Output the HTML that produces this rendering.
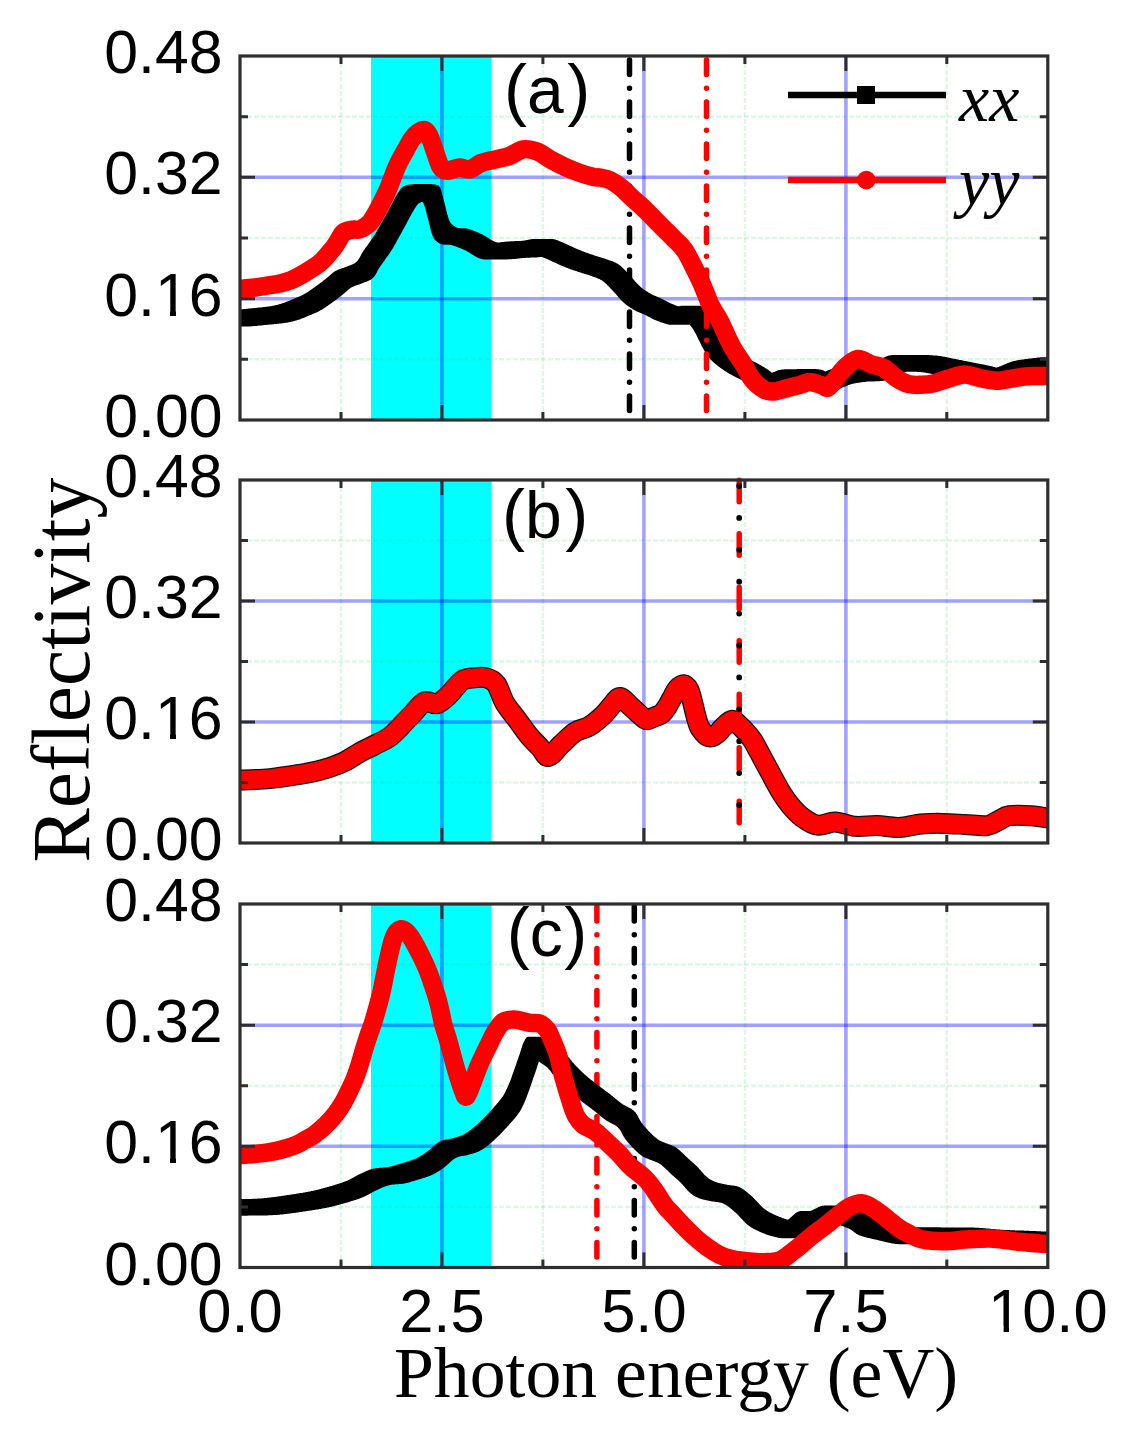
<!DOCTYPE html>
<html><head><meta charset="utf-8"><style>
html,body{margin:0;padding:0;background:#fff;}
svg{display:block;} .wrap{width:1135px;height:1441px;}
.ts{font-family:"Liberation Sans",sans-serif;}
.tf{font-family:"Liberation Serif",serif;font-variant-ligatures:none;font-feature-settings:"liga" 0;}
</style></head><body><div class="wrap">
<svg width="1135" height="1441" viewBox="0 0 1135 1441">
<rect width="1135" height="1441" fill="#fff"/>

<clipPath id="c0"><rect x="240.0" y="56.0" width="807.8" height="364.0"/></clipPath>
<clipPath id="c1"><rect x="240.0" y="480.0" width="807.8" height="363.0"/></clipPath>
<clipPath id="c2"><rect x="240.0" y="904.0" width="807.8" height="363.5"/></clipPath>
<g clip-path="url(#c0)"><rect x="371" y="56.0" width="120.5" height="364.0" fill="#00ffff"/><line x1="341.0" y1="56.0" x2="341.0" y2="420.0" stroke="rgba(0,200,60,0.13)" stroke-width="2.5" stroke-dasharray="5 2"/><line x1="542.9" y1="56.0" x2="542.9" y2="420.0" stroke="rgba(0,200,60,0.13)" stroke-width="2.5" stroke-dasharray="5 2"/><line x1="744.9" y1="56.0" x2="744.9" y2="420.0" stroke="rgba(0,200,60,0.13)" stroke-width="2.5" stroke-dasharray="5 2"/><line x1="946.8" y1="56.0" x2="946.8" y2="420.0" stroke="rgba(0,200,60,0.13)" stroke-width="2.5" stroke-dasharray="5 2"/><line x1="240.0" y1="359.3" x2="1047.8" y2="359.3" stroke="rgba(0,200,60,0.13)" stroke-width="2.5" stroke-dasharray="5 2"/><line x1="240.0" y1="238.0" x2="1047.8" y2="238.0" stroke="rgba(0,200,60,0.13)" stroke-width="2.5" stroke-dasharray="5 2"/><line x1="240.0" y1="116.7" x2="1047.8" y2="116.7" stroke="rgba(0,200,60,0.13)" stroke-width="2.5" stroke-dasharray="5 2"/><line x1="441.9" y1="56.0" x2="441.9" y2="420.0" stroke="rgba(0,0,255,0.37)" stroke-width="3.6"/><line x1="643.9" y1="56.0" x2="643.9" y2="420.0" stroke="rgba(0,0,255,0.37)" stroke-width="3.6"/><line x1="845.9" y1="56.0" x2="845.9" y2="420.0" stroke="rgba(0,0,255,0.37)" stroke-width="3.6"/><line x1="240.0" y1="298.7" x2="1047.8" y2="298.7" stroke="rgba(0,0,255,0.37)" stroke-width="3.6"/><line x1="240.0" y1="177.3" x2="1047.8" y2="177.3" stroke="rgba(0,0,255,0.37)" stroke-width="3.6"/></g>
<g clip-path="url(#c1)"><rect x="371" y="480.0" width="120.5" height="363.0" fill="#00ffff"/><line x1="341.0" y1="480.0" x2="341.0" y2="843.0" stroke="rgba(0,200,60,0.13)" stroke-width="2.5" stroke-dasharray="5 2"/><line x1="542.9" y1="480.0" x2="542.9" y2="843.0" stroke="rgba(0,200,60,0.13)" stroke-width="2.5" stroke-dasharray="5 2"/><line x1="744.9" y1="480.0" x2="744.9" y2="843.0" stroke="rgba(0,200,60,0.13)" stroke-width="2.5" stroke-dasharray="5 2"/><line x1="946.8" y1="480.0" x2="946.8" y2="843.0" stroke="rgba(0,200,60,0.13)" stroke-width="2.5" stroke-dasharray="5 2"/><line x1="240.0" y1="782.5" x2="1047.8" y2="782.5" stroke="rgba(0,200,60,0.13)" stroke-width="2.5" stroke-dasharray="5 2"/><line x1="240.0" y1="661.5" x2="1047.8" y2="661.5" stroke="rgba(0,200,60,0.13)" stroke-width="2.5" stroke-dasharray="5 2"/><line x1="240.0" y1="540.5" x2="1047.8" y2="540.5" stroke="rgba(0,200,60,0.13)" stroke-width="2.5" stroke-dasharray="5 2"/><line x1="441.9" y1="480.0" x2="441.9" y2="843.0" stroke="rgba(0,0,255,0.37)" stroke-width="3.6"/><line x1="643.9" y1="480.0" x2="643.9" y2="843.0" stroke="rgba(0,0,255,0.37)" stroke-width="3.6"/><line x1="845.9" y1="480.0" x2="845.9" y2="843.0" stroke="rgba(0,0,255,0.37)" stroke-width="3.6"/><line x1="240.0" y1="722.0" x2="1047.8" y2="722.0" stroke="rgba(0,0,255,0.37)" stroke-width="3.6"/><line x1="240.0" y1="601.0" x2="1047.8" y2="601.0" stroke="rgba(0,0,255,0.37)" stroke-width="3.6"/></g>
<g clip-path="url(#c2)"><rect x="371" y="904.0" width="120.5" height="363.5" fill="#00ffff"/><line x1="341.0" y1="904.0" x2="341.0" y2="1267.5" stroke="rgba(0,200,60,0.13)" stroke-width="2.5" stroke-dasharray="5 2"/><line x1="542.9" y1="904.0" x2="542.9" y2="1267.5" stroke="rgba(0,200,60,0.13)" stroke-width="2.5" stroke-dasharray="5 2"/><line x1="744.9" y1="904.0" x2="744.9" y2="1267.5" stroke="rgba(0,200,60,0.13)" stroke-width="2.5" stroke-dasharray="5 2"/><line x1="946.8" y1="904.0" x2="946.8" y2="1267.5" stroke="rgba(0,200,60,0.13)" stroke-width="2.5" stroke-dasharray="5 2"/><line x1="240.0" y1="1206.9" x2="1047.8" y2="1206.9" stroke="rgba(0,200,60,0.13)" stroke-width="2.5" stroke-dasharray="5 2"/><line x1="240.0" y1="1085.8" x2="1047.8" y2="1085.8" stroke="rgba(0,200,60,0.13)" stroke-width="2.5" stroke-dasharray="5 2"/><line x1="240.0" y1="964.6" x2="1047.8" y2="964.6" stroke="rgba(0,200,60,0.13)" stroke-width="2.5" stroke-dasharray="5 2"/><line x1="441.9" y1="904.0" x2="441.9" y2="1267.5" stroke="rgba(0,0,255,0.37)" stroke-width="3.6"/><line x1="643.9" y1="904.0" x2="643.9" y2="1267.5" stroke="rgba(0,0,255,0.37)" stroke-width="3.6"/><line x1="845.9" y1="904.0" x2="845.9" y2="1267.5" stroke="rgba(0,0,255,0.37)" stroke-width="3.6"/><line x1="240.0" y1="1146.3" x2="1047.8" y2="1146.3" stroke="rgba(0,0,255,0.37)" stroke-width="3.6"/><line x1="240.0" y1="1025.2" x2="1047.8" y2="1025.2" stroke="rgba(0,0,255,0.37)" stroke-width="3.6"/></g>
<line x1="629.5" y1="60.0" x2="629.5" y2="417.0" stroke="#000" stroke-width="5.5" stroke-linecap="round" stroke-dasharray="14.5 13.75 0 13.75" stroke-dashoffset="0"/>
<path clip-path="url(#c0)" d="M231.8,310.1h16.5v16.5h-16.5zM232.1,310.1h16.5v16.5h-16.5zM232.4,310.1h16.5v16.5h-16.5zM232.8,310.1h16.5v16.5h-16.5zM233.2,310.0h16.5v16.5h-16.5zM233.7,310.0h16.5v16.5h-16.5zM234.2,309.9h16.5v16.5h-16.5zM234.7,309.9h16.5v16.5h-16.5zM235.3,309.8h16.5v16.5h-16.5zM235.8,309.8h16.5v16.5h-16.5zM236.4,309.7h16.5v16.5h-16.5zM237.0,309.7h16.5v16.5h-16.5zM237.7,309.6h16.5v16.5h-16.5zM238.3,309.5h16.5v16.5h-16.5zM239.0,309.5h16.5v16.5h-16.5zM239.6,309.4h16.5v16.5h-16.5zM240.3,309.4h16.5v16.5h-16.5zM241.0,309.3h16.5v16.5h-16.5zM241.6,309.2h16.5v16.5h-16.5zM242.3,309.2h16.5v16.5h-16.5zM243.0,309.1h16.5v16.5h-16.5zM243.6,309.0h16.5v16.5h-16.5zM244.3,309.0h16.5v16.5h-16.5zM244.9,308.9h16.5v16.5h-16.5zM245.6,308.9h16.5v16.5h-16.5zM246.2,308.8h16.5v16.5h-16.5zM246.8,308.8h16.5v16.5h-16.5zM247.3,308.7h16.5v16.5h-16.5zM247.9,308.6h16.5v16.5h-16.5zM248.5,308.6h16.5v16.5h-16.5zM249.1,308.5h16.5v16.5h-16.5zM249.7,308.5h16.5v16.5h-16.5zM250.3,308.4h16.5v16.5h-16.5zM250.9,308.3h16.5v16.5h-16.5zM251.5,308.3h16.5v16.5h-16.5zM252.1,308.2h16.5v16.5h-16.5zM252.7,308.2h16.5v16.5h-16.5zM253.4,308.1h16.5v16.5h-16.5zM254.0,308.1h16.5v16.5h-16.5zM254.6,308.0h16.5v16.5h-16.5zM255.2,307.9h16.5v16.5h-16.5zM255.8,307.9h16.5v16.5h-16.5zM256.3,307.8h16.5v16.5h-16.5zM256.9,307.8h16.5v16.5h-16.5zM257.5,307.7h16.5v16.5h-16.5zM258.1,307.6h16.5v16.5h-16.5zM258.6,307.6h16.5v16.5h-16.5zM259.2,307.5h16.5v16.5h-16.5zM259.7,307.5h16.5v16.5h-16.5zM260.2,307.4h16.5v16.5h-16.5zM260.8,307.4h16.5v16.5h-16.5zM261.3,307.3h16.5v16.5h-16.5zM261.8,307.2h16.5v16.5h-16.5zM262.5,307.2h16.5v16.5h-16.5zM263.2,307.1h16.5v16.5h-16.5zM263.8,307.0h16.5v16.5h-16.5zM264.4,307.0h16.5v16.5h-16.5zM265.0,306.9h16.5v16.5h-16.5zM265.6,306.8h16.5v16.5h-16.5zM266.2,306.8h16.5v16.5h-16.5zM266.8,306.7h16.5v16.5h-16.5zM267.3,306.6h16.5v16.5h-16.5zM267.8,306.6h16.5v16.5h-16.5zM268.4,306.5h16.5v16.5h-16.5zM268.9,306.4h16.5v16.5h-16.5zM269.5,306.3h16.5v16.5h-16.5zM270.0,306.3h16.5v16.5h-16.5zM270.6,306.2h16.5v16.5h-16.5zM271.2,306.1h16.5v16.5h-16.5zM271.8,305.9h16.5v16.5h-16.5zM272.3,305.8h16.5v16.5h-16.5zM272.8,305.7h16.5v16.5h-16.5zM273.4,305.6h16.5v16.5h-16.5zM273.9,305.5h16.5v16.5h-16.5zM274.5,305.4h16.5v16.5h-16.5zM275.1,305.3h16.5v16.5h-16.5zM275.6,305.1h16.5v16.5h-16.5zM276.2,305.0h16.5v16.5h-16.5zM276.7,304.9h16.5v16.5h-16.5zM277.3,304.7h16.5v16.5h-16.5zM277.9,304.6h16.5v16.5h-16.5zM278.4,304.4h16.5v16.5h-16.5zM279.0,304.3h16.5v16.5h-16.5zM279.6,304.1h16.5v16.5h-16.5zM280.1,303.9h16.5v16.5h-16.5zM280.7,303.8h16.5v16.5h-16.5zM281.2,303.6h16.5v16.5h-16.5zM281.8,303.4h16.5v16.5h-16.5zM282.4,303.2h16.5v16.5h-16.5zM282.9,303.1h16.5v16.5h-16.5zM283.5,302.9h16.5v16.5h-16.5zM284.0,302.7h16.5v16.5h-16.5zM284.6,302.5h16.5v16.5h-16.5zM285.1,302.3h16.5v16.5h-16.5zM285.7,302.1h16.5v16.5h-16.5zM286.2,301.8h16.5v16.5h-16.5zM286.8,301.6h16.5v16.5h-16.5zM287.3,301.4h16.5v16.5h-16.5zM287.9,301.2h16.5v16.5h-16.5zM288.4,300.9h16.5v16.5h-16.5zM289.0,300.7h16.5v16.5h-16.5zM289.5,300.5h16.5v16.5h-16.5zM290.1,300.2h16.5v16.5h-16.5zM290.6,300.0h16.5v16.5h-16.5zM291.2,299.8h16.5v16.5h-16.5zM291.7,299.5h16.5v16.5h-16.5zM292.3,299.3h16.5v16.5h-16.5zM292.9,299.1h16.5v16.5h-16.5zM293.4,298.8h16.5v16.5h-16.5zM293.9,298.6h16.5v16.5h-16.5zM294.4,298.4h16.5v16.5h-16.5zM295.0,298.2h16.5v16.5h-16.5zM295.5,298.0h16.5v16.5h-16.5zM296.0,297.7h16.5v16.5h-16.5zM296.6,297.5h16.5v16.5h-16.5zM297.1,297.3h16.5v16.5h-16.5zM297.6,297.1h16.5v16.5h-16.5zM298.1,296.9h16.5v16.5h-16.5zM298.7,296.6h16.5v16.5h-16.5zM299.2,296.4h16.5v16.5h-16.5zM299.7,296.2h16.5v16.5h-16.5zM300.3,295.9h16.5v16.5h-16.5zM300.8,295.7h16.5v16.5h-16.5zM301.3,295.4h16.5v16.5h-16.5zM301.9,295.2h16.5v16.5h-16.5zM302.4,294.9h16.5v16.5h-16.5zM302.9,294.6h16.5v16.5h-16.5zM303.4,294.4h16.5v16.5h-16.5zM303.9,294.1h16.5v16.5h-16.5zM304.4,293.8h16.5v16.5h-16.5zM304.9,293.5h16.5v16.5h-16.5zM305.4,293.2h16.5v16.5h-16.5zM305.9,293.0h16.5v16.5h-16.5zM306.3,292.7h16.5v16.5h-16.5zM306.8,292.4h16.5v16.5h-16.5zM307.3,292.0h16.5v16.5h-16.5zM307.8,291.7h16.5v16.5h-16.5zM308.3,291.4h16.5v16.5h-16.5zM308.8,291.1h16.5v16.5h-16.5zM309.2,290.8h16.5v16.5h-16.5zM309.7,290.5h16.5v16.5h-16.5zM310.2,290.1h16.5v16.5h-16.5zM310.7,289.8h16.5v16.5h-16.5zM311.2,289.5h16.5v16.5h-16.5zM311.6,289.1h16.5v16.5h-16.5zM312.1,288.8h16.5v16.5h-16.5zM312.6,288.5h16.5v16.5h-16.5zM313.1,288.1h16.5v16.5h-16.5zM313.6,287.8h16.5v16.5h-16.5zM314.1,287.4h16.5v16.5h-16.5zM314.5,287.1h16.5v16.5h-16.5zM315.0,286.8h16.5v16.5h-16.5zM315.4,286.5h16.5v16.5h-16.5zM315.9,286.1h16.5v16.5h-16.5zM316.4,285.8h16.5v16.5h-16.5zM316.8,285.5h16.5v16.5h-16.5zM317.3,285.1h16.5v16.5h-16.5zM317.7,284.8h16.5v16.5h-16.5zM318.2,284.5h16.5v16.5h-16.5zM318.7,284.1h16.5v16.5h-16.5zM319.1,283.8h16.5v16.5h-16.5zM319.6,283.4h16.5v16.5h-16.5zM320.0,283.1h16.5v16.5h-16.5zM320.5,282.7h16.5v16.5h-16.5zM321.0,282.4h16.5v16.5h-16.5zM321.4,282.0h16.5v16.5h-16.5zM321.9,281.7h16.5v16.5h-16.5zM322.4,281.3h16.5v16.5h-16.5zM322.8,281.0h16.5v16.5h-16.5zM323.3,280.6h16.5v16.5h-16.5zM323.7,280.3h16.5v16.5h-16.5zM324.2,279.9h16.5v16.5h-16.5zM324.6,279.6h16.5v16.5h-16.5zM325.1,279.2h16.5v16.5h-16.5zM325.6,278.8h16.5v16.5h-16.5zM326.0,278.4h16.5v16.5h-16.5zM326.5,278.1h16.5v16.5h-16.5zM326.9,277.7h16.5v16.5h-16.5zM327.4,277.3h16.5v16.5h-16.5zM327.8,276.9h16.5v16.5h-16.5zM328.3,276.5h16.5v16.5h-16.5zM328.8,276.1h16.5v16.5h-16.5zM329.2,275.7h16.5v16.5h-16.5zM329.7,275.3h16.5v16.5h-16.5zM330.1,274.9h16.5v16.5h-16.5zM330.6,274.5h16.5v16.5h-16.5zM331.0,274.1h16.5v16.5h-16.5zM331.5,273.7h16.5v16.5h-16.5zM332.0,273.3h16.5v16.5h-16.5zM332.4,273.0h16.5v16.5h-16.5zM332.9,272.6h16.5v16.5h-16.5zM333.3,272.3h16.5v16.5h-16.5zM333.8,272.0h16.5v16.5h-16.5zM334.2,271.6h16.5v16.5h-16.5zM334.7,271.3h16.5v16.5h-16.5zM335.1,271.1h16.5v16.5h-16.5zM335.7,270.7h16.5v16.5h-16.5zM336.2,270.5h16.5v16.5h-16.5zM336.7,270.2h16.5v16.5h-16.5zM337.3,269.9h16.5v16.5h-16.5zM337.8,269.7h16.5v16.5h-16.5zM338.3,269.5h16.5v16.5h-16.5zM338.9,269.3h16.5v16.5h-16.5zM339.4,269.1h16.5v16.5h-16.5zM339.9,268.9h16.5v16.5h-16.5zM340.4,268.7h16.5v16.5h-16.5zM341.0,268.6h16.5v16.5h-16.5zM341.5,268.4h16.5v16.5h-16.5zM342.0,268.2h16.5v16.5h-16.5zM342.6,268.0h16.5v16.5h-16.5zM343.1,267.9h16.5v16.5h-16.5zM343.6,267.7h16.5v16.5h-16.5zM344.2,267.5h16.5v16.5h-16.5zM344.7,267.3h16.5v16.5h-16.5zM345.2,267.1h16.5v16.5h-16.5zM345.8,266.9h16.5v16.5h-16.5zM346.3,266.6h16.5v16.5h-16.5zM346.8,266.4h16.5v16.5h-16.5zM347.4,266.2h16.5v16.5h-16.5zM347.9,266.0h16.5v16.5h-16.5zM348.5,265.8h16.5v16.5h-16.5zM349.0,265.6h16.5v16.5h-16.5zM349.6,265.4h16.5v16.5h-16.5zM350.2,265.2h16.5v16.5h-16.5zM350.7,264.9h16.5v16.5h-16.5zM351.3,264.7h16.5v16.5h-16.5zM351.8,264.5h16.5v16.5h-16.5zM352.4,264.3h16.5v16.5h-16.5zM352.9,264.0h16.5v16.5h-16.5zM353.4,263.7h16.5v16.5h-16.5zM354.0,263.5h16.5v16.5h-16.5zM354.5,263.2h16.5v16.5h-16.5zM355.0,262.8h16.5v16.5h-16.5zM355.4,262.5h16.5v16.5h-16.5zM355.9,262.1h16.5v16.5h-16.5zM356.4,261.8h16.5v16.5h-16.5zM356.7,261.4h16.5v16.5h-16.5zM357.1,261.0h16.5v16.5h-16.5zM357.5,260.6h16.5v16.5h-16.5zM357.8,260.2h16.5v16.5h-16.5zM358.1,259.7h16.5v16.5h-16.5zM358.4,259.3h16.5v16.5h-16.5zM358.7,258.8h16.5v16.5h-16.5zM359.0,258.4h16.5v16.5h-16.5zM359.3,257.9h16.5v16.5h-16.5zM359.5,257.4h16.5v16.5h-16.5zM359.8,256.9h16.5v16.5h-16.5zM360.1,256.4h16.5v16.5h-16.5zM360.4,255.9h16.5v16.5h-16.5zM360.7,255.3h16.5v16.5h-16.5zM361.0,254.8h16.5v16.5h-16.5zM361.2,254.2h16.5v16.5h-16.5zM361.6,253.7h16.5v16.5h-16.5zM361.9,253.1h16.5v16.5h-16.5zM362.2,252.5h16.5v16.5h-16.5zM362.6,251.9h16.5v16.5h-16.5zM363.0,251.4h16.5v16.5h-16.5zM363.4,250.8h16.5v16.5h-16.5zM363.6,250.3h16.5v16.5h-16.5zM363.9,249.9h16.5v16.5h-16.5zM364.2,249.5h16.5v16.5h-16.5zM364.6,249.0h16.5v16.5h-16.5zM364.9,248.6h16.5v16.5h-16.5zM365.2,248.1h16.5v16.5h-16.5zM365.5,247.6h16.5v16.5h-16.5zM365.9,247.1h16.5v16.5h-16.5zM366.2,246.7h16.5v16.5h-16.5zM366.6,246.2h16.5v16.5h-16.5zM366.9,245.7h16.5v16.5h-16.5zM367.3,245.2h16.5v16.5h-16.5zM367.7,244.7h16.5v16.5h-16.5zM368.0,244.2h16.5v16.5h-16.5zM368.4,243.7h16.5v16.5h-16.5zM368.8,243.1h16.5v16.5h-16.5zM369.2,242.6h16.5v16.5h-16.5zM369.5,242.1h16.5v16.5h-16.5zM369.9,241.6h16.5v16.5h-16.5zM370.3,241.1h16.5v16.5h-16.5zM370.6,240.6h16.5v16.5h-16.5zM371.0,240.1h16.5v16.5h-16.5zM371.4,239.6h16.5v16.5h-16.5zM371.7,239.1h16.5v16.5h-16.5zM372.1,238.5h16.5v16.5h-16.5zM372.4,238.0h16.5v16.5h-16.5zM372.8,237.6h16.5v16.5h-16.5zM373.1,237.1h16.5v16.5h-16.5zM373.4,236.6h16.5v16.5h-16.5zM373.7,236.1h16.5v16.5h-16.5zM374.0,235.6h16.5v16.5h-16.5zM374.4,235.2h16.5v16.5h-16.5zM374.7,234.6h16.5v16.5h-16.5zM375.0,234.1h16.5v16.5h-16.5zM375.3,233.6h16.5v16.5h-16.5zM375.7,233.1h16.5v16.5h-16.5zM376.0,232.5h16.5v16.5h-16.5zM376.3,232.0h16.5v16.5h-16.5zM376.6,231.5h16.5v16.5h-16.5zM376.9,231.0h16.5v16.5h-16.5zM377.2,230.5h16.5v16.5h-16.5zM377.5,230.0h16.5v16.5h-16.5zM377.8,229.5h16.5v16.5h-16.5zM378.0,229.0h16.5v16.5h-16.5zM378.3,228.5h16.5v16.5h-16.5zM378.6,228.0h16.5v16.5h-16.5zM378.9,227.5h16.5v16.5h-16.5zM379.2,227.0h16.5v16.5h-16.5zM379.4,226.5h16.5v16.5h-16.5zM379.7,226.0h16.5v16.5h-16.5zM380.0,225.5h16.5v16.5h-16.5zM380.2,225.0h16.5v16.5h-16.5zM380.5,224.5h16.5v16.5h-16.5zM380.8,224.0h16.5v16.5h-16.5zM381.1,223.5h16.5v16.5h-16.5zM381.3,223.1h16.5v16.5h-16.5zM381.6,222.6h16.5v16.5h-16.5zM381.9,222.1h16.5v16.5h-16.5zM382.2,221.6h16.5v16.5h-16.5zM382.4,221.1h16.5v16.5h-16.5zM382.7,220.5h16.5v16.5h-16.5zM383.0,220.0h16.5v16.5h-16.5zM383.3,219.5h16.5v16.5h-16.5zM383.6,218.9h16.5v16.5h-16.5zM383.9,218.4h16.5v16.5h-16.5zM384.2,217.9h16.5v16.5h-16.5zM384.5,217.3h16.5v16.5h-16.5zM384.8,216.8h16.5v16.5h-16.5zM385.1,216.3h16.5v16.5h-16.5zM385.4,215.7h16.5v16.5h-16.5zM385.7,215.2h16.5v16.5h-16.5zM386.0,214.7h16.5v16.5h-16.5zM386.2,214.1h16.5v16.5h-16.5zM386.5,213.6h16.5v16.5h-16.5zM386.8,213.1h16.5v16.5h-16.5zM387.1,212.6h16.5v16.5h-16.5zM387.4,212.0h16.5v16.5h-16.5zM387.7,211.5h16.5v16.5h-16.5zM388.0,211.0h16.5v16.5h-16.5zM388.2,210.5h16.5v16.5h-16.5zM388.5,210.0h16.5v16.5h-16.5zM388.8,209.4h16.5v16.5h-16.5zM389.1,208.9h16.5v16.5h-16.5zM389.3,208.4h16.5v16.5h-16.5zM389.6,207.9h16.5v16.5h-16.5zM389.9,207.4h16.5v16.5h-16.5zM390.1,206.9h16.5v16.5h-16.5zM390.4,206.4h16.5v16.5h-16.5zM390.7,205.9h16.5v16.5h-16.5zM391.0,205.3h16.5v16.5h-16.5zM391.3,204.8h16.5v16.5h-16.5zM391.6,204.2h16.5v16.5h-16.5zM391.9,203.7h16.5v16.5h-16.5zM392.2,203.1h16.5v16.5h-16.5zM392.5,202.6h16.5v16.5h-16.5zM392.7,202.1h16.5v16.5h-16.5zM393.0,201.5h16.5v16.5h-16.5zM393.3,201.0h16.5v16.5h-16.5zM393.6,200.5h16.5v16.5h-16.5zM393.8,200.0h16.5v16.5h-16.5zM394.1,199.4h16.5v16.5h-16.5zM394.4,198.9h16.5v16.5h-16.5zM394.6,198.4h16.5v16.5h-16.5zM394.9,197.9h16.5v16.5h-16.5zM395.2,197.5h16.5v16.5h-16.5zM395.4,197.0h16.5v16.5h-16.5zM395.7,196.5h16.5v16.5h-16.5zM396.0,196.1h16.5v16.5h-16.5zM396.2,195.6h16.5v16.5h-16.5zM396.5,195.2h16.5v16.5h-16.5zM396.8,194.8h16.5v16.5h-16.5zM397.1,194.2h16.5v16.5h-16.5zM397.5,193.6h16.5v16.5h-16.5zM397.8,193.0h16.5v16.5h-16.5zM398.1,192.5h16.5v16.5h-16.5zM398.5,191.9h16.5v16.5h-16.5zM398.8,191.4h16.5v16.5h-16.5zM399.1,190.9h16.5v16.5h-16.5zM399.4,190.4h16.5v16.5h-16.5zM399.8,189.9h16.5v16.5h-16.5zM400.1,189.4h16.5v16.5h-16.5zM400.4,189.0h16.5v16.5h-16.5zM400.8,188.6h16.5v16.5h-16.5zM401.1,188.2h16.5v16.5h-16.5zM401.5,187.8h16.5v16.5h-16.5zM401.9,187.4h16.5v16.5h-16.5zM402.3,187.1h16.5v16.5h-16.5zM402.8,186.8h16.5v16.5h-16.5zM403.2,186.4h16.5v16.5h-16.5zM403.7,186.2h16.5v16.5h-16.5zM404.3,185.9h16.5v16.5h-16.5zM404.8,185.7h16.5v16.5h-16.5zM405.4,185.5h16.5v16.5h-16.5zM405.9,185.3h16.5v16.5h-16.5zM406.5,185.1h16.5v16.5h-16.5zM407.1,185.0h16.5v16.5h-16.5zM407.7,184.8h16.5v16.5h-16.5zM408.3,184.7h16.5v16.5h-16.5zM408.9,184.6h16.5v16.5h-16.5zM409.5,184.5h16.5v16.5h-16.5zM410.1,184.5h16.5v16.5h-16.5zM410.7,184.4h16.5v16.5h-16.5zM411.2,184.3h16.5v16.5h-16.5zM411.8,184.2h16.5v16.5h-16.5zM412.4,184.2h16.5v16.5h-16.5zM413.0,184.1h16.5v16.5h-16.5zM413.6,184.1h16.5v16.5h-16.5zM414.2,184.1h16.5v16.5h-16.5zM414.8,184.1h16.5v16.5h-16.5zM415.5,184.1h16.5v16.5h-16.5zM416.1,184.2h16.5v16.5h-16.5zM416.7,184.2h16.5v16.5h-16.5zM417.2,184.3h16.5v16.5h-16.5zM417.8,184.3h16.5v16.5h-16.5zM418.3,184.4h16.5v16.5h-16.5zM418.8,184.5h16.5v16.5h-16.5zM419.3,184.6h16.5v16.5h-16.5zM419.8,184.8h16.5v16.5h-16.5zM420.4,184.9h16.5v16.5h-16.5zM420.9,185.0h16.5v16.5h-16.5zM421.4,185.2h16.5v16.5h-16.5zM421.8,185.3h16.5v16.5h-16.5zM422.2,185.5h16.5v16.5h-16.5zM422.6,185.8h16.5v16.5h-16.5zM422.9,186.3h16.5v16.5h-16.5zM423.3,186.9h16.5v16.5h-16.5zM423.8,187.8h16.5v16.5h-16.5zM423.9,188.1h16.5v16.5h-16.5zM424.1,188.5h16.5v16.5h-16.5zM424.2,188.9h16.5v16.5h-16.5zM424.4,189.3h16.5v16.5h-16.5zM424.5,189.8h16.5v16.5h-16.5zM424.7,190.3h16.5v16.5h-16.5zM424.8,190.8h16.5v16.5h-16.5zM425.0,191.3h16.5v16.5h-16.5zM425.1,191.8h16.5v16.5h-16.5zM425.3,192.4h16.5v16.5h-16.5zM425.5,192.9h16.5v16.5h-16.5zM425.6,193.5h16.5v16.5h-16.5zM425.8,194.1h16.5v16.5h-16.5zM425.9,194.7h16.5v16.5h-16.5zM426.1,195.3h16.5v16.5h-16.5zM426.2,195.9h16.5v16.5h-16.5zM426.4,196.6h16.5v16.5h-16.5zM426.6,197.2h16.5v16.5h-16.5zM426.7,197.9h16.5v16.5h-16.5zM426.9,198.5h16.5v16.5h-16.5zM427.1,199.1h16.5v16.5h-16.5zM427.2,199.8h16.5v16.5h-16.5zM427.4,200.5h16.5v16.5h-16.5zM427.6,201.1h16.5v16.5h-16.5zM427.8,201.8h16.5v16.5h-16.5zM427.9,202.3h16.5v16.5h-16.5zM428.0,202.8h16.5v16.5h-16.5zM428.2,203.3h16.5v16.5h-16.5zM428.3,203.9h16.5v16.5h-16.5zM428.5,204.5h16.5v16.5h-16.5zM428.6,205.1h16.5v16.5h-16.5zM428.8,205.7h16.5v16.5h-16.5zM428.9,206.3h16.5v16.5h-16.5zM429.0,206.9h16.5v16.5h-16.5zM429.2,207.5h16.5v16.5h-16.5zM429.3,208.2h16.5v16.5h-16.5zM429.5,208.8h16.5v16.5h-16.5zM429.7,209.4h16.5v16.5h-16.5zM429.8,210.1h16.5v16.5h-16.5zM430.0,210.7h16.5v16.5h-16.5zM430.1,211.4h16.5v16.5h-16.5zM430.3,212.0h16.5v16.5h-16.5zM430.4,212.6h16.5v16.5h-16.5zM430.6,213.2h16.5v16.5h-16.5zM430.7,213.8h16.5v16.5h-16.5zM430.9,214.5h16.5v16.5h-16.5zM431.1,215.0h16.5v16.5h-16.5zM431.2,215.6h16.5v16.5h-16.5zM431.4,216.2h16.5v16.5h-16.5zM431.6,216.7h16.5v16.5h-16.5zM431.7,217.3h16.5v16.5h-16.5zM431.9,217.8h16.5v16.5h-16.5zM432.1,218.3h16.5v16.5h-16.5zM432.2,218.8h16.5v16.5h-16.5zM432.4,219.2h16.5v16.5h-16.5zM432.6,219.6h16.5v16.5h-16.5zM432.8,220.1h16.5v16.5h-16.5zM433.1,220.8h16.5v16.5h-16.5zM433.5,221.5h16.5v16.5h-16.5zM433.8,222.1h16.5v16.5h-16.5zM434.2,222.7h16.5v16.5h-16.5zM434.6,223.2h16.5v16.5h-16.5zM435.0,223.6h16.5v16.5h-16.5zM435.4,224.1h16.5v16.5h-16.5zM435.8,224.4h16.5v16.5h-16.5zM436.2,224.8h16.5v16.5h-16.5zM436.6,225.1h16.5v16.5h-16.5zM437.0,225.4h16.5v16.5h-16.5zM437.4,225.7h16.5v16.5h-16.5zM437.8,226.0h16.5v16.5h-16.5zM438.2,226.2h16.5v16.5h-16.5zM438.6,226.5h16.5v16.5h-16.5zM438.9,226.8h16.5v16.5h-16.5zM439.5,227.1h16.5v16.5h-16.5zM440.1,227.4h16.5v16.5h-16.5zM440.7,227.6h16.5v16.5h-16.5zM441.2,227.8h16.5v16.5h-16.5zM441.8,227.9h16.5v16.5h-16.5zM442.4,228.0h16.5v16.5h-16.5zM442.9,228.0h16.5v16.5h-16.5zM443.5,228.1h16.5v16.5h-16.5zM444.1,228.2h16.5v16.5h-16.5zM444.8,228.2h16.5v16.5h-16.5zM445.3,228.3h16.5v16.5h-16.5zM445.8,228.3h16.5v16.5h-16.5zM446.2,228.3h16.5v16.5h-16.5zM446.7,228.3h16.5v16.5h-16.5zM447.2,228.3h16.5v16.5h-16.5zM447.7,228.2h16.5v16.5h-16.5zM448.3,228.2h16.5v16.5h-16.5zM448.8,228.2h16.5v16.5h-16.5zM449.5,228.3h16.5v16.5h-16.5zM450.2,228.4h16.5v16.5h-16.5zM450.9,228.5h16.5v16.5h-16.5zM451.8,228.8h16.5v16.5h-16.5zM452.2,228.9h16.5v16.5h-16.5zM452.6,229.0h16.5v16.5h-16.5zM453.1,229.2h16.5v16.5h-16.5zM453.5,229.3h16.5v16.5h-16.5zM454.0,229.5h16.5v16.5h-16.5zM454.5,229.6h16.5v16.5h-16.5zM455.0,229.8h16.5v16.5h-16.5zM455.6,230.0h16.5v16.5h-16.5zM456.1,230.2h16.5v16.5h-16.5zM456.7,230.4h16.5v16.5h-16.5zM457.2,230.6h16.5v16.5h-16.5zM457.8,230.9h16.5v16.5h-16.5zM458.4,231.1h16.5v16.5h-16.5zM458.9,231.3h16.5v16.5h-16.5zM459.5,231.6h16.5v16.5h-16.5zM460.1,231.8h16.5v16.5h-16.5zM460.7,232.0h16.5v16.5h-16.5zM461.3,232.3h16.5v16.5h-16.5zM461.9,232.5h16.5v16.5h-16.5zM462.5,232.8h16.5v16.5h-16.5zM463.0,233.1h16.5v16.5h-16.5zM463.6,233.3h16.5v16.5h-16.5zM464.2,233.6h16.5v16.5h-16.5zM464.7,233.8h16.5v16.5h-16.5zM465.3,234.1h16.5v16.5h-16.5zM465.9,234.3h16.5v16.5h-16.5zM466.4,234.6h16.5v16.5h-16.5zM466.9,234.9h16.5v16.5h-16.5zM467.4,235.2h16.5v16.5h-16.5zM467.9,235.5h16.5v16.5h-16.5zM468.5,235.8h16.5v16.5h-16.5zM469.0,236.1h16.5v16.5h-16.5zM469.5,236.4h16.5v16.5h-16.5zM470.0,236.7h16.5v16.5h-16.5zM470.6,237.1h16.5v16.5h-16.5zM471.1,237.4h16.5v16.5h-16.5zM471.6,237.7h16.5v16.5h-16.5zM472.1,238.1h16.5v16.5h-16.5zM472.6,238.4h16.5v16.5h-16.5zM473.2,238.7h16.5v16.5h-16.5zM473.7,239.1h16.5v16.5h-16.5zM474.2,239.4h16.5v16.5h-16.5zM474.7,239.7h16.5v16.5h-16.5zM475.2,240.0h16.5v16.5h-16.5zM475.8,240.3h16.5v16.5h-16.5zM476.3,240.6h16.5v16.5h-16.5zM476.8,240.9h16.5v16.5h-16.5zM477.3,241.1h16.5v16.5h-16.5zM477.9,241.4h16.5v16.5h-16.5zM478.4,241.6h16.5v16.5h-16.5zM478.9,241.8h16.5v16.5h-16.5zM479.4,242.0h16.5v16.5h-16.5zM479.9,242.2h16.5v16.5h-16.5zM480.5,242.3h16.5v16.5h-16.5zM481.1,242.5h16.5v16.5h-16.5zM481.7,242.6h16.5v16.5h-16.5zM482.3,242.7h16.5v16.5h-16.5zM482.9,242.8h16.5v16.5h-16.5zM483.5,242.9h16.5v16.5h-16.5zM484.1,242.9h16.5v16.5h-16.5zM484.6,243.0h16.5v16.5h-16.5zM485.2,243.0h16.5v16.5h-16.5zM485.8,243.0h16.5v16.5h-16.5zM486.4,243.0h16.5v16.5h-16.5zM487.0,243.0h16.5v16.5h-16.5zM487.6,243.0h16.5v16.5h-16.5zM488.2,243.0h16.5v16.5h-16.5zM488.8,243.0h16.5v16.5h-16.5zM489.4,243.0h16.5v16.5h-16.5zM489.9,242.9h16.5v16.5h-16.5zM490.5,242.9h16.5v16.5h-16.5zM491.1,242.9h16.5v16.5h-16.5zM491.7,242.8h16.5v16.5h-16.5zM492.3,242.8h16.5v16.5h-16.5zM492.9,242.8h16.5v16.5h-16.5zM493.5,242.8h16.5v16.5h-16.5zM494.1,242.8h16.5v16.5h-16.5zM494.6,242.7h16.5v16.5h-16.5zM495.2,242.7h16.5v16.5h-16.5zM495.8,242.7h16.5v16.5h-16.5zM496.4,242.6h16.5v16.5h-16.5zM497.0,242.6h16.5v16.5h-16.5zM497.6,242.5h16.5v16.5h-16.5zM498.2,242.5h16.5v16.5h-16.5zM498.8,242.4h16.5v16.5h-16.5zM499.3,242.4h16.5v16.5h-16.5zM499.9,242.3h16.5v16.5h-16.5zM500.5,242.2h16.5v16.5h-16.5zM501.1,242.2h16.5v16.5h-16.5zM501.7,242.1h16.5v16.5h-16.5zM502.3,242.0h16.5v16.5h-16.5zM502.9,242.0h16.5v16.5h-16.5zM503.4,241.9h16.5v16.5h-16.5zM504.0,241.8h16.5v16.5h-16.5zM504.6,241.8h16.5v16.5h-16.5zM505.2,241.7h16.5v16.5h-16.5zM505.8,241.7h16.5v16.5h-16.5zM506.4,241.6h16.5v16.5h-16.5zM507.0,241.5h16.5v16.5h-16.5zM507.6,241.5h16.5v16.5h-16.5zM508.1,241.4h16.5v16.5h-16.5zM508.7,241.4h16.5v16.5h-16.5zM509.3,241.4h16.5v16.5h-16.5zM509.9,241.3h16.5v16.5h-16.5zM510.5,241.3h16.5v16.5h-16.5zM511.1,241.3h16.5v16.5h-16.5zM511.7,241.3h16.5v16.5h-16.5zM512.3,241.2h16.5v16.5h-16.5zM512.9,241.2h16.5v16.5h-16.5zM513.4,241.2h16.5v16.5h-16.5zM514.0,241.2h16.5v16.5h-16.5zM514.6,241.1h16.5v16.5h-16.5zM515.2,241.1h16.5v16.5h-16.5zM515.8,241.1h16.5v16.5h-16.5zM516.4,241.1h16.5v16.5h-16.5zM517.0,241.1h16.5v16.5h-16.5zM517.5,241.0h16.5v16.5h-16.5zM518.1,241.0h16.5v16.5h-16.5zM518.7,241.0h16.5v16.5h-16.5zM519.3,241.0h16.5v16.5h-16.5zM519.9,240.9h16.5v16.5h-16.5zM520.5,240.9h16.5v16.5h-16.5zM521.1,240.8h16.5v16.5h-16.5zM521.7,240.8h16.5v16.5h-16.5zM522.2,240.8h16.5v16.5h-16.5zM522.8,240.7h16.5v16.5h-16.5zM523.4,240.6h16.5v16.5h-16.5zM524.0,240.5h16.5v16.5h-16.5zM524.6,240.4h16.5v16.5h-16.5zM525.2,240.3h16.5v16.5h-16.5zM525.8,240.2h16.5v16.5h-16.5zM526.4,240.1h16.5v16.5h-16.5zM527.0,240.0h16.5v16.5h-16.5zM527.5,239.9h16.5v16.5h-16.5zM528.1,239.8h16.5v16.5h-16.5zM528.7,239.6h16.5v16.5h-16.5zM529.3,239.5h16.5v16.5h-16.5zM529.9,239.4h16.5v16.5h-16.5zM530.5,239.3h16.5v16.5h-16.5zM531.1,239.2h16.5v16.5h-16.5zM531.6,239.1h16.5v16.5h-16.5zM532.2,239.1h16.5v16.5h-16.5zM532.8,239.0h16.5v16.5h-16.5zM533.4,239.0h16.5v16.5h-16.5zM534.0,238.9h16.5v16.5h-16.5zM534.6,238.9h16.5v16.5h-16.5zM535.2,239.0h16.5v16.5h-16.5zM535.8,239.0h16.5v16.5h-16.5zM536.4,239.1h16.5v16.5h-16.5zM536.9,239.1h16.5v16.5h-16.5zM537.4,239.2h16.5v16.5h-16.5zM538.0,239.3h16.5v16.5h-16.5zM538.5,239.5h16.5v16.5h-16.5zM539.1,239.6h16.5v16.5h-16.5zM539.6,239.8h16.5v16.5h-16.5zM540.1,239.9h16.5v16.5h-16.5zM540.7,240.1h16.5v16.5h-16.5zM541.2,240.3h16.5v16.5h-16.5zM541.8,240.5h16.5v16.5h-16.5zM542.3,240.7h16.5v16.5h-16.5zM542.9,240.9h16.5v16.5h-16.5zM543.4,241.2h16.5v16.5h-16.5zM543.9,241.4h16.5v16.5h-16.5zM544.5,241.6h16.5v16.5h-16.5zM545.0,241.9h16.5v16.5h-16.5zM545.6,242.1h16.5v16.5h-16.5zM546.1,242.3h16.5v16.5h-16.5zM546.7,242.6h16.5v16.5h-16.5zM547.2,242.8h16.5v16.5h-16.5zM547.7,243.1h16.5v16.5h-16.5zM548.3,243.3h16.5v16.5h-16.5zM548.8,243.6h16.5v16.5h-16.5zM549.4,243.8h16.5v16.5h-16.5zM549.9,244.0h16.5v16.5h-16.5zM550.5,244.2h16.5v16.5h-16.5zM551.0,244.5h16.5v16.5h-16.5zM551.5,244.7h16.5v16.5h-16.5zM552.1,244.9h16.5v16.5h-16.5zM552.6,245.2h16.5v16.5h-16.5zM553.2,245.4h16.5v16.5h-16.5zM553.7,245.7h16.5v16.5h-16.5zM554.2,245.9h16.5v16.5h-16.5zM554.8,246.1h16.5v16.5h-16.5zM555.3,246.4h16.5v16.5h-16.5zM555.9,246.7h16.5v16.5h-16.5zM556.4,246.9h16.5v16.5h-16.5zM557.0,247.2h16.5v16.5h-16.5zM557.5,247.4h16.5v16.5h-16.5zM558.0,247.7h16.5v16.5h-16.5zM558.6,247.9h16.5v16.5h-16.5zM559.1,248.2h16.5v16.5h-16.5zM559.7,248.4h16.5v16.5h-16.5zM560.2,248.7h16.5v16.5h-16.5zM560.8,248.9h16.5v16.5h-16.5zM561.3,249.2h16.5v16.5h-16.5zM561.8,249.4h16.5v16.5h-16.5zM562.4,249.6h16.5v16.5h-16.5zM562.9,249.9h16.5v16.5h-16.5zM563.5,250.1h16.5v16.5h-16.5zM564.0,250.3h16.5v16.5h-16.5zM564.5,250.6h16.5v16.5h-16.5zM565.1,250.8h16.5v16.5h-16.5zM565.7,251.0h16.5v16.5h-16.5zM566.2,251.2h16.5v16.5h-16.5zM566.8,251.4h16.5v16.5h-16.5zM567.4,251.6h16.5v16.5h-16.5zM568.0,251.9h16.5v16.5h-16.5zM568.5,252.1h16.5v16.5h-16.5zM569.1,252.3h16.5v16.5h-16.5zM569.7,252.5h16.5v16.5h-16.5zM570.2,252.7h16.5v16.5h-16.5zM570.8,252.9h16.5v16.5h-16.5zM571.4,253.1h16.5v16.5h-16.5zM571.9,253.3h16.5v16.5h-16.5zM572.5,253.5h16.5v16.5h-16.5zM573.1,253.7h16.5v16.5h-16.5zM573.6,253.9h16.5v16.5h-16.5zM574.2,254.1h16.5v16.5h-16.5zM574.8,254.2h16.5v16.5h-16.5zM575.3,254.4h16.5v16.5h-16.5zM575.9,254.6h16.5v16.5h-16.5zM576.5,254.8h16.5v16.5h-16.5zM577.0,255.0h16.5v16.5h-16.5zM577.6,255.2h16.5v16.5h-16.5zM578.1,255.4h16.5v16.5h-16.5zM578.6,255.6h16.5v16.5h-16.5zM579.2,255.7h16.5v16.5h-16.5zM579.8,255.9h16.5v16.5h-16.5zM580.4,256.1h16.5v16.5h-16.5zM581.0,256.3h16.5v16.5h-16.5zM581.6,256.5h16.5v16.5h-16.5zM582.2,256.7h16.5v16.5h-16.5zM582.8,256.9h16.5v16.5h-16.5zM583.4,257.1h16.5v16.5h-16.5zM584.0,257.2h16.5v16.5h-16.5zM584.5,257.4h16.5v16.5h-16.5zM585.1,257.6h16.5v16.5h-16.5zM585.7,257.8h16.5v16.5h-16.5zM586.3,257.9h16.5v16.5h-16.5zM586.9,258.1h16.5v16.5h-16.5zM587.4,258.3h16.5v16.5h-16.5zM588.0,258.5h16.5v16.5h-16.5zM588.5,258.6h16.5v16.5h-16.5zM589.1,258.8h16.5v16.5h-16.5zM589.6,259.0h16.5v16.5h-16.5zM590.2,259.2h16.5v16.5h-16.5zM590.7,259.4h16.5v16.5h-16.5zM591.2,259.6h16.5v16.5h-16.5zM591.8,259.8h16.5v16.5h-16.5zM592.3,260.0h16.5v16.5h-16.5zM592.9,260.2h16.5v16.5h-16.5zM593.5,260.4h16.5v16.5h-16.5zM594.0,260.6h16.5v16.5h-16.5zM594.6,260.8h16.5v16.5h-16.5zM595.1,261.0h16.5v16.5h-16.5zM595.6,261.1h16.5v16.5h-16.5zM596.2,261.3h16.5v16.5h-16.5zM596.7,261.5h16.5v16.5h-16.5zM597.2,261.7h16.5v16.5h-16.5zM597.7,261.9h16.5v16.5h-16.5zM598.2,262.2h16.5v16.5h-16.5zM598.7,262.4h16.5v16.5h-16.5zM599.3,262.6h16.5v16.5h-16.5zM599.8,262.9h16.5v16.5h-16.5zM600.3,263.2h16.5v16.5h-16.5zM600.8,263.4h16.5v16.5h-16.5zM601.3,263.8h16.5v16.5h-16.5zM601.8,264.1h16.5v16.5h-16.5zM602.4,264.4h16.5v16.5h-16.5zM602.8,264.8h16.5v16.5h-16.5zM603.2,265.1h16.5v16.5h-16.5zM603.6,265.4h16.5v16.5h-16.5zM604.0,265.7h16.5v16.5h-16.5zM604.5,266.1h16.5v16.5h-16.5zM604.9,266.5h16.5v16.5h-16.5zM605.3,266.8h16.5v16.5h-16.5zM605.7,267.2h16.5v16.5h-16.5zM606.1,267.6h16.5v16.5h-16.5zM606.6,268.0h16.5v16.5h-16.5zM607.0,268.4h16.5v16.5h-16.5zM607.4,268.9h16.5v16.5h-16.5zM607.8,269.3h16.5v16.5h-16.5zM608.2,269.7h16.5v16.5h-16.5zM608.6,270.1h16.5v16.5h-16.5zM609.1,270.6h16.5v16.5h-16.5zM609.5,271.0h16.5v16.5h-16.5zM609.9,271.5h16.5v16.5h-16.5zM610.3,271.9h16.5v16.5h-16.5zM610.7,272.3h16.5v16.5h-16.5zM611.2,272.8h16.5v16.5h-16.5zM611.6,273.2h16.5v16.5h-16.5zM612.0,273.7h16.5v16.5h-16.5zM612.4,274.1h16.5v16.5h-16.5zM612.9,274.6h16.5v16.5h-16.5zM613.2,275.0h16.5v16.5h-16.5zM613.6,275.4h16.5v16.5h-16.5zM614.0,275.8h16.5v16.5h-16.5zM614.4,276.2h16.5v16.5h-16.5zM614.8,276.7h16.5v16.5h-16.5zM615.2,277.1h16.5v16.5h-16.5zM615.6,277.6h16.5v16.5h-16.5zM616.0,278.0h16.5v16.5h-16.5zM616.4,278.5h16.5v16.5h-16.5zM616.8,278.9h16.5v16.5h-16.5zM617.2,279.4h16.5v16.5h-16.5zM617.6,279.8h16.5v16.5h-16.5zM617.9,280.3h16.5v16.5h-16.5zM618.3,280.7h16.5v16.5h-16.5zM618.7,281.2h16.5v16.5h-16.5zM619.1,281.7h16.5v16.5h-16.5zM619.5,282.1h16.5v16.5h-16.5zM619.9,282.5h16.5v16.5h-16.5zM620.3,283.0h16.5v16.5h-16.5zM620.7,283.4h16.5v16.5h-16.5zM621.1,283.8h16.5v16.5h-16.5zM621.5,284.2h16.5v16.5h-16.5zM621.9,284.6h16.5v16.5h-16.5zM622.3,285.0h16.5v16.5h-16.5zM622.7,285.4h16.5v16.5h-16.5zM623.1,285.8h16.5v16.5h-16.5zM623.5,286.1h16.5v16.5h-16.5zM623.9,286.6h16.5v16.5h-16.5zM624.4,287.0h16.5v16.5h-16.5zM624.9,287.4h16.5v16.5h-16.5zM625.4,287.8h16.5v16.5h-16.5zM625.9,288.2h16.5v16.5h-16.5zM626.3,288.5h16.5v16.5h-16.5zM626.8,288.9h16.5v16.5h-16.5zM627.3,289.3h16.5v16.5h-16.5zM627.8,289.6h16.5v16.5h-16.5zM628.3,289.9h16.5v16.5h-16.5zM628.8,290.3h16.5v16.5h-16.5zM629.2,290.6h16.5v16.5h-16.5zM629.7,290.9h16.5v16.5h-16.5zM630.2,291.2h16.5v16.5h-16.5zM630.7,291.5h16.5v16.5h-16.5zM631.2,291.8h16.5v16.5h-16.5zM631.6,292.1h16.5v16.5h-16.5zM632.1,292.4h16.5v16.5h-16.5zM632.6,292.7h16.5v16.5h-16.5zM633.1,293.0h16.5v16.5h-16.5zM633.6,293.3h16.5v16.5h-16.5zM634.0,293.6h16.5v16.5h-16.5zM634.6,293.8h16.5v16.5h-16.5zM635.1,294.1h16.5v16.5h-16.5zM635.6,294.4h16.5v16.5h-16.5zM636.2,294.7h16.5v16.5h-16.5zM636.7,294.9h16.5v16.5h-16.5zM637.2,295.2h16.5v16.5h-16.5zM637.8,295.4h16.5v16.5h-16.5zM638.3,295.6h16.5v16.5h-16.5zM638.8,295.9h16.5v16.5h-16.5zM639.4,296.1h16.5v16.5h-16.5zM639.9,296.3h16.5v16.5h-16.5zM640.4,296.5h16.5v16.5h-16.5zM640.9,296.7h16.5v16.5h-16.5zM641.5,297.0h16.5v16.5h-16.5zM642.0,297.2h16.5v16.5h-16.5zM642.5,297.4h16.5v16.5h-16.5zM643.1,297.6h16.5v16.5h-16.5zM643.6,297.9h16.5v16.5h-16.5zM644.1,298.1h16.5v16.5h-16.5zM644.6,298.4h16.5v16.5h-16.5zM645.2,298.6h16.5v16.5h-16.5zM645.7,298.9h16.5v16.5h-16.5zM646.2,299.1h16.5v16.5h-16.5zM646.8,299.4h16.5v16.5h-16.5zM647.3,299.7h16.5v16.5h-16.5zM647.8,300.0h16.5v16.5h-16.5zM648.3,300.2h16.5v16.5h-16.5zM648.9,300.5h16.5v16.5h-16.5zM649.4,300.8h16.5v16.5h-16.5zM649.9,301.1h16.5v16.5h-16.5zM650.4,301.3h16.5v16.5h-16.5zM650.9,301.6h16.5v16.5h-16.5zM651.5,301.9h16.5v16.5h-16.5zM652.0,302.2h16.5v16.5h-16.5zM652.5,302.4h16.5v16.5h-16.5zM653.0,302.7h16.5v16.5h-16.5zM653.6,302.9h16.5v16.5h-16.5zM654.1,303.2h16.5v16.5h-16.5zM654.6,303.4h16.5v16.5h-16.5zM655.1,303.6h16.5v16.5h-16.5zM655.7,303.9h16.5v16.5h-16.5zM656.3,304.1h16.5v16.5h-16.5zM656.9,304.4h16.5v16.5h-16.5zM657.5,304.6h16.5v16.5h-16.5zM658.0,304.8h16.5v16.5h-16.5zM658.6,305.0h16.5v16.5h-16.5zM659.2,305.3h16.5v16.5h-16.5zM659.8,305.5h16.5v16.5h-16.5zM660.4,305.7h16.5v16.5h-16.5zM661.0,305.9h16.5v16.5h-16.5zM661.6,306.1h16.5v16.5h-16.5zM662.2,306.3h16.5v16.5h-16.5zM662.7,306.4h16.5v16.5h-16.5zM663.3,306.6h16.5v16.5h-16.5zM663.8,306.8h16.5v16.5h-16.5zM664.3,306.9h16.5v16.5h-16.5zM664.8,307.1h16.5v16.5h-16.5zM665.3,307.2h16.5v16.5h-16.5zM665.8,307.4h16.5v16.5h-16.5zM666.5,307.5h16.5v16.5h-16.5zM667.1,307.7h16.5v16.5h-16.5zM667.6,307.9h16.5v16.5h-16.5zM668.1,308.0h16.5v16.5h-16.5zM668.6,308.1h16.5v16.5h-16.5zM669.0,308.2h16.5v16.5h-16.5zM669.5,308.3h16.5v16.5h-16.5zM670.0,308.3h16.5v16.5h-16.5zM670.5,308.3h16.5v16.5h-16.5zM671.1,308.3h16.5v16.5h-16.5zM671.8,308.2h16.5v16.5h-16.5zM672.2,308.2h16.5v16.5h-16.5zM672.7,308.1h16.5v16.5h-16.5zM673.2,308.0h16.5v16.5h-16.5zM673.7,307.8h16.5v16.5h-16.5zM674.3,307.7h16.5v16.5h-16.5zM674.9,307.5h16.5v16.5h-16.5zM675.4,307.3h16.5v16.5h-16.5zM676.0,307.1h16.5v16.5h-16.5zM676.6,306.9h16.5v16.5h-16.5zM677.2,306.7h16.5v16.5h-16.5zM677.8,306.6h16.5v16.5h-16.5zM678.4,306.4h16.5v16.5h-16.5zM679.0,306.2h16.5v16.5h-16.5zM679.6,306.1h16.5v16.5h-16.5zM680.1,305.9h16.5v16.5h-16.5zM680.7,305.8h16.5v16.5h-16.5zM681.2,305.8h16.5v16.5h-16.5zM681.6,305.8h16.5v16.5h-16.5zM682.3,305.7h16.5v16.5h-16.5zM682.9,305.7h16.5v16.5h-16.5zM683.5,305.8h16.5v16.5h-16.5zM684.1,305.8h16.5v16.5h-16.5zM684.6,305.9h16.5v16.5h-16.5zM685.2,306.0h16.5v16.5h-16.5zM685.7,306.2h16.5v16.5h-16.5zM686.2,306.3h16.5v16.5h-16.5zM686.7,306.5h16.5v16.5h-16.5zM687.2,306.8h16.5v16.5h-16.5zM687.7,307.1h16.5v16.5h-16.5zM688.2,307.4h16.5v16.5h-16.5zM688.8,307.8h16.5v16.5h-16.5zM689.1,308.1h16.5v16.5h-16.5zM689.5,308.4h16.5v16.5h-16.5zM689.9,308.8h16.5v16.5h-16.5zM690.3,309.2h16.5v16.5h-16.5zM690.6,309.6h16.5v16.5h-16.5zM691.0,310.0h16.5v16.5h-16.5zM691.3,310.5h16.5v16.5h-16.5zM691.7,311.0h16.5v16.5h-16.5zM692.1,311.5h16.5v16.5h-16.5zM692.4,312.0h16.5v16.5h-16.5zM692.8,312.5h16.5v16.5h-16.5zM693.1,313.1h16.5v16.5h-16.5zM693.4,313.6h16.5v16.5h-16.5zM693.8,314.1h16.5v16.5h-16.5zM694.1,314.7h16.5v16.5h-16.5zM694.4,315.2h16.5v16.5h-16.5zM694.8,315.8h16.5v16.5h-16.5zM695.0,316.2h16.5v16.5h-16.5zM695.3,316.7h16.5v16.5h-16.5zM695.6,317.2h16.5v16.5h-16.5zM695.9,317.7h16.5v16.5h-16.5zM696.1,318.2h16.5v16.5h-16.5zM696.4,318.7h16.5v16.5h-16.5zM696.6,319.2h16.5v16.5h-16.5zM696.9,319.8h16.5v16.5h-16.5zM697.1,320.3h16.5v16.5h-16.5zM697.4,320.8h16.5v16.5h-16.5zM697.6,321.4h16.5v16.5h-16.5zM697.9,321.9h16.5v16.5h-16.5zM698.1,322.4h16.5v16.5h-16.5zM698.4,323.0h16.5v16.5h-16.5zM698.6,323.5h16.5v16.5h-16.5zM698.9,324.1h16.5v16.5h-16.5zM699.2,324.6h16.5v16.5h-16.5zM699.5,325.2h16.5v16.5h-16.5zM699.8,325.8h16.5v16.5h-16.5zM700.0,326.3h16.5v16.5h-16.5zM700.3,326.8h16.5v16.5h-16.5zM700.5,327.3h16.5v16.5h-16.5zM700.8,327.8h16.5v16.5h-16.5zM701.1,328.3h16.5v16.5h-16.5zM701.3,328.9h16.5v16.5h-16.5zM701.6,329.4h16.5v16.5h-16.5zM701.9,329.9h16.5v16.5h-16.5zM702.2,330.5h16.5v16.5h-16.5zM702.4,331.0h16.5v16.5h-16.5zM702.7,331.6h16.5v16.5h-16.5zM703.0,332.1h16.5v16.5h-16.5zM703.3,332.6h16.5v16.5h-16.5zM703.6,333.2h16.5v16.5h-16.5zM703.9,333.7h16.5v16.5h-16.5zM704.2,334.2h16.5v16.5h-16.5zM704.5,334.8h16.5v16.5h-16.5zM704.8,335.3h16.5v16.5h-16.5zM705.1,335.8h16.5v16.5h-16.5zM705.4,336.3h16.5v16.5h-16.5zM705.8,336.8h16.5v16.5h-16.5zM706.1,337.2h16.5v16.5h-16.5zM706.4,337.7h16.5v16.5h-16.5zM706.7,338.2h16.5v16.5h-16.5zM707.1,338.7h16.5v16.5h-16.5zM707.4,339.2h16.5v16.5h-16.5zM707.7,339.6h16.5v16.5h-16.5zM708.0,340.1h16.5v16.5h-16.5zM708.4,340.5h16.5v16.5h-16.5zM708.7,341.0h16.5v16.5h-16.5zM709.0,341.4h16.5v16.5h-16.5zM709.4,341.8h16.5v16.5h-16.5zM709.8,342.3h16.5v16.5h-16.5zM710.1,342.7h16.5v16.5h-16.5zM710.5,343.2h16.5v16.5h-16.5zM711.0,343.6h16.5v16.5h-16.5zM711.4,344.1h16.5v16.5h-16.5zM711.8,344.5h16.5v16.5h-16.5zM712.3,345.0h16.5v16.5h-16.5zM712.8,345.5h16.5v16.5h-16.5zM713.4,345.9h16.5v16.5h-16.5zM713.7,346.3h16.5v16.5h-16.5zM714.1,346.6h16.5v16.5h-16.5zM714.5,346.9h16.5v16.5h-16.5zM714.9,347.3h16.5v16.5h-16.5zM715.3,347.6h16.5v16.5h-16.5zM715.8,348.0h16.5v16.5h-16.5zM716.2,348.3h16.5v16.5h-16.5zM716.6,348.7h16.5v16.5h-16.5zM717.1,349.0h16.5v16.5h-16.5zM717.6,349.4h16.5v16.5h-16.5zM718.0,349.8h16.5v16.5h-16.5zM718.5,350.1h16.5v16.5h-16.5zM719.0,350.5h16.5v16.5h-16.5zM719.5,350.8h16.5v16.5h-16.5zM720.0,351.2h16.5v16.5h-16.5zM720.5,351.6h16.5v16.5h-16.5zM721.0,351.9h16.5v16.5h-16.5zM721.5,352.3h16.5v16.5h-16.5zM722.0,352.6h16.5v16.5h-16.5zM722.5,353.0h16.5v16.5h-16.5zM723.0,353.3h16.5v16.5h-16.5zM723.5,353.7h16.5v16.5h-16.5zM724.0,354.0h16.5v16.5h-16.5zM724.5,354.4h16.5v16.5h-16.5zM725.0,354.7h16.5v16.5h-16.5zM725.5,355.0h16.5v16.5h-16.5zM726.0,355.3h16.5v16.5h-16.5zM726.5,355.6h16.5v16.5h-16.5zM727.0,355.9h16.5v16.5h-16.5zM727.5,356.2h16.5v16.5h-16.5zM728.0,356.6h16.5v16.5h-16.5zM728.5,356.9h16.5v16.5h-16.5zM729.1,357.2h16.5v16.5h-16.5zM729.6,357.5h16.5v16.5h-16.5zM730.1,357.8h16.5v16.5h-16.5zM730.7,358.1h16.5v16.5h-16.5zM731.3,358.4h16.5v16.5h-16.5zM731.8,358.7h16.5v16.5h-16.5zM732.4,359.0h16.5v16.5h-16.5zM732.9,359.3h16.5v16.5h-16.5zM733.5,359.6h16.5v16.5h-16.5zM734.0,359.9h16.5v16.5h-16.5zM734.6,360.1h16.5v16.5h-16.5zM735.1,360.4h16.5v16.5h-16.5zM735.7,360.7h16.5v16.5h-16.5zM736.2,360.9h16.5v16.5h-16.5zM736.8,361.2h16.5v16.5h-16.5zM737.3,361.5h16.5v16.5h-16.5zM737.8,361.7h16.5v16.5h-16.5zM738.3,362.0h16.5v16.5h-16.5zM738.9,362.2h16.5v16.5h-16.5zM739.4,362.5h16.5v16.5h-16.5zM739.9,362.7h16.5v16.5h-16.5zM740.3,363.0h16.5v16.5h-16.5zM740.8,363.2h16.5v16.5h-16.5zM741.3,363.5h16.5v16.5h-16.5zM741.8,363.8h16.5v16.5h-16.5zM742.3,364.1h16.5v16.5h-16.5zM742.9,364.4h16.5v16.5h-16.5zM743.5,364.7h16.5v16.5h-16.5zM744.0,365.0h16.5v16.5h-16.5zM744.5,365.3h16.5v16.5h-16.5zM745.1,365.6h16.5v16.5h-16.5zM745.6,365.9h16.5v16.5h-16.5zM746.0,366.2h16.5v16.5h-16.5zM746.5,366.5h16.5v16.5h-16.5zM747.0,366.8h16.5v16.5h-16.5zM747.5,367.1h16.5v16.5h-16.5zM747.9,367.3h16.5v16.5h-16.5zM748.4,367.6h16.5v16.5h-16.5zM748.9,367.9h16.5v16.5h-16.5zM749.3,368.2h16.5v16.5h-16.5zM749.8,368.5h16.5v16.5h-16.5zM750.3,368.8h16.5v16.5h-16.5zM750.8,369.1h16.5v16.5h-16.5zM751.3,369.4h16.5v16.5h-16.5zM751.8,369.8h16.5v16.5h-16.5zM752.2,370.1h16.5v16.5h-16.5zM752.7,370.4h16.5v16.5h-16.5zM753.2,370.8h16.5v16.5h-16.5zM753.7,371.2h16.5v16.5h-16.5zM754.2,371.6h16.5v16.5h-16.5zM754.7,372.0h16.5v16.5h-16.5zM755.2,372.4h16.5v16.5h-16.5zM755.6,372.8h16.5v16.5h-16.5zM756.1,373.3h16.5v16.5h-16.5zM756.6,373.7h16.5v16.5h-16.5zM757.1,374.1h16.5v16.5h-16.5zM757.6,374.5h16.5v16.5h-16.5zM758.1,374.8h16.5v16.5h-16.5zM758.6,375.2h16.5v16.5h-16.5zM759.1,375.5h16.5v16.5h-16.5zM759.5,375.8h16.5v16.5h-16.5zM760.0,376.1h16.5v16.5h-16.5zM760.5,376.3h16.5v16.5h-16.5zM761.0,376.5h16.5v16.5h-16.5zM761.5,376.7h16.5v16.5h-16.5zM762.0,376.8h16.5v16.5h-16.5zM762.5,376.8h16.5v16.5h-16.5zM763.1,376.8h16.5v16.5h-16.5zM763.6,376.7h16.5v16.5h-16.5zM764.2,376.6h16.5v16.5h-16.5zM764.7,376.4h16.5v16.5h-16.5zM765.3,376.2h16.5v16.5h-16.5zM765.8,375.9h16.5v16.5h-16.5zM766.4,375.7h16.5v16.5h-16.5zM766.9,375.4h16.5v16.5h-16.5zM767.5,375.1h16.5v16.5h-16.5zM768.0,374.7h16.5v16.5h-16.5zM768.6,374.4h16.5v16.5h-16.5zM769.1,374.1h16.5v16.5h-16.5zM769.7,373.8h16.5v16.5h-16.5zM770.2,373.5h16.5v16.5h-16.5zM770.7,373.2h16.5v16.5h-16.5zM771.2,373.0h16.5v16.5h-16.5zM771.8,372.8h16.5v16.5h-16.5zM772.3,372.5h16.5v16.5h-16.5zM772.9,372.3h16.5v16.5h-16.5zM773.4,372.1h16.5v16.5h-16.5zM773.9,371.9h16.5v16.5h-16.5zM774.5,371.7h16.5v16.5h-16.5zM775.0,371.4h16.5v16.5h-16.5zM775.5,371.2h16.5v16.5h-16.5zM776.0,371.0h16.5v16.5h-16.5zM776.5,370.8h16.5v16.5h-16.5zM777.0,370.6h16.5v16.5h-16.5zM777.6,370.5h16.5v16.5h-16.5zM778.1,370.3h16.5v16.5h-16.5zM778.7,370.1h16.5v16.5h-16.5zM779.2,370.0h16.5v16.5h-16.5zM779.8,369.9h16.5v16.5h-16.5zM780.5,369.8h16.5v16.5h-16.5zM781.0,369.7h16.5v16.5h-16.5zM781.5,369.6h16.5v16.5h-16.5zM782.1,369.5h16.5v16.5h-16.5zM782.6,369.5h16.5v16.5h-16.5zM783.2,369.4h16.5v16.5h-16.5zM783.8,369.4h16.5v16.5h-16.5zM784.3,369.3h16.5v16.5h-16.5zM784.9,369.3h16.5v16.5h-16.5zM785.5,369.3h16.5v16.5h-16.5zM786.1,369.3h16.5v16.5h-16.5zM786.7,369.3h16.5v16.5h-16.5zM787.3,369.3h16.5v16.5h-16.5zM787.9,369.2h16.5v16.5h-16.5zM788.6,369.2h16.5v16.5h-16.5zM789.2,369.2h16.5v16.5h-16.5zM789.8,369.2h16.5v16.5h-16.5zM790.5,369.2h16.5v16.5h-16.5zM791.1,369.2h16.5v16.5h-16.5zM791.8,369.2h16.5v16.5h-16.5zM792.3,369.2h16.5v16.5h-16.5zM792.8,369.2h16.5v16.5h-16.5zM793.4,369.2h16.5v16.5h-16.5zM794.0,369.2h16.5v16.5h-16.5zM794.6,369.2h16.5v16.5h-16.5zM795.1,369.2h16.5v16.5h-16.5zM795.7,369.2h16.5v16.5h-16.5zM796.3,369.2h16.5v16.5h-16.5zM796.9,369.1h16.5v16.5h-16.5zM797.5,369.1h16.5v16.5h-16.5zM798.1,369.1h16.5v16.5h-16.5zM798.7,369.1h16.5v16.5h-16.5zM799.3,369.1h16.5v16.5h-16.5zM799.9,369.1h16.5v16.5h-16.5zM800.5,369.2h16.5v16.5h-16.5zM801.1,369.2h16.5v16.5h-16.5zM801.7,369.2h16.5v16.5h-16.5zM802.3,369.3h16.5v16.5h-16.5zM802.9,369.4h16.5v16.5h-16.5zM803.5,369.4h16.5v16.5h-16.5zM804.0,369.5h16.5v16.5h-16.5zM804.6,369.6h16.5v16.5h-16.5zM805.1,369.8h16.5v16.5h-16.5zM805.7,369.9h16.5v16.5h-16.5zM806.3,370.1h16.5v16.5h-16.5zM806.8,370.3h16.5v16.5h-16.5zM807.4,370.6h16.5v16.5h-16.5zM807.9,370.9h16.5v16.5h-16.5zM808.5,371.2h16.5v16.5h-16.5zM809.0,371.5h16.5v16.5h-16.5zM809.6,371.8h16.5v16.5h-16.5zM810.1,372.1h16.5v16.5h-16.5zM810.6,372.5h16.5v16.5h-16.5zM811.2,372.8h16.5v16.5h-16.5zM811.7,373.1h16.5v16.5h-16.5zM812.2,373.5h16.5v16.5h-16.5zM812.7,373.8h16.5v16.5h-16.5zM813.2,374.1h16.5v16.5h-16.5zM813.8,374.3h16.5v16.5h-16.5zM814.3,374.6h16.5v16.5h-16.5zM814.8,374.8h16.5v16.5h-16.5zM815.3,375.0h16.5v16.5h-16.5zM815.8,375.1h16.5v16.5h-16.5zM816.3,375.2h16.5v16.5h-16.5zM816.8,375.2h16.5v16.5h-16.5zM817.3,375.2h16.5v16.5h-16.5zM817.9,375.2h16.5v16.5h-16.5zM818.4,375.1h16.5v16.5h-16.5zM819.0,374.9h16.5v16.5h-16.5zM819.5,374.8h16.5v16.5h-16.5zM820.0,374.5h16.5v16.5h-16.5zM820.6,374.3h16.5v16.5h-16.5zM821.1,374.0h16.5v16.5h-16.5zM821.6,373.7h16.5v16.5h-16.5zM822.1,373.4h16.5v16.5h-16.5zM822.6,373.1h16.5v16.5h-16.5zM823.1,372.8h16.5v16.5h-16.5zM823.6,372.4h16.5v16.5h-16.5zM824.2,372.1h16.5v16.5h-16.5zM824.7,371.8h16.5v16.5h-16.5zM825.2,371.5h16.5v16.5h-16.5zM825.7,371.2h16.5v16.5h-16.5zM826.2,371.0h16.5v16.5h-16.5zM826.8,370.8h16.5v16.5h-16.5zM827.3,370.5h16.5v16.5h-16.5zM827.8,370.3h16.5v16.5h-16.5zM828.4,370.1h16.5v16.5h-16.5zM828.9,369.9h16.5v16.5h-16.5zM829.4,369.7h16.5v16.5h-16.5zM829.9,369.5h16.5v16.5h-16.5zM830.5,369.3h16.5v16.5h-16.5zM831.0,369.0h16.5v16.5h-16.5zM831.5,368.9h16.5v16.5h-16.5zM832.0,368.7h16.5v16.5h-16.5zM832.6,368.5h16.5v16.5h-16.5zM833.1,368.3h16.5v16.5h-16.5zM833.7,368.1h16.5v16.5h-16.5zM834.3,367.9h16.5v16.5h-16.5zM834.9,367.7h16.5v16.5h-16.5zM835.5,367.6h16.5v16.5h-16.5zM836.1,367.4h16.5v16.5h-16.5zM836.8,367.2h16.5v16.5h-16.5zM837.3,367.1h16.5v16.5h-16.5zM837.8,367.0h16.5v16.5h-16.5zM838.3,366.9h16.5v16.5h-16.5zM838.8,366.8h16.5v16.5h-16.5zM839.3,366.7h16.5v16.5h-16.5zM839.9,366.6h16.5v16.5h-16.5zM840.4,366.5h16.5v16.5h-16.5zM840.9,366.4h16.5v16.5h-16.5zM841.5,366.3h16.5v16.5h-16.5zM842.0,366.2h16.5v16.5h-16.5zM842.6,366.2h16.5v16.5h-16.5zM843.2,366.1h16.5v16.5h-16.5zM843.8,366.0h16.5v16.5h-16.5zM844.4,365.9h16.5v16.5h-16.5zM845.0,365.8h16.5v16.5h-16.5zM845.6,365.7h16.5v16.5h-16.5zM846.2,365.7h16.5v16.5h-16.5zM846.8,365.6h16.5v16.5h-16.5zM847.4,365.5h16.5v16.5h-16.5zM848.1,365.4h16.5v16.5h-16.5zM848.7,365.4h16.5v16.5h-16.5zM849.4,365.3h16.5v16.5h-16.5zM850.1,365.2h16.5v16.5h-16.5zM850.8,365.1h16.5v16.5h-16.5zM851.3,365.1h16.5v16.5h-16.5zM851.8,365.1h16.5v16.5h-16.5zM852.3,365.0h16.5v16.5h-16.5zM852.9,365.0h16.5v16.5h-16.5zM853.4,365.0h16.5v16.5h-16.5zM854.0,364.9h16.5v16.5h-16.5zM854.6,364.9h16.5v16.5h-16.5zM855.2,364.9h16.5v16.5h-16.5zM855.8,364.9h16.5v16.5h-16.5zM856.3,364.9h16.5v16.5h-16.5zM856.9,364.9h16.5v16.5h-16.5zM857.5,364.9h16.5v16.5h-16.5zM858.1,364.9h16.5v16.5h-16.5zM858.8,364.8h16.5v16.5h-16.5zM859.4,364.8h16.5v16.5h-16.5zM860.0,364.8h16.5v16.5h-16.5zM860.6,364.8h16.5v16.5h-16.5zM861.2,364.8h16.5v16.5h-16.5zM861.8,364.8h16.5v16.5h-16.5zM862.5,364.7h16.5v16.5h-16.5zM863.1,364.7h16.5v16.5h-16.5zM863.7,364.7h16.5v16.5h-16.5zM864.3,364.6h16.5v16.5h-16.5zM864.9,364.5h16.5v16.5h-16.5zM865.5,364.5h16.5v16.5h-16.5zM866.2,364.4h16.5v16.5h-16.5zM866.8,364.3h16.5v16.5h-16.5zM867.4,364.2h16.5v16.5h-16.5zM868.0,364.1h16.5v16.5h-16.5zM868.6,364.0h16.5v16.5h-16.5zM869.2,363.9h16.5v16.5h-16.5zM869.8,363.8h16.5v16.5h-16.5zM870.3,363.6h16.5v16.5h-16.5zM870.9,363.4h16.5v16.5h-16.5zM871.4,363.3h16.5v16.5h-16.5zM872.0,363.1h16.5v16.5h-16.5zM872.5,362.9h16.5v16.5h-16.5zM873.1,362.6h16.5v16.5h-16.5zM873.7,362.4h16.5v16.5h-16.5zM874.2,362.2h16.5v16.5h-16.5zM874.8,361.9h16.5v16.5h-16.5zM875.4,361.7h16.5v16.5h-16.5zM875.9,361.4h16.5v16.5h-16.5zM876.5,361.1h16.5v16.5h-16.5zM877.1,360.8h16.5v16.5h-16.5zM877.6,360.6h16.5v16.5h-16.5zM878.2,360.3h16.5v16.5h-16.5zM878.8,360.0h16.5v16.5h-16.5zM879.3,359.7h16.5v16.5h-16.5zM879.9,359.4h16.5v16.5h-16.5zM880.4,359.1h16.5v16.5h-16.5zM881.0,358.8h16.5v16.5h-16.5zM881.5,358.6h16.5v16.5h-16.5zM882.1,358.3h16.5v16.5h-16.5zM882.6,358.0h16.5v16.5h-16.5zM883.1,357.8h16.5v16.5h-16.5zM883.6,357.5h16.5v16.5h-16.5zM884.2,357.3h16.5v16.5h-16.5zM884.7,357.0h16.5v16.5h-16.5zM885.2,356.8h16.5v16.5h-16.5zM885.7,356.6h16.5v16.5h-16.5zM886.2,356.4h16.5v16.5h-16.5zM886.7,356.2h16.5v16.5h-16.5zM887.1,356.0h16.5v16.5h-16.5zM887.6,355.9h16.5v16.5h-16.5zM888.0,355.8h16.5v16.5h-16.5zM888.8,355.6h16.5v16.5h-16.5zM889.5,355.4h16.5v16.5h-16.5zM890.1,355.3h16.5v16.5h-16.5zM890.8,355.2h16.5v16.5h-16.5zM891.4,355.1h16.5v16.5h-16.5zM892.0,355.0h16.5v16.5h-16.5zM892.6,355.0h16.5v16.5h-16.5zM893.2,355.0h16.5v16.5h-16.5zM893.8,354.9h16.5v16.5h-16.5zM894.3,354.9h16.5v16.5h-16.5zM894.9,355.0h16.5v16.5h-16.5zM895.5,355.0h16.5v16.5h-16.5zM896.0,355.0h16.5v16.5h-16.5zM896.5,355.0h16.5v16.5h-16.5zM897.1,355.1h16.5v16.5h-16.5zM897.6,355.1h16.5v16.5h-16.5zM898.2,355.1h16.5v16.5h-16.5zM898.7,355.1h16.5v16.5h-16.5zM899.3,355.2h16.5v16.5h-16.5zM899.9,355.2h16.5v16.5h-16.5zM900.5,355.1h16.5v16.5h-16.5zM901.0,355.1h16.5v16.5h-16.5zM901.6,355.1h16.5v16.5h-16.5zM902.2,355.1h16.5v16.5h-16.5zM902.8,355.1h16.5v16.5h-16.5zM903.4,355.1h16.5v16.5h-16.5zM904.0,355.1h16.5v16.5h-16.5zM904.6,355.1h16.5v16.5h-16.5zM905.1,355.1h16.5v16.5h-16.5zM905.7,355.1h16.5v16.5h-16.5zM906.3,355.0h16.5v16.5h-16.5zM906.9,355.0h16.5v16.5h-16.5zM907.5,355.0h16.5v16.5h-16.5zM908.1,355.0h16.5v16.5h-16.5zM908.6,355.0h16.5v16.5h-16.5zM909.2,355.1h16.5v16.5h-16.5zM909.8,355.1h16.5v16.5h-16.5zM910.4,355.1h16.5v16.5h-16.5zM911.0,355.1h16.5v16.5h-16.5zM911.6,355.1h16.5v16.5h-16.5zM912.2,355.1h16.5v16.5h-16.5zM912.8,355.1h16.5v16.5h-16.5zM913.3,355.2h16.5v16.5h-16.5zM913.9,355.2h16.5v16.5h-16.5zM914.5,355.2h16.5v16.5h-16.5zM915.0,355.2h16.5v16.5h-16.5zM915.5,355.3h16.5v16.5h-16.5zM916.1,355.3h16.5v16.5h-16.5zM916.6,355.3h16.5v16.5h-16.5zM917.1,355.4h16.5v16.5h-16.5zM917.7,355.4h16.5v16.5h-16.5zM918.2,355.4h16.5v16.5h-16.5zM918.8,355.5h16.5v16.5h-16.5zM919.3,355.5h16.5v16.5h-16.5zM919.9,355.6h16.5v16.5h-16.5zM920.5,355.6h16.5v16.5h-16.5zM921.1,355.7h16.5v16.5h-16.5zM921.7,355.8h16.5v16.5h-16.5zM922.3,355.8h16.5v16.5h-16.5zM923.0,355.9h16.5v16.5h-16.5zM923.7,356.0h16.5v16.5h-16.5zM924.4,356.1h16.5v16.5h-16.5zM925.1,356.2h16.5v16.5h-16.5zM925.6,356.3h16.5v16.5h-16.5zM926.1,356.4h16.5v16.5h-16.5zM926.6,356.5h16.5v16.5h-16.5zM927.1,356.6h16.5v16.5h-16.5zM927.6,356.7h16.5v16.5h-16.5zM928.1,356.7h16.5v16.5h-16.5zM928.6,356.8h16.5v16.5h-16.5zM929.1,356.9h16.5v16.5h-16.5zM929.6,357.0h16.5v16.5h-16.5zM930.1,357.1h16.5v16.5h-16.5zM930.6,357.2h16.5v16.5h-16.5zM931.2,357.4h16.5v16.5h-16.5zM931.7,357.5h16.5v16.5h-16.5zM932.3,357.6h16.5v16.5h-16.5zM932.8,357.7h16.5v16.5h-16.5zM933.4,357.8h16.5v16.5h-16.5zM933.9,357.9h16.5v16.5h-16.5zM934.5,358.0h16.5v16.5h-16.5zM935.1,358.2h16.5v16.5h-16.5zM935.7,358.3h16.5v16.5h-16.5zM936.3,358.4h16.5v16.5h-16.5zM936.9,358.5h16.5v16.5h-16.5zM937.5,358.7h16.5v16.5h-16.5zM938.1,358.8h16.5v16.5h-16.5zM938.7,358.9h16.5v16.5h-16.5zM939.4,359.1h16.5v16.5h-16.5zM940.0,359.2h16.5v16.5h-16.5zM940.7,359.3h16.5v16.5h-16.5zM941.3,359.5h16.5v16.5h-16.5zM942.0,359.6h16.5v16.5h-16.5zM942.7,359.7h16.5v16.5h-16.5zM943.4,359.9h16.5v16.5h-16.5zM944.0,360.0h16.5v16.5h-16.5zM944.8,360.1h16.5v16.5h-16.5zM945.2,360.2h16.5v16.5h-16.5zM945.8,360.3h16.5v16.5h-16.5zM946.3,360.5h16.5v16.5h-16.5zM946.8,360.6h16.5v16.5h-16.5zM947.3,360.7h16.5v16.5h-16.5zM947.9,360.8h16.5v16.5h-16.5zM948.5,360.9h16.5v16.5h-16.5zM949.0,361.0h16.5v16.5h-16.5zM949.6,361.1h16.5v16.5h-16.5zM950.2,361.2h16.5v16.5h-16.5zM950.8,361.3h16.5v16.5h-16.5zM951.4,361.5h16.5v16.5h-16.5zM952.0,361.6h16.5v16.5h-16.5zM952.6,361.7h16.5v16.5h-16.5zM953.2,361.8h16.5v16.5h-16.5zM953.8,361.9h16.5v16.5h-16.5zM954.4,362.1h16.5v16.5h-16.5zM955.0,362.2h16.5v16.5h-16.5zM955.7,362.3h16.5v16.5h-16.5zM956.3,362.4h16.5v16.5h-16.5zM956.9,362.5h16.5v16.5h-16.5zM957.6,362.7h16.5v16.5h-16.5zM958.2,362.8h16.5v16.5h-16.5zM958.8,362.9h16.5v16.5h-16.5zM959.5,363.0h16.5v16.5h-16.5zM960.1,363.2h16.5v16.5h-16.5zM960.7,363.3h16.5v16.5h-16.5zM961.4,363.4h16.5v16.5h-16.5zM962.0,363.5h16.5v16.5h-16.5zM962.6,363.7h16.5v16.5h-16.5zM963.2,363.8h16.5v16.5h-16.5zM963.8,363.9h16.5v16.5h-16.5zM964.5,364.0h16.5v16.5h-16.5zM965.1,364.1h16.5v16.5h-16.5zM965.7,364.3h16.5v16.5h-16.5zM966.3,364.4h16.5v16.5h-16.5zM966.9,364.5h16.5v16.5h-16.5zM967.4,364.6h16.5v16.5h-16.5zM968.0,364.7h16.5v16.5h-16.5zM968.6,364.8h16.5v16.5h-16.5zM969.1,364.9h16.5v16.5h-16.5zM969.7,365.1h16.5v16.5h-16.5zM970.2,365.2h16.5v16.5h-16.5zM970.8,365.3h16.5v16.5h-16.5zM971.3,365.4h16.5v16.5h-16.5zM971.8,365.5h16.5v16.5h-16.5zM972.3,365.6h16.5v16.5h-16.5zM972.8,365.7h16.5v16.5h-16.5zM973.2,365.8h16.5v16.5h-16.5zM974.0,365.9h16.5v16.5h-16.5zM974.7,366.1h16.5v16.5h-16.5zM975.4,366.2h16.5v16.5h-16.5zM976.1,366.4h16.5v16.5h-16.5zM976.7,366.6h16.5v16.5h-16.5zM977.3,366.8h16.5v16.5h-16.5zM977.9,366.9h16.5v16.5h-16.5zM978.5,367.1h16.5v16.5h-16.5zM979.1,367.3h16.5v16.5h-16.5zM979.6,367.5h16.5v16.5h-16.5zM980.1,367.6h16.5v16.5h-16.5zM980.7,367.8h16.5v16.5h-16.5zM981.2,368.0h16.5v16.5h-16.5zM981.7,368.1h16.5v16.5h-16.5zM982.2,368.3h16.5v16.5h-16.5zM982.7,368.4h16.5v16.5h-16.5zM983.2,368.6h16.5v16.5h-16.5zM983.7,368.7h16.5v16.5h-16.5zM984.2,368.8h16.5v16.5h-16.5zM984.7,368.9h16.5v16.5h-16.5zM985.2,369.0h16.5v16.5h-16.5zM985.7,369.1h16.5v16.5h-16.5zM986.3,369.2h16.5v16.5h-16.5zM986.8,369.2h16.5v16.5h-16.5zM987.4,369.3h16.5v16.5h-16.5zM988.0,369.3h16.5v16.5h-16.5zM988.6,369.3h16.5v16.5h-16.5zM989.2,369.3h16.5v16.5h-16.5zM989.8,369.2h16.5v16.5h-16.5zM990.5,369.1h16.5v16.5h-16.5zM990.9,369.1h16.5v16.5h-16.5zM991.4,369.0h16.5v16.5h-16.5zM991.9,368.9h16.5v16.5h-16.5zM992.5,368.8h16.5v16.5h-16.5zM993.0,368.7h16.5v16.5h-16.5zM993.5,368.5h16.5v16.5h-16.5zM994.0,368.4h16.5v16.5h-16.5zM994.6,368.2h16.5v16.5h-16.5zM995.1,368.1h16.5v16.5h-16.5zM995.6,367.9h16.5v16.5h-16.5zM996.2,367.7h16.5v16.5h-16.5zM996.7,367.5h16.5v16.5h-16.5zM997.3,367.3h16.5v16.5h-16.5zM997.8,367.1h16.5v16.5h-16.5zM998.4,366.9h16.5v16.5h-16.5zM999.0,366.6h16.5v16.5h-16.5zM999.5,366.4h16.5v16.5h-16.5zM1000.1,366.2h16.5v16.5h-16.5zM1000.7,365.9h16.5v16.5h-16.5zM1001.3,365.7h16.5v16.5h-16.5zM1001.8,365.5h16.5v16.5h-16.5zM1002.4,365.2h16.5v16.5h-16.5zM1003.0,365.0h16.5v16.5h-16.5zM1003.6,364.7h16.5v16.5h-16.5zM1004.1,364.5h16.5v16.5h-16.5zM1004.7,364.2h16.5v16.5h-16.5zM1005.3,364.0h16.5v16.5h-16.5zM1005.9,363.7h16.5v16.5h-16.5zM1006.5,363.5h16.5v16.5h-16.5zM1007.1,363.3h16.5v16.5h-16.5zM1007.6,363.0h16.5v16.5h-16.5zM1008.2,362.8h16.5v16.5h-16.5zM1008.8,362.6h16.5v16.5h-16.5zM1009.4,362.4h16.5v16.5h-16.5zM1009.9,362.2h16.5v16.5h-16.5zM1010.5,362.0h16.5v16.5h-16.5zM1011.1,361.8h16.5v16.5h-16.5zM1011.7,361.6h16.5v16.5h-16.5zM1012.2,361.5h16.5v16.5h-16.5zM1012.8,361.3h16.5v16.5h-16.5zM1013.4,361.1h16.5v16.5h-16.5zM1013.9,361.0h16.5v16.5h-16.5zM1014.5,360.9h16.5v16.5h-16.5zM1015.2,360.7h16.5v16.5h-16.5zM1015.8,360.6h16.5v16.5h-16.5zM1016.4,360.5h16.5v16.5h-16.5zM1017.0,360.3h16.5v16.5h-16.5zM1017.7,360.2h16.5v16.5h-16.5zM1018.3,360.1h16.5v16.5h-16.5zM1019.0,360.0h16.5v16.5h-16.5zM1019.6,359.9h16.5v16.5h-16.5zM1020.3,359.8h16.5v16.5h-16.5zM1021.0,359.7h16.5v16.5h-16.5zM1021.6,359.6h16.5v16.5h-16.5zM1022.3,359.5h16.5v16.5h-16.5zM1022.9,359.4h16.5v16.5h-16.5zM1023.6,359.3h16.5v16.5h-16.5zM1024.3,359.2h16.5v16.5h-16.5zM1024.9,359.1h16.5v16.5h-16.5zM1025.6,359.0h16.5v16.5h-16.5zM1026.2,358.9h16.5v16.5h-16.5zM1026.8,358.9h16.5v16.5h-16.5zM1027.5,358.8h16.5v16.5h-16.5zM1028.1,358.7h16.5v16.5h-16.5zM1028.7,358.6h16.5v16.5h-16.5zM1029.3,358.6h16.5v16.5h-16.5zM1029.9,358.5h16.5v16.5h-16.5zM1030.5,358.4h16.5v16.5h-16.5zM1031.1,358.4h16.5v16.5h-16.5zM1031.6,358.3h16.5v16.5h-16.5zM1032.2,358.2h16.5v16.5h-16.5zM1032.7,358.2h16.5v16.5h-16.5zM1033.2,358.1h16.5v16.5h-16.5zM1033.7,358.1h16.5v16.5h-16.5zM1034.2,358.0h16.5v16.5h-16.5zM1034.6,358.0h16.5v16.5h-16.5zM1035.1,357.9h16.5v16.5h-16.5zM1035.5,357.9h16.5v16.5h-16.5zM1035.9,357.8h16.5v16.5h-16.5zM1036.2,357.8h16.5v16.5h-16.5zM1037.5,357.6h16.5v16.5h-16.5zM1038.6,357.5h16.5v16.5h-16.5zM1039.4,357.4h16.5v16.5h-16.5zM1040.0,357.3h16.5v16.5h-16.5zM1040.4,357.3h16.5v16.5h-16.5zM1040.8,357.3h16.5v16.5h-16.5zM1041.1,357.3h16.5v16.5h-16.5zM1041.3,357.3h16.5v16.5h-16.5zM1041.5,357.3h16.5v16.5h-16.5zM1041.8,357.2h16.5v16.5h-16.5z" fill="#000"/>
<line x1="706.5" y1="60.0" x2="706.5" y2="417.0" stroke="#f00" stroke-width="5.5" stroke-linecap="round" stroke-dasharray="14.5 13.75 0 13.75" stroke-dashoffset="0"/>
<path clip-path="url(#c0)" d="M240.0,288.8 C242.5,288.6 250.0,288.1 255.0,287.5 C260.0,286.9 265.8,285.9 270.0,285.2 C274.2,284.5 276.6,284.3 280.0,283.5 C283.4,282.7 287.1,281.8 290.6,280.4 C294.1,279.0 297.6,277.1 301.1,275.1 C304.6,273.2 308.2,271.1 311.7,268.7 C315.2,266.3 318.8,264.2 322.3,260.8 C325.8,257.4 330.2,251.9 332.9,248.6 C335.5,245.2 336.5,243.3 338.2,240.7 C339.9,238.1 341.2,234.7 343.0,233.0 C344.8,231.3 346.9,231.0 348.7,230.4 C350.5,229.8 352.2,229.6 354.0,229.5 C355.8,229.4 357.6,230.0 359.3,229.6 C361.1,229.2 362.7,228.2 364.5,227.0 C366.3,225.8 368.1,224.7 369.9,222.7 C371.6,220.7 373.2,217.9 375.0,215.0 C376.8,212.1 378.5,208.7 380.4,205.0 C382.3,201.3 384.6,196.9 386.4,193.0 C388.2,189.1 389.3,186.0 391.1,181.4 C392.9,176.8 394.9,170.8 397.4,165.5 C399.8,160.2 403.4,154.1 405.8,149.7 C408.2,145.3 410.0,141.9 412.0,139.0 C414.0,136.1 415.9,134.0 418.0,132.5 C420.1,131.0 422.6,129.6 424.4,130.0 C426.2,130.4 427.4,131.7 429.0,135.0 C430.6,138.3 432.5,144.6 434.3,149.7 C436.1,154.8 438.3,162.1 439.9,165.5 C441.5,168.9 442.5,169.2 444.0,170.0 C445.5,170.8 446.4,170.9 449.0,170.5 C451.6,170.1 455.8,167.7 459.3,167.5 C462.8,167.3 466.3,170.1 469.9,169.3 C473.5,168.6 476.9,164.6 481.1,163.0 C485.3,161.4 490.5,160.7 495.2,159.5 C499.9,158.3 504.6,157.7 509.3,156.0 C514.0,154.3 518.7,150.0 523.4,149.3 C528.1,148.6 532.8,149.9 537.5,151.7 C542.2,153.5 546.9,157.6 551.6,160.2 C556.3,162.8 561.0,165.1 565.7,167.2 C570.4,169.3 575.1,171.2 579.8,172.9 C584.5,174.6 590.5,176.3 593.9,177.1 C597.3,177.9 597.2,176.9 600.0,177.5 C602.8,178.1 607.1,178.8 610.6,180.5 C614.1,182.2 617.6,184.7 621.1,187.5 C624.6,190.3 628.2,194.2 631.7,197.5 C635.2,200.8 638.8,203.7 642.3,207.0 C645.8,210.3 649.4,214.1 652.9,217.6 C656.4,221.1 659.9,224.7 663.4,228.2 C666.9,231.7 670.5,235.1 674.0,238.8 C677.5,242.5 681.1,245.0 684.6,250.2 C688.1,255.4 692.5,264.7 695.2,270.0 C697.9,275.3 699.2,278.0 701.0,282.0 C702.8,286.0 704.5,290.3 706.0,294.0 C707.5,297.7 708.6,301.0 710.0,304.0 C711.4,307.0 712.8,309.1 714.5,312.0 C716.2,314.9 717.3,316.0 720.2,321.7 C723.1,327.4 728.0,339.1 731.9,346.3 C735.8,353.5 740.4,359.4 743.7,364.8 C747.1,370.2 748.6,374.9 752.0,379.0 C755.4,383.1 760.4,387.4 764.0,389.5 C767.6,391.6 769.8,391.7 773.9,391.4 C778.0,391.1 784.2,388.8 788.7,387.7 C793.2,386.6 797.5,385.6 801.0,384.6 C804.5,383.7 806.5,381.9 810.0,382.0 C813.5,382.1 819.2,384.5 822.3,385.4 C825.4,386.3 825.4,389.4 828.5,387.2 C831.6,385.0 837.7,376.0 840.8,372.4 C843.9,368.8 844.1,367.8 847.0,365.6 C849.9,363.4 854.0,359.2 858.1,359.0 C862.2,358.8 867.4,362.9 871.7,364.4 C876.0,365.9 879.9,365.8 884.0,368.1 C888.1,370.4 892.2,375.3 896.3,378.0 C900.4,380.7 904.6,383.0 908.7,384.1 C912.8,385.2 916.9,384.9 921.0,384.8 C925.1,384.7 929.0,384.5 933.4,383.5 C937.8,382.5 942.0,380.5 947.2,379.0 C952.4,377.5 958.7,374.5 964.4,374.4 C970.1,374.3 975.8,377.3 981.5,378.4 C987.2,379.4 993.0,380.8 998.7,380.7 C1004.4,380.6 1010.2,378.6 1015.9,377.8 C1021.6,377.0 1027.4,376.4 1033.1,376.1 C1038.8,375.8 1047.2,376.0 1050.0,376.0" fill="none" stroke="#f00" stroke-width="18.5" stroke-linejoin="round" stroke-linecap="round"/>
<path clip-path="url(#c1)" d="M240.0,780.1 C245.0,779.9 260.0,779.6 270.0,778.6 C280.0,777.6 292.4,775.6 299.9,774.4 C307.4,773.2 310.0,772.7 315.0,771.5 C320.0,770.3 324.9,769.1 329.9,767.4 C334.9,765.7 339.9,763.9 344.9,761.4 C349.9,758.9 354.8,755.1 359.8,752.4 C364.8,749.6 369.8,747.5 374.8,744.9 C379.8,742.3 385.6,739.7 389.8,736.7 C394.0,733.7 397.5,729.6 400.0,727.1 C402.5,724.6 402.8,723.9 404.8,721.7 C406.9,719.5 409.0,717.4 412.3,714.1 C415.6,710.8 420.6,703.5 424.7,701.8 C428.8,700.1 432.9,704.9 437.0,703.7 C441.1,702.5 445.2,698.2 449.3,694.4 C453.4,690.6 457.6,683.6 461.7,680.8 C465.8,678.0 469.9,678.3 474.0,677.8 C478.1,677.3 482.6,676.8 486.3,677.8 C490.0,678.8 493.1,679.8 496.2,684.0 C499.3,688.2 501.3,697.0 504.8,703.0 C508.3,709.0 513.1,714.2 517.2,719.7 C521.3,725.2 525.7,731.7 529.5,736.3 C533.3,740.9 536.8,744.0 540.0,747.4 C543.2,750.8 545.0,757.0 548.5,756.5 C552.0,756.0 556.6,748.7 561.1,744.6 C565.6,740.5 570.5,735.0 575.2,731.9 C579.9,728.8 584.6,729.1 589.3,726.3 C594.0,723.5 599.6,718.5 603.4,715.0 C607.2,711.5 609.2,707.9 612.0,705.0 C614.8,702.1 617.0,697.1 620.3,697.5 C623.6,697.9 627.5,703.6 631.6,707.2 C635.7,710.8 641.9,717.1 645.0,719.0 C648.1,720.9 648.6,719.1 650.5,718.6 C652.4,718.1 654.2,717.1 656.1,716.3 C658.0,715.5 659.8,715.3 661.6,713.8 C663.4,712.2 665.3,709.6 667.0,707.0 C668.7,704.4 670.3,701.0 672.0,698.0 C673.7,695.0 675.0,691.2 677.0,689.0 C679.0,686.8 681.8,684.6 683.8,684.8 C685.8,685.0 687.5,687.1 689.0,690.0 C690.5,692.9 691.4,697.8 692.5,702.0 C693.6,706.2 694.6,711.0 695.7,715.0 C696.8,719.0 697.8,723.2 699.0,726.0 C700.2,728.8 701.7,730.3 703.0,732.0 C704.3,733.7 705.5,735.2 707.0,736.0 C708.5,736.8 710.5,737.2 712.3,736.7 C714.1,736.2 716.2,734.5 718.0,733.0 C719.8,731.5 720.5,729.5 722.9,727.4 C725.2,725.3 729.2,720.4 732.1,720.2 C735.0,720.0 737.9,724.2 740.0,726.0 C742.1,727.8 743.0,728.8 745.0,731.0 C747.0,733.2 749.7,736.1 751.9,739.3 C754.1,742.5 755.6,745.6 758.0,750.0 C760.4,754.4 762.7,758.7 766.5,765.7 C770.3,772.7 777.1,785.7 781.0,792.2 C784.9,798.8 786.5,800.8 790.0,805.0 C793.5,809.2 797.6,813.9 802.2,817.3 C806.8,820.7 812.1,824.4 817.6,825.2 C823.1,826.0 829.0,821.7 835.2,821.9 C841.4,822.1 848.0,825.7 855.0,826.3 C862.0,826.9 869.8,825.4 877.1,825.6 C884.5,825.8 891.8,827.7 899.1,827.4 C906.4,827.1 913.8,824.7 921.1,824.0 C928.5,823.3 935.9,823.3 943.2,823.4 C950.6,823.5 957.9,824.1 965.2,824.5 C972.5,824.9 981.7,826.2 987.2,825.6 C992.7,825.0 994.5,822.4 998.2,820.7 C1001.9,819.1 1003.8,816.5 1009.3,815.7 C1014.8,814.9 1025.1,815.3 1031.3,815.7 C1037.5,816.1 1043.2,817.5 1046.7,817.9 C1050.2,818.3 1051.1,818.0 1052.0,818.0" fill="none" stroke="#111" stroke-width="21.0" stroke-linejoin="round" stroke-linecap="round"/>
<path clip-path="url(#c1)" d="M240.0,780.1 C245.0,779.9 260.0,779.6 270.0,778.6 C280.0,777.6 292.4,775.6 299.9,774.4 C307.4,773.2 310.0,772.7 315.0,771.5 C320.0,770.3 324.9,769.1 329.9,767.4 C334.9,765.7 339.9,763.9 344.9,761.4 C349.9,758.9 354.8,755.1 359.8,752.4 C364.8,749.6 369.8,747.5 374.8,744.9 C379.8,742.3 385.6,739.7 389.8,736.7 C394.0,733.7 397.5,729.6 400.0,727.1 C402.5,724.6 402.8,723.9 404.8,721.7 C406.9,719.5 409.0,717.4 412.3,714.1 C415.6,710.8 420.6,703.5 424.7,701.8 C428.8,700.1 432.9,704.9 437.0,703.7 C441.1,702.5 445.2,698.2 449.3,694.4 C453.4,690.6 457.6,683.6 461.7,680.8 C465.8,678.0 469.9,678.3 474.0,677.8 C478.1,677.3 482.6,676.8 486.3,677.8 C490.0,678.8 493.1,679.8 496.2,684.0 C499.3,688.2 501.3,697.0 504.8,703.0 C508.3,709.0 513.1,714.2 517.2,719.7 C521.3,725.2 525.7,731.7 529.5,736.3 C533.3,740.9 536.8,744.0 540.0,747.4 C543.2,750.8 545.0,757.0 548.5,756.5 C552.0,756.0 556.6,748.7 561.1,744.6 C565.6,740.5 570.5,735.0 575.2,731.9 C579.9,728.8 584.6,729.1 589.3,726.3 C594.0,723.5 599.6,718.5 603.4,715.0 C607.2,711.5 609.2,707.9 612.0,705.0 C614.8,702.1 617.0,697.1 620.3,697.5 C623.6,697.9 627.5,703.6 631.6,707.2 C635.7,710.8 641.9,717.1 645.0,719.0 C648.1,720.9 648.6,719.1 650.5,718.6 C652.4,718.1 654.2,717.1 656.1,716.3 C658.0,715.5 659.8,715.3 661.6,713.8 C663.4,712.2 665.3,709.6 667.0,707.0 C668.7,704.4 670.3,701.0 672.0,698.0 C673.7,695.0 675.0,691.2 677.0,689.0 C679.0,686.8 681.8,684.6 683.8,684.8 C685.8,685.0 687.5,687.1 689.0,690.0 C690.5,692.9 691.4,697.8 692.5,702.0 C693.6,706.2 694.6,711.0 695.7,715.0 C696.8,719.0 697.8,723.2 699.0,726.0 C700.2,728.8 701.7,730.3 703.0,732.0 C704.3,733.7 705.5,735.2 707.0,736.0 C708.5,736.8 710.5,737.2 712.3,736.7 C714.1,736.2 716.2,734.5 718.0,733.0 C719.8,731.5 720.5,729.5 722.9,727.4 C725.2,725.3 729.2,720.4 732.1,720.2 C735.0,720.0 737.9,724.2 740.0,726.0 C742.1,727.8 743.0,728.8 745.0,731.0 C747.0,733.2 749.7,736.1 751.9,739.3 C754.1,742.5 755.6,745.6 758.0,750.0 C760.4,754.4 762.7,758.7 766.5,765.7 C770.3,772.7 777.1,785.7 781.0,792.2 C784.9,798.8 786.5,800.8 790.0,805.0 C793.5,809.2 797.6,813.9 802.2,817.3 C806.8,820.7 812.1,824.4 817.6,825.2 C823.1,826.0 829.0,821.7 835.2,821.9 C841.4,822.1 848.0,825.7 855.0,826.3 C862.0,826.9 869.8,825.4 877.1,825.6 C884.5,825.8 891.8,827.7 899.1,827.4 C906.4,827.1 913.8,824.7 921.1,824.0 C928.5,823.3 935.9,823.3 943.2,823.4 C950.6,823.5 957.9,824.1 965.2,824.5 C972.5,824.9 981.7,826.2 987.2,825.6 C992.7,825.0 994.5,822.4 998.2,820.7 C1001.9,819.1 1003.8,816.5 1009.3,815.7 C1014.8,814.9 1025.1,815.3 1031.3,815.7 C1037.5,816.1 1043.2,817.5 1046.7,817.9 C1050.2,818.3 1051.1,818.0 1052.0,818.0" fill="none" stroke="#f00" stroke-width="18.5" stroke-linejoin="round" stroke-linecap="round"/>
<line x1="739.2" y1="480.2" x2="739.2" y2="824.0" stroke="#f00" stroke-width="5.5" stroke-linecap="round" stroke-dasharray="21.5 32" stroke-dashoffset="0"/>
<line x1="739.2" y1="486.0" x2="739.2" y2="808.0" stroke="#000" stroke-width="5.8" stroke-linecap="round" stroke-dasharray="0 31.9" stroke-dashoffset="0"/>
<line x1="634.3" y1="906.6" x2="634.3" y2="1263.0" stroke="#000" stroke-width="5.5" stroke-linecap="round" stroke-dasharray="14.5 13.75 0 13.75" stroke-dashoffset="0"/>
<line x1="596.9" y1="906.6" x2="596.9" y2="1263.0" stroke="#f00" stroke-width="5.5" stroke-linecap="round" stroke-dasharray="14.5 13.75 0 13.75" stroke-dashoffset="0"/>
<path clip-path="url(#c2)" d="M231.8,1199.2h16.5v16.5h-16.5zM232.1,1199.1h16.5v16.5h-16.5zM232.4,1199.1h16.5v16.5h-16.5zM232.7,1199.1h16.5v16.5h-16.5zM233.1,1199.1h16.5v16.5h-16.5zM233.5,1199.1h16.5v16.5h-16.5zM233.9,1199.1h16.5v16.5h-16.5zM234.4,1199.1h16.5v16.5h-16.5zM234.8,1199.1h16.5v16.5h-16.5zM235.3,1199.1h16.5v16.5h-16.5zM235.8,1199.1h16.5v16.5h-16.5zM236.3,1199.1h16.5v16.5h-16.5zM236.8,1199.1h16.5v16.5h-16.5zM237.4,1199.1h16.5v16.5h-16.5zM237.9,1199.1h16.5v16.5h-16.5zM238.5,1199.1h16.5v16.5h-16.5zM239.1,1199.1h16.5v16.5h-16.5zM239.7,1199.1h16.5v16.5h-16.5zM240.3,1199.1h16.5v16.5h-16.5zM240.9,1199.1h16.5v16.5h-16.5zM241.5,1199.0h16.5v16.5h-16.5zM242.1,1199.0h16.5v16.5h-16.5zM242.8,1199.0h16.5v16.5h-16.5zM243.4,1199.0h16.5v16.5h-16.5zM244.1,1199.0h16.5v16.5h-16.5zM244.8,1199.0h16.5v16.5h-16.5zM245.4,1199.0h16.5v16.5h-16.5zM246.1,1199.0h16.5v16.5h-16.5zM246.8,1199.0h16.5v16.5h-16.5zM247.5,1199.0h16.5v16.5h-16.5zM248.1,1198.9h16.5v16.5h-16.5zM248.8,1198.9h16.5v16.5h-16.5zM249.5,1198.9h16.5v16.5h-16.5zM250.2,1198.9h16.5v16.5h-16.5zM250.9,1198.9h16.5v16.5h-16.5zM251.6,1198.9h16.5v16.5h-16.5zM252.2,1198.8h16.5v16.5h-16.5zM252.9,1198.8h16.5v16.5h-16.5zM253.6,1198.8h16.5v16.5h-16.5zM254.3,1198.8h16.5v16.5h-16.5zM254.9,1198.7h16.5v16.5h-16.5zM255.6,1198.7h16.5v16.5h-16.5zM256.2,1198.7h16.5v16.5h-16.5zM256.9,1198.6h16.5v16.5h-16.5zM257.5,1198.6h16.5v16.5h-16.5zM258.1,1198.6h16.5v16.5h-16.5zM258.8,1198.5h16.5v16.5h-16.5zM259.4,1198.5h16.5v16.5h-16.5zM259.9,1198.5h16.5v16.5h-16.5zM260.5,1198.4h16.5v16.5h-16.5zM261.1,1198.4h16.5v16.5h-16.5zM261.7,1198.3h16.5v16.5h-16.5zM262.3,1198.3h16.5v16.5h-16.5zM262.9,1198.2h16.5v16.5h-16.5zM263.5,1198.2h16.5v16.5h-16.5zM264.1,1198.1h16.5v16.5h-16.5zM264.6,1198.0h16.5v16.5h-16.5zM265.2,1198.0h16.5v16.5h-16.5zM265.8,1197.9h16.5v16.5h-16.5zM266.4,1197.9h16.5v16.5h-16.5zM267.0,1197.8h16.5v16.5h-16.5zM267.6,1197.7h16.5v16.5h-16.5zM268.2,1197.7h16.5v16.5h-16.5zM268.8,1197.6h16.5v16.5h-16.5zM269.3,1197.5h16.5v16.5h-16.5zM269.9,1197.5h16.5v16.5h-16.5zM270.5,1197.4h16.5v16.5h-16.5zM271.1,1197.3h16.5v16.5h-16.5zM271.7,1197.3h16.5v16.5h-16.5zM272.3,1197.2h16.5v16.5h-16.5zM272.9,1197.1h16.5v16.5h-16.5zM273.5,1197.0h16.5v16.5h-16.5zM274.1,1197.0h16.5v16.5h-16.5zM274.6,1196.9h16.5v16.5h-16.5zM275.2,1196.8h16.5v16.5h-16.5zM275.8,1196.7h16.5v16.5h-16.5zM276.4,1196.7h16.5v16.5h-16.5zM277.0,1196.6h16.5v16.5h-16.5zM277.6,1196.5h16.5v16.5h-16.5zM278.2,1196.4h16.5v16.5h-16.5zM278.7,1196.3h16.5v16.5h-16.5zM279.3,1196.2h16.5v16.5h-16.5zM279.9,1196.2h16.5v16.5h-16.5zM280.5,1196.1h16.5v16.5h-16.5zM281.1,1196.0h16.5v16.5h-16.5zM281.7,1195.9h16.5v16.5h-16.5zM282.3,1195.8h16.5v16.5h-16.5zM282.9,1195.7h16.5v16.5h-16.5zM283.4,1195.7h16.5v16.5h-16.5zM284.0,1195.6h16.5v16.5h-16.5zM284.6,1195.5h16.5v16.5h-16.5zM285.2,1195.4h16.5v16.5h-16.5zM285.8,1195.3h16.5v16.5h-16.5zM286.4,1195.2h16.5v16.5h-16.5zM287.0,1195.1h16.5v16.5h-16.5zM287.6,1195.0h16.5v16.5h-16.5zM288.1,1195.0h16.5v16.5h-16.5zM288.7,1194.9h16.5v16.5h-16.5zM289.3,1194.8h16.5v16.5h-16.5zM289.9,1194.7h16.5v16.5h-16.5zM290.5,1194.6h16.5v16.5h-16.5zM291.1,1194.5h16.5v16.5h-16.5zM291.7,1194.4h16.5v16.5h-16.5zM292.3,1194.3h16.5v16.5h-16.5zM292.9,1194.2h16.5v16.5h-16.5zM293.4,1194.2h16.5v16.5h-16.5zM294.0,1194.1h16.5v16.5h-16.5zM294.6,1194.0h16.5v16.5h-16.5zM295.2,1193.9h16.5v16.5h-16.5zM295.8,1193.8h16.5v16.5h-16.5zM296.4,1193.7h16.5v16.5h-16.5zM297.0,1193.6h16.5v16.5h-16.5zM297.6,1193.5h16.5v16.5h-16.5zM298.1,1193.4h16.5v16.5h-16.5zM298.7,1193.3h16.5v16.5h-16.5zM299.3,1193.2h16.5v16.5h-16.5zM299.9,1193.1h16.5v16.5h-16.5zM300.5,1193.0h16.5v16.5h-16.5zM301.1,1193.0h16.5v16.5h-16.5zM301.7,1192.9h16.5v16.5h-16.5zM302.2,1192.8h16.5v16.5h-16.5zM302.8,1192.7h16.5v16.5h-16.5zM303.4,1192.6h16.5v16.5h-16.5zM304.0,1192.5h16.5v16.5h-16.5zM304.6,1192.4h16.5v16.5h-16.5zM305.2,1192.2h16.5v16.5h-16.5zM305.8,1192.1h16.5v16.5h-16.5zM306.4,1192.0h16.5v16.5h-16.5zM306.9,1191.9h16.5v16.5h-16.5zM307.5,1191.8h16.5v16.5h-16.5zM308.1,1191.7h16.5v16.5h-16.5zM308.7,1191.6h16.5v16.5h-16.5zM309.3,1191.5h16.5v16.5h-16.5zM309.9,1191.4h16.5v16.5h-16.5zM310.5,1191.2h16.5v16.5h-16.5zM311.1,1191.1h16.5v16.5h-16.5zM311.7,1191.0h16.5v16.5h-16.5zM312.2,1190.9h16.5v16.5h-16.5zM312.8,1190.7h16.5v16.5h-16.5zM313.4,1190.6h16.5v16.5h-16.5zM314.0,1190.5h16.5v16.5h-16.5zM314.6,1190.4h16.5v16.5h-16.5zM315.2,1190.2h16.5v16.5h-16.5zM315.8,1190.1h16.5v16.5h-16.5zM316.4,1190.0h16.5v16.5h-16.5zM316.9,1189.8h16.5v16.5h-16.5zM317.5,1189.7h16.5v16.5h-16.5zM318.1,1189.5h16.5v16.5h-16.5zM318.6,1189.4h16.5v16.5h-16.5zM319.2,1189.2h16.5v16.5h-16.5zM319.8,1189.1h16.5v16.5h-16.5zM320.4,1188.9h16.5v16.5h-16.5zM321.0,1188.8h16.5v16.5h-16.5zM321.6,1188.6h16.5v16.5h-16.5zM322.2,1188.5h16.5v16.5h-16.5zM322.8,1188.3h16.5v16.5h-16.5zM323.4,1188.1h16.5v16.5h-16.5zM324.0,1188.0h16.5v16.5h-16.5zM324.6,1187.8h16.5v16.5h-16.5zM325.3,1187.6h16.5v16.5h-16.5zM325.9,1187.5h16.5v16.5h-16.5zM326.5,1187.3h16.5v16.5h-16.5zM327.1,1187.1h16.5v16.5h-16.5zM327.7,1186.9h16.5v16.5h-16.5zM328.3,1186.8h16.5v16.5h-16.5zM328.9,1186.6h16.5v16.5h-16.5zM329.5,1186.4h16.5v16.5h-16.5zM330.1,1186.2h16.5v16.5h-16.5zM330.7,1186.1h16.5v16.5h-16.5zM331.3,1185.9h16.5v16.5h-16.5zM331.9,1185.7h16.5v16.5h-16.5zM332.5,1185.5h16.5v16.5h-16.5zM333.1,1185.3h16.5v16.5h-16.5zM333.7,1185.2h16.5v16.5h-16.5zM334.3,1185.0h16.5v16.5h-16.5zM334.9,1184.8h16.5v16.5h-16.5zM335.4,1184.6h16.5v16.5h-16.5zM336.0,1184.4h16.5v16.5h-16.5zM336.6,1184.3h16.5v16.5h-16.5zM337.1,1184.1h16.5v16.5h-16.5zM337.7,1183.9h16.5v16.5h-16.5zM338.2,1183.7h16.5v16.5h-16.5zM338.8,1183.6h16.5v16.5h-16.5zM339.3,1183.4h16.5v16.5h-16.5zM339.8,1183.2h16.5v16.5h-16.5zM340.3,1183.0h16.5v16.5h-16.5zM340.8,1182.9h16.5v16.5h-16.5zM341.3,1182.7h16.5v16.5h-16.5zM341.8,1182.5h16.5v16.5h-16.5zM342.3,1182.4h16.5v16.5h-16.5zM342.8,1182.2h16.5v16.5h-16.5zM343.2,1182.0h16.5v16.5h-16.5zM343.7,1181.9h16.5v16.5h-16.5zM344.1,1181.7h16.5v16.5h-16.5zM344.6,1181.5h16.5v16.5h-16.5zM345.3,1181.3h16.5v16.5h-16.5zM346.0,1181.0h16.5v16.5h-16.5zM346.7,1180.7h16.5v16.5h-16.5zM347.4,1180.4h16.5v16.5h-16.5zM348.0,1180.1h16.5v16.5h-16.5zM348.6,1179.9h16.5v16.5h-16.5zM349.2,1179.6h16.5v16.5h-16.5zM349.8,1179.3h16.5v16.5h-16.5zM350.3,1179.0h16.5v16.5h-16.5zM350.8,1178.8h16.5v16.5h-16.5zM351.3,1178.5h16.5v16.5h-16.5zM351.8,1178.2h16.5v16.5h-16.5zM352.3,1178.0h16.5v16.5h-16.5zM352.7,1177.7h16.5v16.5h-16.5zM353.2,1177.4h16.5v16.5h-16.5zM353.6,1177.2h16.5v16.5h-16.5zM354.0,1176.9h16.5v16.5h-16.5zM354.5,1176.7h16.5v16.5h-16.5zM354.9,1176.4h16.5v16.5h-16.5zM355.3,1176.2h16.5v16.5h-16.5zM355.8,1175.9h16.5v16.5h-16.5zM356.2,1175.7h16.5v16.5h-16.5zM356.7,1175.4h16.5v16.5h-16.5zM357.2,1175.2h16.5v16.5h-16.5zM357.6,1174.9h16.5v16.5h-16.5zM358.1,1174.7h16.5v16.5h-16.5zM358.6,1174.5h16.5v16.5h-16.5zM359.2,1174.2h16.5v16.5h-16.5zM359.7,1174.0h16.5v16.5h-16.5zM360.3,1173.7h16.5v16.5h-16.5zM360.8,1173.5h16.5v16.5h-16.5zM361.4,1173.2h16.5v16.5h-16.5zM361.9,1173.0h16.5v16.5h-16.5zM362.4,1172.7h16.5v16.5h-16.5zM363.0,1172.5h16.5v16.5h-16.5zM363.5,1172.2h16.5v16.5h-16.5zM364.1,1172.0h16.5v16.5h-16.5zM364.6,1171.7h16.5v16.5h-16.5zM365.2,1171.5h16.5v16.5h-16.5zM365.7,1171.2h16.5v16.5h-16.5zM366.2,1171.0h16.5v16.5h-16.5zM366.8,1170.8h16.5v16.5h-16.5zM367.3,1170.6h16.5v16.5h-16.5zM367.9,1170.4h16.5v16.5h-16.5zM368.4,1170.1h16.5v16.5h-16.5zM369.0,1169.9h16.5v16.5h-16.5zM369.5,1169.7h16.5v16.5h-16.5zM370.0,1169.6h16.5v16.5h-16.5zM370.6,1169.4h16.5v16.5h-16.5zM371.1,1169.2h16.5v16.5h-16.5zM371.7,1169.0h16.5v16.5h-16.5zM372.2,1168.9h16.5v16.5h-16.5zM372.8,1168.8h16.5v16.5h-16.5zM373.3,1168.6h16.5v16.5h-16.5zM373.9,1168.5h16.5v16.5h-16.5zM374.5,1168.4h16.5v16.5h-16.5zM375.1,1168.3h16.5v16.5h-16.5zM375.7,1168.2h16.5v16.5h-16.5zM376.4,1168.1h16.5v16.5h-16.5zM377.0,1168.0h16.5v16.5h-16.5zM377.6,1168.0h16.5v16.5h-16.5zM378.2,1167.9h16.5v16.5h-16.5zM378.8,1167.9h16.5v16.5h-16.5zM379.4,1167.8h16.5v16.5h-16.5zM380.0,1167.8h16.5v16.5h-16.5zM380.6,1167.8h16.5v16.5h-16.5zM381.2,1167.7h16.5v16.5h-16.5zM381.8,1167.7h16.5v16.5h-16.5zM382.4,1167.7h16.5v16.5h-16.5zM383.0,1167.6h16.5v16.5h-16.5zM383.6,1167.6h16.5v16.5h-16.5zM384.1,1167.5h16.5v16.5h-16.5zM384.7,1167.5h16.5v16.5h-16.5zM385.2,1167.5h16.5v16.5h-16.5zM385.7,1167.4h16.5v16.5h-16.5zM386.2,1167.3h16.5v16.5h-16.5zM386.8,1167.2h16.5v16.5h-16.5zM387.4,1167.1h16.5v16.5h-16.5zM388.0,1167.0h16.5v16.5h-16.5zM388.6,1166.9h16.5v16.5h-16.5zM389.1,1166.8h16.5v16.5h-16.5zM389.6,1166.7h16.5v16.5h-16.5zM390.1,1166.6h16.5v16.5h-16.5zM390.6,1166.5h16.5v16.5h-16.5zM391.1,1166.4h16.5v16.5h-16.5zM391.6,1166.3h16.5v16.5h-16.5zM392.0,1166.1h16.5v16.5h-16.5zM392.5,1166.0h16.5v16.5h-16.5zM393.1,1165.9h16.5v16.5h-16.5zM393.7,1165.7h16.5v16.5h-16.5zM394.3,1165.5h16.5v16.5h-16.5zM394.9,1165.3h16.5v16.5h-16.5zM395.7,1165.1h16.5v16.5h-16.5zM396.4,1164.8h16.5v16.5h-16.5zM396.9,1164.7h16.5v16.5h-16.5zM397.3,1164.6h16.5v16.5h-16.5zM397.8,1164.4h16.5v16.5h-16.5zM398.3,1164.3h16.5v16.5h-16.5zM398.8,1164.1h16.5v16.5h-16.5zM399.4,1164.0h16.5v16.5h-16.5zM399.9,1163.8h16.5v16.5h-16.5zM400.5,1163.7h16.5v16.5h-16.5zM401.0,1163.5h16.5v16.5h-16.5zM401.6,1163.3h16.5v16.5h-16.5zM402.2,1163.1h16.5v16.5h-16.5zM402.8,1163.0h16.5v16.5h-16.5zM403.4,1162.8h16.5v16.5h-16.5zM404.0,1162.6h16.5v16.5h-16.5zM404.6,1162.4h16.5v16.5h-16.5zM405.2,1162.2h16.5v16.5h-16.5zM405.8,1162.0h16.5v16.5h-16.5zM406.5,1161.8h16.5v16.5h-16.5zM407.1,1161.6h16.5v16.5h-16.5zM407.7,1161.4h16.5v16.5h-16.5zM408.3,1161.2h16.5v16.5h-16.5zM408.9,1161.0h16.5v16.5h-16.5zM409.5,1160.8h16.5v16.5h-16.5zM410.1,1160.6h16.5v16.5h-16.5zM410.7,1160.4h16.5v16.5h-16.5zM411.3,1160.2h16.5v16.5h-16.5zM411.8,1160.0h16.5v16.5h-16.5zM412.4,1159.8h16.5v16.5h-16.5zM412.9,1159.6h16.5v16.5h-16.5zM413.5,1159.4h16.5v16.5h-16.5zM414.0,1159.2h16.5v16.5h-16.5zM414.5,1159.0h16.5v16.5h-16.5zM414.9,1158.8h16.5v16.5h-16.5zM415.6,1158.5h16.5v16.5h-16.5zM416.2,1158.2h16.5v16.5h-16.5zM416.8,1157.9h16.5v16.5h-16.5zM417.4,1157.6h16.5v16.5h-16.5zM417.9,1157.3h16.5v16.5h-16.5zM418.5,1157.1h16.5v16.5h-16.5zM419.0,1156.8h16.5v16.5h-16.5zM419.5,1156.5h16.5v16.5h-16.5zM420.0,1156.2h16.5v16.5h-16.5zM420.5,1155.9h16.5v16.5h-16.5zM421.0,1155.6h16.5v16.5h-16.5zM421.5,1155.3h16.5v16.5h-16.5zM422.0,1155.0h16.5v16.5h-16.5zM422.4,1154.7h16.5v16.5h-16.5zM422.9,1154.4h16.5v16.5h-16.5zM423.4,1154.0h16.5v16.5h-16.5zM423.8,1153.7h16.5v16.5h-16.5zM424.3,1153.4h16.5v16.5h-16.5zM424.8,1153.1h16.5v16.5h-16.5zM425.3,1152.7h16.5v16.5h-16.5zM425.8,1152.4h16.5v16.5h-16.5zM426.2,1152.1h16.5v16.5h-16.5zM426.7,1151.7h16.5v16.5h-16.5zM427.2,1151.3h16.5v16.5h-16.5zM427.7,1151.0h16.5v16.5h-16.5zM428.2,1150.7h16.5v16.5h-16.5zM428.6,1150.3h16.5v16.5h-16.5zM429.1,1150.0h16.5v16.5h-16.5zM429.5,1149.6h16.5v16.5h-16.5zM430.0,1149.2h16.5v16.5h-16.5zM430.4,1148.8h16.5v16.5h-16.5zM430.9,1148.4h16.5v16.5h-16.5zM431.3,1148.0h16.5v16.5h-16.5zM431.8,1147.6h16.5v16.5h-16.5zM432.3,1147.2h16.5v16.5h-16.5zM432.7,1146.7h16.5v16.5h-16.5zM433.2,1146.3h16.5v16.5h-16.5zM433.6,1145.9h16.5v16.5h-16.5zM434.1,1145.5h16.5v16.5h-16.5zM434.5,1145.1h16.5v16.5h-16.5zM435.0,1144.7h16.5v16.5h-16.5zM435.4,1144.3h16.5v16.5h-16.5zM435.9,1144.0h16.5v16.5h-16.5zM436.4,1143.6h16.5v16.5h-16.5zM436.8,1143.2h16.5v16.5h-16.5zM437.3,1142.9h16.5v16.5h-16.5zM437.7,1142.6h16.5v16.5h-16.5zM438.2,1142.3h16.5v16.5h-16.5zM438.6,1142.0h16.5v16.5h-16.5zM439.1,1141.7h16.5v16.5h-16.5zM439.6,1141.5h16.5v16.5h-16.5zM440.1,1141.2h16.5v16.5h-16.5zM440.7,1140.9h16.5v16.5h-16.5zM441.2,1140.7h16.5v16.5h-16.5zM441.8,1140.5h16.5v16.5h-16.5zM442.4,1140.3h16.5v16.5h-16.5zM442.9,1140.1h16.5v16.5h-16.5zM443.5,1140.0h16.5v16.5h-16.5zM444.1,1139.9h16.5v16.5h-16.5zM444.6,1139.8h16.5v16.5h-16.5zM445.2,1139.6h16.5v16.5h-16.5zM445.8,1139.5h16.5v16.5h-16.5zM446.3,1139.5h16.5v16.5h-16.5zM446.9,1139.4h16.5v16.5h-16.5zM447.4,1139.3h16.5v16.5h-16.5zM448.0,1139.2h16.5v16.5h-16.5zM448.6,1139.1h16.5v16.5h-16.5zM449.1,1139.0h16.5v16.5h-16.5zM449.7,1138.9h16.5v16.5h-16.5zM450.3,1138.8h16.5v16.5h-16.5zM450.8,1138.7h16.5v16.5h-16.5zM451.4,1138.5h16.5v16.5h-16.5zM451.9,1138.3h16.5v16.5h-16.5zM452.5,1138.2h16.5v16.5h-16.5zM453.1,1138.0h16.5v16.5h-16.5zM453.6,1137.9h16.5v16.5h-16.5zM454.2,1137.7h16.5v16.5h-16.5zM454.8,1137.6h16.5v16.5h-16.5zM455.3,1137.4h16.5v16.5h-16.5zM455.9,1137.2h16.5v16.5h-16.5zM456.4,1137.1h16.5v16.5h-16.5zM457.0,1136.9h16.5v16.5h-16.5zM457.5,1136.8h16.5v16.5h-16.5zM458.1,1136.6h16.5v16.5h-16.5zM458.7,1136.4h16.5v16.5h-16.5zM459.2,1136.2h16.5v16.5h-16.5zM459.8,1136.0h16.5v16.5h-16.5zM460.3,1135.8h16.5v16.5h-16.5zM460.9,1135.6h16.5v16.5h-16.5zM461.5,1135.4h16.5v16.5h-16.5zM462.0,1135.2h16.5v16.5h-16.5zM462.6,1134.9h16.5v16.5h-16.5zM463.1,1134.6h16.5v16.5h-16.5zM463.7,1134.4h16.5v16.5h-16.5zM464.2,1134.0h16.5v16.5h-16.5zM464.7,1133.8h16.5v16.5h-16.5zM465.2,1133.5h16.5v16.5h-16.5zM465.7,1133.2h16.5v16.5h-16.5zM466.1,1132.9h16.5v16.5h-16.5zM466.6,1132.6h16.5v16.5h-16.5zM467.1,1132.3h16.5v16.5h-16.5zM467.6,1132.0h16.5v16.5h-16.5zM468.0,1131.7h16.5v16.5h-16.5zM468.5,1131.3h16.5v16.5h-16.5zM469.0,1131.0h16.5v16.5h-16.5zM469.4,1130.6h16.5v16.5h-16.5zM469.9,1130.3h16.5v16.5h-16.5zM470.4,1129.9h16.5v16.5h-16.5zM470.9,1129.5h16.5v16.5h-16.5zM471.3,1129.2h16.5v16.5h-16.5zM471.8,1128.8h16.5v16.5h-16.5zM472.3,1128.4h16.5v16.5h-16.5zM472.8,1128.0h16.5v16.5h-16.5zM473.2,1127.6h16.5v16.5h-16.5zM473.7,1127.2h16.5v16.5h-16.5zM474.2,1126.8h16.5v16.5h-16.5zM474.7,1126.4h16.5v16.5h-16.5zM475.1,1126.0h16.5v16.5h-16.5zM475.6,1125.6h16.5v16.5h-16.5zM476.1,1125.2h16.5v16.5h-16.5zM476.6,1124.8h16.5v16.5h-16.5zM477.0,1124.4h16.5v16.5h-16.5zM477.4,1124.0h16.5v16.5h-16.5zM477.8,1123.7h16.5v16.5h-16.5zM478.2,1123.3h16.5v16.5h-16.5zM478.6,1122.9h16.5v16.5h-16.5zM479.0,1122.5h16.5v16.5h-16.5zM479.4,1122.1h16.5v16.5h-16.5zM479.9,1121.7h16.5v16.5h-16.5zM480.3,1121.3h16.5v16.5h-16.5zM480.7,1120.9h16.5v16.5h-16.5zM481.1,1120.5h16.5v16.5h-16.5zM481.5,1120.1h16.5v16.5h-16.5zM481.9,1119.7h16.5v16.5h-16.5zM482.3,1119.3h16.5v16.5h-16.5zM482.8,1118.9h16.5v16.5h-16.5zM483.2,1118.5h16.5v16.5h-16.5zM483.6,1118.1h16.5v16.5h-16.5zM484.0,1117.7h16.5v16.5h-16.5zM484.4,1117.2h16.5v16.5h-16.5zM484.8,1116.8h16.5v16.5h-16.5zM485.2,1116.4h16.5v16.5h-16.5zM485.6,1115.9h16.5v16.5h-16.5zM486.1,1115.5h16.5v16.5h-16.5zM486.5,1115.1h16.5v16.5h-16.5zM486.9,1114.6h16.5v16.5h-16.5zM487.3,1114.2h16.5v16.5h-16.5zM487.7,1113.8h16.5v16.5h-16.5zM488.1,1113.3h16.5v16.5h-16.5zM488.5,1112.9h16.5v16.5h-16.5zM488.9,1112.5h16.5v16.5h-16.5zM489.3,1112.0h16.5v16.5h-16.5zM489.7,1111.6h16.5v16.5h-16.5zM490.1,1111.2h16.5v16.5h-16.5zM490.5,1110.7h16.5v16.5h-16.5zM490.9,1110.3h16.5v16.5h-16.5zM491.4,1109.8h16.5v16.5h-16.5zM491.8,1109.4h16.5v16.5h-16.5zM492.2,1108.9h16.5v16.5h-16.5zM492.6,1108.5h16.5v16.5h-16.5zM493.0,1108.0h16.5v16.5h-16.5zM493.4,1107.5h16.5v16.5h-16.5zM493.9,1107.1h16.5v16.5h-16.5zM494.3,1106.6h16.5v16.5h-16.5zM494.7,1106.1h16.5v16.5h-16.5zM495.1,1105.6h16.5v16.5h-16.5zM495.5,1105.2h16.5v16.5h-16.5zM495.9,1104.7h16.5v16.5h-16.5zM496.3,1104.2h16.5v16.5h-16.5zM496.7,1103.8h16.5v16.5h-16.5zM497.1,1103.3h16.5v16.5h-16.5zM497.5,1102.9h16.5v16.5h-16.5zM497.9,1102.4h16.5v16.5h-16.5zM498.3,1102.0h16.5v16.5h-16.5zM498.7,1101.5h16.5v16.5h-16.5zM499.0,1101.1h16.5v16.5h-16.5zM499.4,1100.6h16.5v16.5h-16.5zM499.7,1100.2h16.5v16.5h-16.5zM500.0,1099.8h16.5v16.5h-16.5zM500.4,1099.4h16.5v16.5h-16.5zM500.7,1099.0h16.5v16.5h-16.5zM501.0,1098.6h16.5v16.5h-16.5zM501.2,1098.2h16.5v16.5h-16.5zM501.7,1097.6h16.5v16.5h-16.5zM502.1,1097.1h16.5v16.5h-16.5zM502.5,1096.5h16.5v16.5h-16.5zM502.9,1096.0h16.5v16.5h-16.5zM503.2,1095.5h16.5v16.5h-16.5zM503.5,1095.0h16.5v16.5h-16.5zM503.8,1094.5h16.5v16.5h-16.5zM504.1,1094.0h16.5v16.5h-16.5zM504.3,1093.6h16.5v16.5h-16.5zM504.6,1093.1h16.5v16.5h-16.5zM504.8,1092.7h16.5v16.5h-16.5zM505.1,1092.2h16.5v16.5h-16.5zM505.3,1091.8h16.5v16.5h-16.5zM505.5,1091.3h16.5v16.5h-16.5zM505.8,1090.8h16.5v16.5h-16.5zM506.0,1090.3h16.5v16.5h-16.5zM506.2,1089.8h16.5v16.5h-16.5zM506.5,1089.3h16.5v16.5h-16.5zM506.8,1088.8h16.5v16.5h-16.5zM507.0,1088.3h16.5v16.5h-16.5zM507.2,1087.8h16.5v16.5h-16.5zM507.4,1087.3h16.5v16.5h-16.5zM507.6,1086.9h16.5v16.5h-16.5zM507.8,1086.4h16.5v16.5h-16.5zM508.0,1086.0h16.5v16.5h-16.5zM508.2,1085.5h16.5v16.5h-16.5zM508.4,1085.0h16.5v16.5h-16.5zM508.6,1084.6h16.5v16.5h-16.5zM508.8,1084.1h16.5v16.5h-16.5zM509.0,1083.6h16.5v16.5h-16.5zM509.2,1083.1h16.5v16.5h-16.5zM509.4,1082.6h16.5v16.5h-16.5zM509.6,1082.0h16.5v16.5h-16.5zM509.9,1081.5h16.5v16.5h-16.5zM510.1,1080.9h16.5v16.5h-16.5zM510.3,1080.3h16.5v16.5h-16.5zM510.5,1079.7h16.5v16.5h-16.5zM510.8,1079.1h16.5v16.5h-16.5zM511.0,1078.4h16.5v16.5h-16.5zM511.3,1077.7h16.5v16.5h-16.5zM511.5,1077.0h16.5v16.5h-16.5zM511.7,1076.5h16.5v16.5h-16.5zM511.9,1076.0h16.5v16.5h-16.5zM512.1,1075.6h16.5v16.5h-16.5zM512.2,1075.1h16.5v16.5h-16.5zM512.4,1074.6h16.5v16.5h-16.5zM512.6,1074.1h16.5v16.5h-16.5zM512.8,1073.5h16.5v16.5h-16.5zM513.0,1073.0h16.5v16.5h-16.5zM513.2,1072.4h16.5v16.5h-16.5zM513.4,1071.9h16.5v16.5h-16.5zM513.6,1071.3h16.5v16.5h-16.5zM513.8,1070.7h16.5v16.5h-16.5zM514.0,1070.1h16.5v16.5h-16.5zM514.2,1069.5h16.5v16.5h-16.5zM514.4,1068.9h16.5v16.5h-16.5zM514.6,1068.3h16.5v16.5h-16.5zM514.8,1067.7h16.5v16.5h-16.5zM515.0,1067.1h16.5v16.5h-16.5zM515.2,1066.5h16.5v16.5h-16.5zM515.5,1065.9h16.5v16.5h-16.5zM515.7,1065.3h16.5v16.5h-16.5zM515.9,1064.7h16.5v16.5h-16.5zM516.1,1064.0h16.5v16.5h-16.5zM516.3,1063.4h16.5v16.5h-16.5zM516.5,1062.8h16.5v16.5h-16.5zM516.7,1062.2h16.5v16.5h-16.5zM516.9,1061.6h16.5v16.5h-16.5zM517.1,1061.1h16.5v16.5h-16.5zM517.3,1060.5h16.5v16.5h-16.5zM517.5,1059.9h16.5v16.5h-16.5zM517.7,1059.3h16.5v16.5h-16.5zM517.9,1058.8h16.5v16.5h-16.5zM518.1,1058.3h16.5v16.5h-16.5zM518.3,1057.7h16.5v16.5h-16.5zM518.4,1057.2h16.5v16.5h-16.5zM518.6,1056.7h16.5v16.5h-16.5zM518.8,1056.2h16.5v16.5h-16.5zM519.0,1055.8h16.5v16.5h-16.5zM519.2,1055.1h16.5v16.5h-16.5zM519.4,1054.4h16.5v16.5h-16.5zM519.7,1053.7h16.5v16.5h-16.5zM519.9,1053.0h16.5v16.5h-16.5zM520.1,1052.3h16.5v16.5h-16.5zM520.3,1051.7h16.5v16.5h-16.5zM520.5,1051.1h16.5v16.5h-16.5zM520.7,1050.4h16.5v16.5h-16.5zM520.9,1049.8h16.5v16.5h-16.5zM521.1,1049.2h16.5v16.5h-16.5zM521.3,1048.6h16.5v16.5h-16.5zM521.5,1048.0h16.5v16.5h-16.5zM521.7,1047.5h16.5v16.5h-16.5zM521.8,1046.9h16.5v16.5h-16.5zM522.0,1046.4h16.5v16.5h-16.5zM522.2,1045.8h16.5v16.5h-16.5zM522.4,1045.3h16.5v16.5h-16.5zM522.5,1044.8h16.5v16.5h-16.5zM522.7,1044.3h16.5v16.5h-16.5zM522.9,1043.9h16.5v16.5h-16.5zM523.1,1043.4h16.5v16.5h-16.5zM523.2,1043.0h16.5v16.5h-16.5zM523.4,1042.5h16.5v16.5h-16.5zM523.6,1042.1h16.5v16.5h-16.5zM523.8,1041.8h16.5v16.5h-16.5zM524.1,1040.9h16.5v16.5h-16.5zM524.5,1040.2h16.5v16.5h-16.5zM524.9,1039.5h16.5v16.5h-16.5zM525.2,1038.9h16.5v16.5h-16.5zM525.6,1038.4h16.5v16.5h-16.5zM525.9,1038.0h16.5v16.5h-16.5zM526.3,1037.6h16.5v16.5h-16.5zM526.6,1037.3h16.5v16.5h-16.5zM527.0,1037.1h16.5v16.5h-16.5zM527.4,1036.9h16.5v16.5h-16.5zM527.8,1036.8h16.5v16.5h-16.5zM528.2,1036.7h16.5v16.5h-16.5zM528.7,1036.8h16.5v16.5h-16.5zM529.1,1037.0h16.5v16.5h-16.5zM529.6,1037.2h16.5v16.5h-16.5zM530.1,1037.6h16.5v16.5h-16.5zM530.6,1038.0h16.5v16.5h-16.5zM531.1,1038.4h16.5v16.5h-16.5zM531.6,1038.8h16.5v16.5h-16.5zM532.2,1039.3h16.5v16.5h-16.5zM532.8,1039.8h16.5v16.5h-16.5zM533.1,1040.0h16.5v16.5h-16.5zM533.5,1040.4h16.5v16.5h-16.5zM533.9,1040.7h16.5v16.5h-16.5zM534.3,1041.0h16.5v16.5h-16.5zM534.8,1041.4h16.5v16.5h-16.5zM535.2,1041.8h16.5v16.5h-16.5zM535.6,1042.2h16.5v16.5h-16.5zM536.1,1042.6h16.5v16.5h-16.5zM536.5,1043.0h16.5v16.5h-16.5zM537.0,1043.4h16.5v16.5h-16.5zM537.4,1043.8h16.5v16.5h-16.5zM537.9,1044.2h16.5v16.5h-16.5zM538.3,1044.6h16.5v16.5h-16.5zM538.8,1045.0h16.5v16.5h-16.5zM539.3,1045.4h16.5v16.5h-16.5zM539.8,1045.8h16.5v16.5h-16.5zM540.2,1046.1h16.5v16.5h-16.5zM540.6,1046.4h16.5v16.5h-16.5zM541.1,1046.7h16.5v16.5h-16.5zM541.5,1047.1h16.5v16.5h-16.5zM542.0,1047.4h16.5v16.5h-16.5zM542.5,1047.7h16.5v16.5h-16.5zM542.9,1048.0h16.5v16.5h-16.5zM543.4,1048.3h16.5v16.5h-16.5zM543.9,1048.6h16.5v16.5h-16.5zM544.3,1048.9h16.5v16.5h-16.5zM544.8,1049.3h16.5v16.5h-16.5zM545.3,1049.6h16.5v16.5h-16.5zM545.8,1050.0h16.5v16.5h-16.5zM546.3,1050.4h16.5v16.5h-16.5zM546.8,1050.8h16.5v16.5h-16.5zM547.3,1051.3h16.5v16.5h-16.5zM547.8,1051.8h16.5v16.5h-16.5zM548.1,1052.1h16.5v16.5h-16.5zM548.5,1052.5h16.5v16.5h-16.5zM548.8,1052.9h16.5v16.5h-16.5zM549.2,1053.3h16.5v16.5h-16.5zM549.5,1053.7h16.5v16.5h-16.5zM549.9,1054.1h16.5v16.5h-16.5zM550.2,1054.6h16.5v16.5h-16.5zM550.6,1055.0h16.5v16.5h-16.5zM550.9,1055.5h16.5v16.5h-16.5zM551.3,1055.9h16.5v16.5h-16.5zM551.6,1056.4h16.5v16.5h-16.5zM552.0,1056.9h16.5v16.5h-16.5zM552.4,1057.4h16.5v16.5h-16.5zM552.7,1057.8h16.5v16.5h-16.5zM553.1,1058.3h16.5v16.5h-16.5zM553.5,1058.8h16.5v16.5h-16.5zM553.9,1059.3h16.5v16.5h-16.5zM554.3,1059.8h16.5v16.5h-16.5zM554.7,1060.3h16.5v16.5h-16.5zM555.1,1060.8h16.5v16.5h-16.5zM555.5,1061.3h16.5v16.5h-16.5zM555.9,1061.8h16.5v16.5h-16.5zM556.3,1062.3h16.5v16.5h-16.5zM556.8,1062.8h16.5v16.5h-16.5zM557.1,1063.1h16.5v16.5h-16.5zM557.5,1063.6h16.5v16.5h-16.5zM557.9,1064.0h16.5v16.5h-16.5zM558.2,1064.4h16.5v16.5h-16.5zM558.6,1064.8h16.5v16.5h-16.5zM559.0,1065.2h16.5v16.5h-16.5zM559.4,1065.6h16.5v16.5h-16.5zM559.8,1066.0h16.5v16.5h-16.5zM560.2,1066.5h16.5v16.5h-16.5zM560.7,1066.9h16.5v16.5h-16.5zM561.1,1067.3h16.5v16.5h-16.5zM561.5,1067.7h16.5v16.5h-16.5zM561.9,1068.2h16.5v16.5h-16.5zM562.3,1068.6h16.5v16.5h-16.5zM562.8,1069.0h16.5v16.5h-16.5zM563.2,1069.5h16.5v16.5h-16.5zM563.6,1069.9h16.5v16.5h-16.5zM564.0,1070.3h16.5v16.5h-16.5zM564.5,1070.7h16.5v16.5h-16.5zM564.9,1071.1h16.5v16.5h-16.5zM565.3,1071.6h16.5v16.5h-16.5zM565.8,1072.0h16.5v16.5h-16.5zM566.2,1072.4h16.5v16.5h-16.5zM566.6,1072.8h16.5v16.5h-16.5zM567.1,1073.2h16.5v16.5h-16.5zM567.5,1073.6h16.5v16.5h-16.5zM567.9,1074.0h16.5v16.5h-16.5zM568.3,1074.4h16.5v16.5h-16.5zM568.8,1074.8h16.5v16.5h-16.5zM569.2,1075.2h16.5v16.5h-16.5zM569.7,1075.6h16.5v16.5h-16.5zM570.1,1075.9h16.5v16.5h-16.5zM570.6,1076.3h16.5v16.5h-16.5zM571.0,1076.7h16.5v16.5h-16.5zM571.5,1077.1h16.5v16.5h-16.5zM571.9,1077.5h16.5v16.5h-16.5zM572.4,1077.9h16.5v16.5h-16.5zM572.8,1078.2h16.5v16.5h-16.5zM573.3,1078.6h16.5v16.5h-16.5zM573.7,1079.0h16.5v16.5h-16.5zM574.2,1079.3h16.5v16.5h-16.5zM574.6,1079.7h16.5v16.5h-16.5zM575.1,1080.0h16.5v16.5h-16.5zM575.6,1080.4h16.5v16.5h-16.5zM576.0,1080.8h16.5v16.5h-16.5zM576.5,1081.1h16.5v16.5h-16.5zM576.9,1081.5h16.5v16.5h-16.5zM577.4,1081.8h16.5v16.5h-16.5zM577.8,1082.2h16.5v16.5h-16.5zM578.3,1082.5h16.5v16.5h-16.5zM578.8,1082.9h16.5v16.5h-16.5zM579.2,1083.2h16.5v16.5h-16.5zM579.7,1083.6h16.5v16.5h-16.5zM580.1,1083.9h16.5v16.5h-16.5zM580.6,1084.3h16.5v16.5h-16.5zM581.0,1084.7h16.5v16.5h-16.5zM581.5,1085.0h16.5v16.5h-16.5zM582.0,1085.4h16.5v16.5h-16.5zM582.5,1085.7h16.5v16.5h-16.5zM583.0,1086.1h16.5v16.5h-16.5zM583.4,1086.5h16.5v16.5h-16.5zM583.9,1086.8h16.5v16.5h-16.5zM584.4,1087.2h16.5v16.5h-16.5zM584.9,1087.5h16.5v16.5h-16.5zM585.3,1087.9h16.5v16.5h-16.5zM585.8,1088.2h16.5v16.5h-16.5zM586.3,1088.6h16.5v16.5h-16.5zM586.8,1089.0h16.5v16.5h-16.5zM587.2,1089.3h16.5v16.5h-16.5zM587.7,1089.7h16.5v16.5h-16.5zM588.2,1090.0h16.5v16.5h-16.5zM588.7,1090.4h16.5v16.5h-16.5zM589.2,1090.7h16.5v16.5h-16.5zM589.6,1091.1h16.5v16.5h-16.5zM590.1,1091.4h16.5v16.5h-16.5zM590.6,1091.8h16.5v16.5h-16.5zM591.1,1092.1h16.5v16.5h-16.5zM591.5,1092.5h16.5v16.5h-16.5zM592.0,1092.9h16.5v16.5h-16.5zM592.5,1093.2h16.5v16.5h-16.5zM593.0,1093.6h16.5v16.5h-16.5zM593.5,1094.0h16.5v16.5h-16.5zM593.9,1094.3h16.5v16.5h-16.5zM594.4,1094.7h16.5v16.5h-16.5zM594.8,1095.0h16.5v16.5h-16.5zM595.3,1095.4h16.5v16.5h-16.5zM595.7,1095.8h16.5v16.5h-16.5zM596.2,1096.1h16.5v16.5h-16.5zM596.6,1096.5h16.5v16.5h-16.5zM597.1,1096.9h16.5v16.5h-16.5zM597.6,1097.3h16.5v16.5h-16.5zM598.0,1097.6h16.5v16.5h-16.5zM598.5,1098.0h16.5v16.5h-16.5zM598.9,1098.4h16.5v16.5h-16.5zM599.4,1098.8h16.5v16.5h-16.5zM599.8,1099.2h16.5v16.5h-16.5zM600.3,1099.5h16.5v16.5h-16.5zM600.7,1099.9h16.5v16.5h-16.5zM601.2,1100.3h16.5v16.5h-16.5zM601.7,1100.6h16.5v16.5h-16.5zM602.1,1101.0h16.5v16.5h-16.5zM602.6,1101.4h16.5v16.5h-16.5zM603.0,1101.7h16.5v16.5h-16.5zM603.5,1102.1h16.5v16.5h-16.5zM603.9,1102.4h16.5v16.5h-16.5zM604.4,1102.8h16.5v16.5h-16.5zM604.8,1103.1h16.5v16.5h-16.5zM605.3,1103.4h16.5v16.5h-16.5zM605.8,1103.8h16.5v16.5h-16.5zM606.2,1104.1h16.5v16.5h-16.5zM606.7,1104.4h16.5v16.5h-16.5zM607.3,1104.7h16.5v16.5h-16.5zM607.8,1105.0h16.5v16.5h-16.5zM608.3,1105.3h16.5v16.5h-16.5zM608.8,1105.6h16.5v16.5h-16.5zM609.3,1105.9h16.5v16.5h-16.5zM609.8,1106.1h16.5v16.5h-16.5zM610.3,1106.4h16.5v16.5h-16.5zM610.9,1106.6h16.5v16.5h-16.5zM611.4,1106.9h16.5v16.5h-16.5zM611.9,1107.2h16.5v16.5h-16.5zM612.4,1107.4h16.5v16.5h-16.5zM612.9,1107.7h16.5v16.5h-16.5zM613.4,1108.0h16.5v16.5h-16.5zM613.9,1108.2h16.5v16.5h-16.5zM614.4,1108.5h16.5v16.5h-16.5zM614.9,1108.8h16.5v16.5h-16.5zM615.4,1109.1h16.5v16.5h-16.5zM615.8,1109.4h16.5v16.5h-16.5zM616.3,1109.8h16.5v16.5h-16.5zM616.8,1110.1h16.5v16.5h-16.5zM617.2,1110.5h16.5v16.5h-16.5zM617.6,1110.8h16.5v16.5h-16.5zM618.0,1111.2h16.5v16.5h-16.5zM618.4,1111.7h16.5v16.5h-16.5zM618.8,1112.1h16.5v16.5h-16.5zM619.2,1112.5h16.5v16.5h-16.5zM619.5,1112.9h16.5v16.5h-16.5zM619.8,1113.4h16.5v16.5h-16.5zM620.1,1113.9h16.5v16.5h-16.5zM620.4,1114.3h16.5v16.5h-16.5zM620.7,1114.8h16.5v16.5h-16.5zM621.0,1115.3h16.5v16.5h-16.5zM621.3,1115.8h16.5v16.5h-16.5zM621.6,1116.3h16.5v16.5h-16.5zM621.8,1116.8h16.5v16.5h-16.5zM622.1,1117.4h16.5v16.5h-16.5zM622.4,1117.9h16.5v16.5h-16.5zM622.7,1118.4h16.5v16.5h-16.5zM622.9,1118.9h16.5v16.5h-16.5zM623.2,1119.5h16.5v16.5h-16.5zM623.5,1120.0h16.5v16.5h-16.5zM623.8,1120.6h16.5v16.5h-16.5zM624.2,1121.1h16.5v16.5h-16.5zM624.5,1121.7h16.5v16.5h-16.5zM624.9,1122.2h16.5v16.5h-16.5zM625.2,1122.7h16.5v16.5h-16.5zM625.6,1123.3h16.5v16.5h-16.5zM626.0,1123.8h16.5v16.5h-16.5zM626.5,1124.3h16.5v16.5h-16.5zM626.8,1124.8h16.5v16.5h-16.5zM627.1,1125.2h16.5v16.5h-16.5zM627.5,1125.6h16.5v16.5h-16.5zM627.8,1126.0h16.5v16.5h-16.5zM628.2,1126.4h16.5v16.5h-16.5zM628.6,1126.9h16.5v16.5h-16.5zM629.0,1127.3h16.5v16.5h-16.5zM629.4,1127.7h16.5v16.5h-16.5zM629.8,1128.2h16.5v16.5h-16.5zM630.2,1128.6h16.5v16.5h-16.5zM630.6,1129.1h16.5v16.5h-16.5zM631.0,1129.6h16.5v16.5h-16.5zM631.4,1130.0h16.5v16.5h-16.5zM631.8,1130.5h16.5v16.5h-16.5zM632.3,1130.9h16.5v16.5h-16.5zM632.7,1131.4h16.5v16.5h-16.5zM633.1,1131.8h16.5v16.5h-16.5zM633.6,1132.3h16.5v16.5h-16.5zM634.0,1132.7h16.5v16.5h-16.5zM634.5,1133.2h16.5v16.5h-16.5zM634.9,1133.6h16.5v16.5h-16.5zM635.4,1134.1h16.5v16.5h-16.5zM635.8,1134.5h16.5v16.5h-16.5zM636.3,1134.9h16.5v16.5h-16.5zM636.7,1135.3h16.5v16.5h-16.5zM637.1,1135.7h16.5v16.5h-16.5zM637.6,1136.1h16.5v16.5h-16.5zM638.0,1136.5h16.5v16.5h-16.5zM638.5,1136.9h16.5v16.5h-16.5zM638.9,1137.3h16.5v16.5h-16.5zM639.3,1137.6h16.5v16.5h-16.5zM639.8,1138.0h16.5v16.5h-16.5zM640.2,1138.3h16.5v16.5h-16.5zM640.6,1138.6h16.5v16.5h-16.5zM641.0,1139.0h16.5v16.5h-16.5zM641.6,1139.3h16.5v16.5h-16.5zM642.2,1139.7h16.5v16.5h-16.5zM642.7,1140.0h16.5v16.5h-16.5zM643.3,1140.4h16.5v16.5h-16.5zM643.9,1140.7h16.5v16.5h-16.5zM644.5,1141.0h16.5v16.5h-16.5zM645.0,1141.3h16.5v16.5h-16.5zM645.6,1141.6h16.5v16.5h-16.5zM646.2,1141.8h16.5v16.5h-16.5zM646.8,1142.1h16.5v16.5h-16.5zM647.4,1142.3h16.5v16.5h-16.5zM648.0,1142.6h16.5v16.5h-16.5zM648.6,1142.8h16.5v16.5h-16.5zM649.2,1143.0h16.5v16.5h-16.5zM649.7,1143.2h16.5v16.5h-16.5zM650.3,1143.4h16.5v16.5h-16.5zM650.9,1143.6h16.5v16.5h-16.5zM651.4,1143.8h16.5v16.5h-16.5zM651.9,1144.0h16.5v16.5h-16.5zM652.5,1144.2h16.5v16.5h-16.5zM653.0,1144.4h16.5v16.5h-16.5zM653.5,1144.5h16.5v16.5h-16.5zM653.9,1144.7h16.5v16.5h-16.5zM654.4,1144.9h16.5v16.5h-16.5zM654.8,1145.1h16.5v16.5h-16.5zM655.3,1145.3h16.5v16.5h-16.5zM655.6,1145.5h16.5v16.5h-16.5zM656.4,1145.8h16.5v16.5h-16.5zM657.1,1146.1h16.5v16.5h-16.5zM657.7,1146.4h16.5v16.5h-16.5zM658.2,1146.6h16.5v16.5h-16.5zM658.6,1146.8h16.5v16.5h-16.5zM659.0,1147.0h16.5v16.5h-16.5zM659.3,1147.3h16.5v16.5h-16.5zM659.7,1147.5h16.5v16.5h-16.5zM660.1,1147.8h16.5v16.5h-16.5zM660.6,1148.1h16.5v16.5h-16.5zM661.1,1148.5h16.5v16.5h-16.5zM661.8,1149.0h16.5v16.5h-16.5zM662.1,1149.3h16.5v16.5h-16.5zM662.5,1149.7h16.5v16.5h-16.5zM662.9,1150.0h16.5v16.5h-16.5zM663.3,1150.3h16.5v16.5h-16.5zM663.7,1150.7h16.5v16.5h-16.5zM664.1,1151.1h16.5v16.5h-16.5zM664.5,1151.5h16.5v16.5h-16.5zM665.0,1151.9h16.5v16.5h-16.5zM665.4,1152.3h16.5v16.5h-16.5zM665.9,1152.7h16.5v16.5h-16.5zM666.4,1153.2h16.5v16.5h-16.5zM666.8,1153.6h16.5v16.5h-16.5zM667.3,1154.1h16.5v16.5h-16.5zM667.8,1154.5h16.5v16.5h-16.5zM668.2,1155.0h16.5v16.5h-16.5zM668.7,1155.4h16.5v16.5h-16.5zM669.2,1155.9h16.5v16.5h-16.5zM669.6,1156.3h16.5v16.5h-16.5zM670.1,1156.7h16.5v16.5h-16.5zM670.5,1157.2h16.5v16.5h-16.5zM671.0,1157.6h16.5v16.5h-16.5zM671.4,1158.0h16.5v16.5h-16.5zM671.8,1158.4h16.5v16.5h-16.5zM672.2,1158.8h16.5v16.5h-16.5zM672.7,1159.2h16.5v16.5h-16.5zM673.2,1159.6h16.5v16.5h-16.5zM673.7,1160.0h16.5v16.5h-16.5zM674.1,1160.4h16.5v16.5h-16.5zM674.6,1160.8h16.5v16.5h-16.5zM675.0,1161.2h16.5v16.5h-16.5zM675.5,1161.6h16.5v16.5h-16.5zM675.9,1162.0h16.5v16.5h-16.5zM676.3,1162.4h16.5v16.5h-16.5zM676.8,1162.8h16.5v16.5h-16.5zM677.2,1163.1h16.5v16.5h-16.5zM677.6,1163.5h16.5v16.5h-16.5zM678.0,1163.9h16.5v16.5h-16.5zM678.5,1164.3h16.5v16.5h-16.5zM678.9,1164.7h16.5v16.5h-16.5zM679.3,1165.1h16.5v16.5h-16.5zM679.7,1165.5h16.5v16.5h-16.5zM680.2,1165.9h16.5v16.5h-16.5zM680.6,1166.3h16.5v16.5h-16.5zM681.0,1166.8h16.5v16.5h-16.5zM681.4,1167.2h16.5v16.5h-16.5zM681.8,1167.6h16.5v16.5h-16.5zM682.2,1168.0h16.5v16.5h-16.5zM682.6,1168.5h16.5v16.5h-16.5zM683.0,1168.9h16.5v16.5h-16.5zM683.4,1169.4h16.5v16.5h-16.5zM683.8,1169.8h16.5v16.5h-16.5zM684.2,1170.3h16.5v16.5h-16.5zM684.6,1170.8h16.5v16.5h-16.5zM685.0,1171.2h16.5v16.5h-16.5zM685.4,1171.7h16.5v16.5h-16.5zM685.8,1172.2h16.5v16.5h-16.5zM686.2,1172.6h16.5v16.5h-16.5zM686.6,1173.1h16.5v16.5h-16.5zM687.0,1173.6h16.5v16.5h-16.5zM687.4,1174.0h16.5v16.5h-16.5zM687.8,1174.4h16.5v16.5h-16.5zM688.2,1174.8h16.5v16.5h-16.5zM688.6,1175.2h16.5v16.5h-16.5zM689.0,1175.6h16.5v16.5h-16.5zM689.4,1176.0h16.5v16.5h-16.5zM689.9,1176.3h16.5v16.5h-16.5zM690.3,1176.8h16.5v16.5h-16.5zM690.8,1177.1h16.5v16.5h-16.5zM691.3,1177.5h16.5v16.5h-16.5zM691.8,1177.9h16.5v16.5h-16.5zM692.2,1178.2h16.5v16.5h-16.5zM692.7,1178.6h16.5v16.5h-16.5zM693.1,1178.9h16.5v16.5h-16.5zM693.6,1179.2h16.5v16.5h-16.5zM694.1,1179.5h16.5v16.5h-16.5zM694.6,1179.7h16.5v16.5h-16.5zM695.0,1180.0h16.5v16.5h-16.5zM695.5,1180.3h16.5v16.5h-16.5zM696.0,1180.5h16.5v16.5h-16.5zM696.5,1180.8h16.5v16.5h-16.5zM697.1,1181.0h16.5v16.5h-16.5zM697.6,1181.3h16.5v16.5h-16.5zM698.2,1181.5h16.5v16.5h-16.5zM698.8,1181.8h16.5v16.5h-16.5zM699.2,1181.9h16.5v16.5h-16.5zM699.7,1182.1h16.5v16.5h-16.5zM700.3,1182.3h16.5v16.5h-16.5zM700.8,1182.4h16.5v16.5h-16.5zM701.3,1182.6h16.5v16.5h-16.5zM701.9,1182.8h16.5v16.5h-16.5zM702.4,1182.9h16.5v16.5h-16.5zM703.0,1183.0h16.5v16.5h-16.5zM703.5,1183.2h16.5v16.5h-16.5zM704.1,1183.3h16.5v16.5h-16.5zM704.7,1183.4h16.5v16.5h-16.5zM705.3,1183.6h16.5v16.5h-16.5zM705.8,1183.7h16.5v16.5h-16.5zM706.4,1183.8h16.5v16.5h-16.5zM707.0,1183.9h16.5v16.5h-16.5zM707.6,1184.0h16.5v16.5h-16.5zM708.2,1184.2h16.5v16.5h-16.5zM708.8,1184.3h16.5v16.5h-16.5zM709.3,1184.4h16.5v16.5h-16.5zM709.9,1184.5h16.5v16.5h-16.5zM710.5,1184.6h16.5v16.5h-16.5zM711.0,1184.8h16.5v16.5h-16.5zM711.6,1184.9h16.5v16.5h-16.5zM712.2,1185.0h16.5v16.5h-16.5zM712.7,1185.1h16.5v16.5h-16.5zM713.3,1185.1h16.5v16.5h-16.5zM713.9,1185.2h16.5v16.5h-16.5zM714.4,1185.3h16.5v16.5h-16.5zM715.0,1185.3h16.5v16.5h-16.5zM715.6,1185.4h16.5v16.5h-16.5zM716.1,1185.5h16.5v16.5h-16.5zM716.7,1185.5h16.5v16.5h-16.5zM717.2,1185.6h16.5v16.5h-16.5zM717.8,1185.7h16.5v16.5h-16.5zM718.4,1185.8h16.5v16.5h-16.5zM718.9,1185.9h16.5v16.5h-16.5zM719.5,1186.0h16.5v16.5h-16.5zM720.1,1186.1h16.5v16.5h-16.5zM720.6,1186.2h16.5v16.5h-16.5zM721.2,1186.4h16.5v16.5h-16.5zM721.8,1186.6h16.5v16.5h-16.5zM722.3,1186.8h16.5v16.5h-16.5zM722.9,1187.0h16.5v16.5h-16.5zM723.5,1187.2h16.5v16.5h-16.5zM723.9,1187.5h16.5v16.5h-16.5zM724.4,1187.7h16.5v16.5h-16.5zM724.9,1188.0h16.5v16.5h-16.5zM725.3,1188.3h16.5v16.5h-16.5zM725.8,1188.6h16.5v16.5h-16.5zM726.3,1188.9h16.5v16.5h-16.5zM726.8,1189.2h16.5v16.5h-16.5zM727.2,1189.5h16.5v16.5h-16.5zM727.7,1189.8h16.5v16.5h-16.5zM728.2,1190.2h16.5v16.5h-16.5zM728.7,1190.6h16.5v16.5h-16.5zM729.1,1190.9h16.5v16.5h-16.5zM729.6,1191.3h16.5v16.5h-16.5zM730.1,1191.7h16.5v16.5h-16.5zM730.6,1192.1h16.5v16.5h-16.5zM731.0,1192.4h16.5v16.5h-16.5zM731.5,1192.8h16.5v16.5h-16.5zM732.0,1193.2h16.5v16.5h-16.5zM732.4,1193.7h16.5v16.5h-16.5zM732.9,1194.1h16.5v16.5h-16.5zM733.4,1194.5h16.5v16.5h-16.5zM733.9,1194.9h16.5v16.5h-16.5zM734.3,1195.3h16.5v16.5h-16.5zM734.8,1195.7h16.5v16.5h-16.5zM735.3,1196.1h16.5v16.5h-16.5zM735.8,1196.5h16.5v16.5h-16.5zM736.2,1196.9h16.5v16.5h-16.5zM736.6,1197.3h16.5v16.5h-16.5zM737.0,1197.7h16.5v16.5h-16.5zM737.4,1198.1h16.5v16.5h-16.5zM737.9,1198.6h16.5v16.5h-16.5zM738.3,1199.0h16.5v16.5h-16.5zM738.7,1199.4h16.5v16.5h-16.5zM739.1,1199.9h16.5v16.5h-16.5zM739.6,1200.3h16.5v16.5h-16.5zM740.0,1200.8h16.5v16.5h-16.5zM740.4,1201.2h16.5v16.5h-16.5zM740.8,1201.7h16.5v16.5h-16.5zM741.3,1202.2h16.5v16.5h-16.5zM741.7,1202.6h16.5v16.5h-16.5zM742.1,1203.1h16.5v16.5h-16.5zM742.5,1203.5h16.5v16.5h-16.5zM743.0,1204.0h16.5v16.5h-16.5zM743.4,1204.5h16.5v16.5h-16.5zM743.8,1204.9h16.5v16.5h-16.5zM744.2,1205.3h16.5v16.5h-16.5zM744.6,1205.8h16.5v16.5h-16.5zM745.1,1206.2h16.5v16.5h-16.5zM745.5,1206.6h16.5v16.5h-16.5zM745.9,1207.0h16.5v16.5h-16.5zM746.3,1207.4h16.5v16.5h-16.5zM746.8,1207.8h16.5v16.5h-16.5zM747.2,1208.2h16.5v16.5h-16.5zM747.6,1208.5h16.5v16.5h-16.5zM748.0,1208.8h16.5v16.5h-16.5zM748.6,1209.2h16.5v16.5h-16.5zM749.1,1209.6h16.5v16.5h-16.5zM749.6,1210.0h16.5v16.5h-16.5zM750.1,1210.3h16.5v16.5h-16.5zM750.6,1210.7h16.5v16.5h-16.5zM751.1,1211.0h16.5v16.5h-16.5zM751.7,1211.3h16.5v16.5h-16.5zM752.2,1211.6h16.5v16.5h-16.5zM752.7,1211.9h16.5v16.5h-16.5zM753.2,1212.2h16.5v16.5h-16.5zM753.7,1212.5h16.5v16.5h-16.5zM754.2,1212.8h16.5v16.5h-16.5zM754.8,1213.0h16.5v16.5h-16.5zM755.3,1213.3h16.5v16.5h-16.5zM755.8,1213.5h16.5v16.5h-16.5zM756.3,1213.8h16.5v16.5h-16.5zM756.8,1214.0h16.5v16.5h-16.5zM757.4,1214.3h16.5v16.5h-16.5zM757.9,1214.5h16.5v16.5h-16.5zM758.4,1214.7h16.5v16.5h-16.5zM758.9,1215.0h16.5v16.5h-16.5zM759.4,1215.2h16.5v16.5h-16.5zM759.9,1215.4h16.5v16.5h-16.5zM760.5,1215.7h16.5v16.5h-16.5zM761.0,1215.9h16.5v16.5h-16.5zM761.6,1216.1h16.5v16.5h-16.5zM762.1,1216.4h16.5v16.5h-16.5zM762.7,1216.6h16.5v16.5h-16.5zM763.3,1216.9h16.5v16.5h-16.5zM763.8,1217.1h16.5v16.5h-16.5zM764.4,1217.3h16.5v16.5h-16.5zM764.9,1217.5h16.5v16.5h-16.5zM765.5,1217.7h16.5v16.5h-16.5zM766.0,1217.9h16.5v16.5h-16.5zM766.6,1218.2h16.5v16.5h-16.5zM767.2,1218.3h16.5v16.5h-16.5zM767.7,1218.5h16.5v16.5h-16.5zM768.3,1218.7h16.5v16.5h-16.5zM768.8,1218.9h16.5v16.5h-16.5zM769.4,1219.1h16.5v16.5h-16.5zM769.9,1219.2h16.5v16.5h-16.5zM770.5,1219.4h16.5v16.5h-16.5zM771.1,1219.5h16.5v16.5h-16.5zM771.6,1219.7h16.5v16.5h-16.5zM772.2,1219.8h16.5v16.5h-16.5zM772.8,1220.0h16.5v16.5h-16.5zM773.3,1220.1h16.5v16.5h-16.5zM773.9,1220.2h16.5v16.5h-16.5zM774.5,1220.4h16.5v16.5h-16.5zM775.1,1220.5h16.5v16.5h-16.5zM775.7,1220.7h16.5v16.5h-16.5zM776.3,1220.8h16.5v16.5h-16.5zM776.9,1221.0h16.5v16.5h-16.5zM777.5,1221.1h16.5v16.5h-16.5zM778.0,1221.2h16.5v16.5h-16.5zM778.6,1221.4h16.5v16.5h-16.5zM779.2,1221.5h16.5v16.5h-16.5zM779.8,1221.5h16.5v16.5h-16.5zM780.4,1221.6h16.5v16.5h-16.5zM781.0,1221.7h16.5v16.5h-16.5zM781.6,1221.7h16.5v16.5h-16.5zM782.2,1221.7h16.5v16.5h-16.5zM782.8,1221.6h16.5v16.5h-16.5zM783.4,1221.6h16.5v16.5h-16.5zM784.0,1221.5h16.5v16.5h-16.5zM784.6,1221.3h16.5v16.5h-16.5zM785.1,1221.2h16.5v16.5h-16.5zM785.6,1221.0h16.5v16.5h-16.5zM786.1,1220.8h16.5v16.5h-16.5zM786.5,1220.5h16.5v16.5h-16.5zM787.0,1220.2h16.5v16.5h-16.5zM787.5,1219.9h16.5v16.5h-16.5zM787.9,1219.6h16.5v16.5h-16.5zM788.4,1219.3h16.5v16.5h-16.5zM788.9,1218.9h16.5v16.5h-16.5zM789.3,1218.5h16.5v16.5h-16.5zM789.8,1218.1h16.5v16.5h-16.5zM790.3,1217.7h16.5v16.5h-16.5zM790.7,1217.2h16.5v16.5h-16.5zM791.2,1216.8h16.5v16.5h-16.5zM791.7,1216.4h16.5v16.5h-16.5zM792.1,1215.9h16.5v16.5h-16.5zM792.6,1215.5h16.5v16.5h-16.5zM793.1,1215.1h16.5v16.5h-16.5zM793.5,1214.7h16.5v16.5h-16.5zM794.0,1214.2h16.5v16.5h-16.5zM794.5,1213.9h16.5v16.5h-16.5zM795.0,1213.5h16.5v16.5h-16.5zM795.4,1213.1h16.5v16.5h-16.5zM795.9,1212.8h16.5v16.5h-16.5zM796.4,1212.5h16.5v16.5h-16.5zM796.8,1212.2h16.5v16.5h-16.5zM797.3,1212.0h16.5v16.5h-16.5zM797.8,1211.8h16.5v16.5h-16.5zM798.3,1211.5h16.5v16.5h-16.5zM798.9,1211.3h16.5v16.5h-16.5zM799.5,1211.2h16.5v16.5h-16.5zM800.1,1211.1h16.5v16.5h-16.5zM800.7,1211.0h16.5v16.5h-16.5zM801.3,1211.0h16.5v16.5h-16.5zM801.9,1210.9h16.5v16.5h-16.5zM802.5,1210.9h16.5v16.5h-16.5zM803.1,1210.9h16.5v16.5h-16.5zM803.7,1211.0h16.5v16.5h-16.5zM804.3,1211.0h16.5v16.5h-16.5zM804.9,1211.0h16.5v16.5h-16.5zM805.5,1211.0h16.5v16.5h-16.5zM806.1,1211.1h16.5v16.5h-16.5zM806.7,1211.1h16.5v16.5h-16.5zM807.3,1211.1h16.5v16.5h-16.5zM807.9,1211.1h16.5v16.5h-16.5zM808.5,1211.0h16.5v16.5h-16.5zM809.1,1211.0h16.5v16.5h-16.5zM809.7,1210.9h16.5v16.5h-16.5zM810.2,1210.8h16.5v16.5h-16.5zM810.8,1210.6h16.5v16.5h-16.5zM811.3,1210.4h16.5v16.5h-16.5zM811.9,1210.2h16.5v16.5h-16.5zM812.4,1210.0h16.5v16.5h-16.5zM812.9,1209.8h16.5v16.5h-16.5zM813.4,1209.6h16.5v16.5h-16.5zM813.9,1209.3h16.5v16.5h-16.5zM814.5,1209.0h16.5v16.5h-16.5zM815.0,1208.8h16.5v16.5h-16.5zM815.5,1208.5h16.5v16.5h-16.5zM816.0,1208.2h16.5v16.5h-16.5zM816.6,1207.9h16.5v16.5h-16.5zM817.1,1207.7h16.5v16.5h-16.5zM817.6,1207.4h16.5v16.5h-16.5zM818.1,1207.1h16.5v16.5h-16.5zM818.7,1206.9h16.5v16.5h-16.5zM819.2,1206.7h16.5v16.5h-16.5zM819.8,1206.4h16.5v16.5h-16.5zM820.3,1206.3h16.5v16.5h-16.5zM820.9,1206.1h16.5v16.5h-16.5zM821.4,1205.9h16.5v16.5h-16.5zM822.0,1205.8h16.5v16.5h-16.5zM822.5,1205.8h16.5v16.5h-16.5zM823.1,1205.7h16.5v16.5h-16.5zM823.7,1205.7h16.5v16.5h-16.5zM824.2,1205.6h16.5v16.5h-16.5zM824.8,1205.6h16.5v16.5h-16.5zM825.4,1205.7h16.5v16.5h-16.5zM826.0,1205.7h16.5v16.5h-16.5zM826.6,1205.7h16.5v16.5h-16.5zM827.2,1205.8h16.5v16.5h-16.5zM827.8,1205.9h16.5v16.5h-16.5zM828.4,1205.9h16.5v16.5h-16.5zM829.0,1206.0h16.5v16.5h-16.5zM829.6,1206.1h16.5v16.5h-16.5zM830.2,1206.2h16.5v16.5h-16.5zM830.8,1206.3h16.5v16.5h-16.5zM831.4,1206.5h16.5v16.5h-16.5zM832.0,1206.6h16.5v16.5h-16.5zM832.6,1206.7h16.5v16.5h-16.5zM833.2,1206.9h16.5v16.5h-16.5zM833.8,1207.0h16.5v16.5h-16.5zM834.4,1207.2h16.5v16.5h-16.5zM835.0,1207.3h16.5v16.5h-16.5zM835.6,1207.5h16.5v16.5h-16.5zM836.2,1207.6h16.5v16.5h-16.5zM836.8,1207.8h16.5v16.5h-16.5zM837.3,1207.9h16.5v16.5h-16.5zM837.9,1208.1h16.5v16.5h-16.5zM838.5,1208.2h16.5v16.5h-16.5zM839.0,1208.4h16.5v16.5h-16.5zM839.6,1208.6h16.5v16.5h-16.5zM840.2,1208.8h16.5v16.5h-16.5zM840.7,1209.0h16.5v16.5h-16.5zM841.3,1209.2h16.5v16.5h-16.5zM841.9,1209.4h16.5v16.5h-16.5zM842.4,1209.6h16.5v16.5h-16.5zM843.0,1209.8h16.5v16.5h-16.5zM843.5,1210.0h16.5v16.5h-16.5zM844.1,1210.2h16.5v16.5h-16.5zM844.6,1210.4h16.5v16.5h-16.5zM845.2,1210.7h16.5v16.5h-16.5zM845.7,1210.9h16.5v16.5h-16.5zM846.2,1211.1h16.5v16.5h-16.5zM846.8,1211.3h16.5v16.5h-16.5zM847.3,1211.6h16.5v16.5h-16.5zM847.8,1211.8h16.5v16.5h-16.5zM848.3,1212.0h16.5v16.5h-16.5zM848.8,1212.3h16.5v16.5h-16.5zM849.3,1212.5h16.5v16.5h-16.5zM849.8,1212.8h16.5v16.5h-16.5zM850.3,1213.0h16.5v16.5h-16.5zM850.8,1213.3h16.5v16.5h-16.5zM851.3,1213.6h16.5v16.5h-16.5zM851.8,1213.9h16.5v16.5h-16.5zM852.2,1214.2h16.5v16.5h-16.5zM852.7,1214.6h16.5v16.5h-16.5zM853.1,1214.9h16.5v16.5h-16.5zM853.5,1215.2h16.5v16.5h-16.5zM853.9,1215.5h16.5v16.5h-16.5zM854.3,1215.9h16.5v16.5h-16.5zM854.7,1216.2h16.5v16.5h-16.5zM855.2,1216.5h16.5v16.5h-16.5zM855.6,1216.8h16.5v16.5h-16.5zM856.1,1217.2h16.5v16.5h-16.5zM856.6,1217.5h16.5v16.5h-16.5zM857.1,1217.8h16.5v16.5h-16.5zM857.6,1218.1h16.5v16.5h-16.5zM858.2,1218.4h16.5v16.5h-16.5zM858.9,1218.7h16.5v16.5h-16.5zM859.5,1219.0h16.5v16.5h-16.5zM860.0,1219.1h16.5v16.5h-16.5zM860.5,1219.3h16.5v16.5h-16.5zM860.9,1219.5h16.5v16.5h-16.5zM861.4,1219.6h16.5v16.5h-16.5zM862.0,1219.8h16.5v16.5h-16.5zM862.5,1220.0h16.5v16.5h-16.5zM863.0,1220.1h16.5v16.5h-16.5zM863.6,1220.3h16.5v16.5h-16.5zM864.1,1220.4h16.5v16.5h-16.5zM864.7,1220.6h16.5v16.5h-16.5zM865.3,1220.7h16.5v16.5h-16.5zM865.9,1220.9h16.5v16.5h-16.5zM866.4,1221.0h16.5v16.5h-16.5zM867.0,1221.2h16.5v16.5h-16.5zM867.6,1221.4h16.5v16.5h-16.5zM868.3,1221.5h16.5v16.5h-16.5zM868.9,1221.6h16.5v16.5h-16.5zM869.5,1221.8h16.5v16.5h-16.5zM870.1,1221.9h16.5v16.5h-16.5zM870.7,1222.1h16.5v16.5h-16.5zM871.4,1222.2h16.5v16.5h-16.5zM872.0,1222.4h16.5v16.5h-16.5zM872.6,1222.5h16.5v16.5h-16.5zM873.2,1222.7h16.5v16.5h-16.5zM873.8,1222.8h16.5v16.5h-16.5zM874.5,1222.9h16.5v16.5h-16.5zM875.1,1223.1h16.5v16.5h-16.5zM875.7,1223.2h16.5v16.5h-16.5zM876.3,1223.3h16.5v16.5h-16.5zM876.9,1223.5h16.5v16.5h-16.5zM877.5,1223.6h16.5v16.5h-16.5zM878.0,1223.8h16.5v16.5h-16.5zM878.6,1223.9h16.5v16.5h-16.5zM879.2,1224.0h16.5v16.5h-16.5zM879.8,1224.2h16.5v16.5h-16.5zM880.4,1224.3h16.5v16.5h-16.5zM880.9,1224.4h16.5v16.5h-16.5zM881.5,1224.6h16.5v16.5h-16.5zM882.1,1224.7h16.5v16.5h-16.5zM882.7,1224.9h16.5v16.5h-16.5zM883.3,1225.0h16.5v16.5h-16.5zM883.8,1225.1h16.5v16.5h-16.5zM884.4,1225.3h16.5v16.5h-16.5zM885.0,1225.4h16.5v16.5h-16.5zM885.6,1225.6h16.5v16.5h-16.5zM886.1,1225.7h16.5v16.5h-16.5zM886.7,1225.8h16.5v16.5h-16.5zM887.3,1226.0h16.5v16.5h-16.5zM887.9,1226.1h16.5v16.5h-16.5zM888.4,1226.2h16.5v16.5h-16.5zM889.0,1226.3h16.5v16.5h-16.5zM889.6,1226.5h16.5v16.5h-16.5zM890.2,1226.6h16.5v16.5h-16.5zM890.8,1226.7h16.5v16.5h-16.5zM891.3,1226.8h16.5v16.5h-16.5zM891.9,1226.9h16.5v16.5h-16.5zM892.5,1227.0h16.5v16.5h-16.5zM893.1,1227.1h16.5v16.5h-16.5zM893.7,1227.2h16.5v16.5h-16.5zM894.2,1227.3h16.5v16.5h-16.5zM894.8,1227.4h16.5v16.5h-16.5zM895.4,1227.4h16.5v16.5h-16.5zM896.0,1227.5h16.5v16.5h-16.5zM896.5,1227.5h16.5v16.5h-16.5zM897.1,1227.6h16.5v16.5h-16.5zM897.7,1227.6h16.5v16.5h-16.5zM898.3,1227.7h16.5v16.5h-16.5zM898.9,1227.7h16.5v16.5h-16.5zM899.4,1227.7h16.5v16.5h-16.5zM900.0,1227.7h16.5v16.5h-16.5zM900.6,1227.7h16.5v16.5h-16.5zM901.1,1227.7h16.5v16.5h-16.5zM901.7,1227.7h16.5v16.5h-16.5zM902.3,1227.7h16.5v16.5h-16.5zM902.8,1227.7h16.5v16.5h-16.5zM903.4,1227.7h16.5v16.5h-16.5zM904.0,1227.7h16.5v16.5h-16.5zM904.5,1227.7h16.5v16.5h-16.5zM905.1,1227.6h16.5v16.5h-16.5zM905.7,1227.6h16.5v16.5h-16.5zM906.2,1227.6h16.5v16.5h-16.5zM906.8,1227.6h16.5v16.5h-16.5zM907.4,1227.5h16.5v16.5h-16.5zM908.0,1227.5h16.5v16.5h-16.5zM908.6,1227.5h16.5v16.5h-16.5zM909.1,1227.4h16.5v16.5h-16.5zM909.7,1227.4h16.5v16.5h-16.5zM910.3,1227.4h16.5v16.5h-16.5zM910.9,1227.4h16.5v16.5h-16.5zM911.5,1227.3h16.5v16.5h-16.5zM912.1,1227.3h16.5v16.5h-16.5zM912.7,1227.3h16.5v16.5h-16.5zM913.3,1227.3h16.5v16.5h-16.5zM913.9,1227.3h16.5v16.5h-16.5zM914.5,1227.3h16.5v16.5h-16.5zM915.1,1227.2h16.5v16.5h-16.5zM915.7,1227.3h16.5v16.5h-16.5zM916.3,1227.3h16.5v16.5h-16.5zM916.8,1227.3h16.5v16.5h-16.5zM917.4,1227.3h16.5v16.5h-16.5zM917.9,1227.3h16.5v16.5h-16.5zM918.5,1227.3h16.5v16.5h-16.5zM919.1,1227.3h16.5v16.5h-16.5zM919.6,1227.3h16.5v16.5h-16.5zM920.2,1227.3h16.5v16.5h-16.5zM920.8,1227.3h16.5v16.5h-16.5zM921.4,1227.3h16.5v16.5h-16.5zM921.9,1227.3h16.5v16.5h-16.5zM922.5,1227.3h16.5v16.5h-16.5zM923.1,1227.3h16.5v16.5h-16.5zM923.7,1227.3h16.5v16.5h-16.5zM924.3,1227.3h16.5v16.5h-16.5zM924.8,1227.4h16.5v16.5h-16.5zM925.4,1227.4h16.5v16.5h-16.5zM926.0,1227.4h16.5v16.5h-16.5zM926.6,1227.4h16.5v16.5h-16.5zM927.2,1227.4h16.5v16.5h-16.5zM927.8,1227.4h16.5v16.5h-16.5zM928.4,1227.4h16.5v16.5h-16.5zM929.0,1227.4h16.5v16.5h-16.5zM929.6,1227.4h16.5v16.5h-16.5zM930.2,1227.5h16.5v16.5h-16.5zM930.8,1227.5h16.5v16.5h-16.5zM931.4,1227.5h16.5v16.5h-16.5zM932.1,1227.5h16.5v16.5h-16.5zM932.7,1227.5h16.5v16.5h-16.5zM933.3,1227.5h16.5v16.5h-16.5zM933.9,1227.5h16.5v16.5h-16.5zM934.6,1227.5h16.5v16.5h-16.5zM935.2,1227.5h16.5v16.5h-16.5zM935.8,1227.5h16.5v16.5h-16.5zM936.5,1227.5h16.5v16.5h-16.5zM937.0,1227.6h16.5v16.5h-16.5zM937.6,1227.6h16.5v16.5h-16.5zM938.1,1227.6h16.5v16.5h-16.5zM938.7,1227.6h16.5v16.5h-16.5zM939.2,1227.6h16.5v16.5h-16.5zM939.8,1227.6h16.5v16.5h-16.5zM940.4,1227.6h16.5v16.5h-16.5zM940.9,1227.6h16.5v16.5h-16.5zM941.5,1227.6h16.5v16.5h-16.5zM942.1,1227.6h16.5v16.5h-16.5zM942.7,1227.6h16.5v16.5h-16.5zM943.2,1227.6h16.5v16.5h-16.5zM943.8,1227.6h16.5v16.5h-16.5zM944.4,1227.6h16.5v16.5h-16.5zM945.0,1227.6h16.5v16.5h-16.5zM945.6,1227.6h16.5v16.5h-16.5zM946.2,1227.6h16.5v16.5h-16.5zM946.8,1227.5h16.5v16.5h-16.5zM947.3,1227.5h16.5v16.5h-16.5zM947.9,1227.5h16.5v16.5h-16.5zM948.5,1227.5h16.5v16.5h-16.5zM949.1,1227.5h16.5v16.5h-16.5zM949.7,1227.5h16.5v16.5h-16.5zM950.3,1227.5h16.5v16.5h-16.5zM950.9,1227.5h16.5v16.5h-16.5zM951.5,1227.5h16.5v16.5h-16.5zM952.1,1227.5h16.5v16.5h-16.5zM952.7,1227.6h16.5v16.5h-16.5zM953.3,1227.6h16.5v16.5h-16.5zM953.9,1227.6h16.5v16.5h-16.5zM954.5,1227.6h16.5v16.5h-16.5zM955.1,1227.6h16.5v16.5h-16.5zM955.7,1227.6h16.5v16.5h-16.5zM956.3,1227.6h16.5v16.5h-16.5zM956.9,1227.6h16.5v16.5h-16.5zM957.5,1227.6h16.5v16.5h-16.5zM958.1,1227.6h16.5v16.5h-16.5zM958.7,1227.7h16.5v16.5h-16.5zM959.3,1227.7h16.5v16.5h-16.5zM959.9,1227.7h16.5v16.5h-16.5zM960.5,1227.7h16.5v16.5h-16.5zM961.0,1227.8h16.5v16.5h-16.5zM961.6,1227.8h16.5v16.5h-16.5zM962.2,1227.8h16.5v16.5h-16.5zM962.8,1227.8h16.5v16.5h-16.5zM963.4,1227.9h16.5v16.5h-16.5zM964.0,1227.9h16.5v16.5h-16.5zM964.6,1228.0h16.5v16.5h-16.5zM965.2,1228.0h16.5v16.5h-16.5zM965.7,1228.0h16.5v16.5h-16.5zM966.3,1228.1h16.5v16.5h-16.5zM966.9,1228.1h16.5v16.5h-16.5zM967.5,1228.2h16.5v16.5h-16.5zM968.1,1228.2h16.5v16.5h-16.5zM968.7,1228.3h16.5v16.5h-16.5zM969.3,1228.3h16.5v16.5h-16.5zM969.9,1228.4h16.5v16.5h-16.5zM970.5,1228.4h16.5v16.5h-16.5zM971.0,1228.5h16.5v16.5h-16.5zM971.6,1228.5h16.5v16.5h-16.5zM972.2,1228.6h16.5v16.5h-16.5zM972.8,1228.6h16.5v16.5h-16.5zM973.4,1228.7h16.5v16.5h-16.5zM974.0,1228.8h16.5v16.5h-16.5zM974.6,1228.8h16.5v16.5h-16.5zM975.2,1228.9h16.5v16.5h-16.5zM975.7,1228.9h16.5v16.5h-16.5zM976.3,1229.0h16.5v16.5h-16.5zM976.9,1229.0h16.5v16.5h-16.5zM977.5,1229.1h16.5v16.5h-16.5zM978.1,1229.1h16.5v16.5h-16.5zM978.7,1229.2h16.5v16.5h-16.5zM979.3,1229.3h16.5v16.5h-16.5zM979.9,1229.3h16.5v16.5h-16.5zM980.5,1229.4h16.5v16.5h-16.5zM981.0,1229.4h16.5v16.5h-16.5zM981.6,1229.5h16.5v16.5h-16.5zM982.2,1229.5h16.5v16.5h-16.5zM982.8,1229.5h16.5v16.5h-16.5zM983.4,1229.6h16.5v16.5h-16.5zM984.0,1229.6h16.5v16.5h-16.5zM984.6,1229.7h16.5v16.5h-16.5zM985.2,1229.7h16.5v16.5h-16.5zM985.8,1229.8h16.5v16.5h-16.5zM986.3,1229.8h16.5v16.5h-16.5zM986.9,1229.8h16.5v16.5h-16.5zM987.5,1229.9h16.5v16.5h-16.5zM988.1,1229.9h16.5v16.5h-16.5zM988.7,1229.9h16.5v16.5h-16.5zM989.3,1229.9h16.5v16.5h-16.5zM989.9,1230.0h16.5v16.5h-16.5zM990.5,1230.0h16.5v16.5h-16.5zM991.0,1230.0h16.5v16.5h-16.5zM991.6,1230.1h16.5v16.5h-16.5zM992.2,1230.1h16.5v16.5h-16.5zM992.8,1230.1h16.5v16.5h-16.5zM993.4,1230.1h16.5v16.5h-16.5zM994.0,1230.2h16.5v16.5h-16.5zM994.6,1230.2h16.5v16.5h-16.5zM995.2,1230.2h16.5v16.5h-16.5zM995.7,1230.2h16.5v16.5h-16.5zM996.3,1230.2h16.5v16.5h-16.5zM996.9,1230.3h16.5v16.5h-16.5zM997.5,1230.3h16.5v16.5h-16.5zM998.1,1230.3h16.5v16.5h-16.5zM998.7,1230.3h16.5v16.5h-16.5zM999.3,1230.4h16.5v16.5h-16.5zM999.9,1230.4h16.5v16.5h-16.5zM1000.5,1230.4h16.5v16.5h-16.5zM1001.0,1230.4h16.5v16.5h-16.5zM1001.6,1230.4h16.5v16.5h-16.5zM1002.2,1230.5h16.5v16.5h-16.5zM1002.8,1230.5h16.5v16.5h-16.5zM1003.4,1230.5h16.5v16.5h-16.5zM1004.0,1230.5h16.5v16.5h-16.5zM1004.6,1230.5h16.5v16.5h-16.5zM1005.2,1230.6h16.5v16.5h-16.5zM1005.7,1230.6h16.5v16.5h-16.5zM1006.3,1230.6h16.5v16.5h-16.5zM1006.9,1230.6h16.5v16.5h-16.5zM1007.5,1230.6h16.5v16.5h-16.5zM1008.1,1230.7h16.5v16.5h-16.5zM1008.7,1230.7h16.5v16.5h-16.5zM1009.3,1230.7h16.5v16.5h-16.5zM1009.9,1230.7h16.5v16.5h-16.5zM1010.5,1230.8h16.5v16.5h-16.5zM1011.0,1230.8h16.5v16.5h-16.5zM1011.6,1230.8h16.5v16.5h-16.5zM1012.3,1230.8h16.5v16.5h-16.5zM1012.9,1230.8h16.5v16.5h-16.5zM1013.5,1230.9h16.5v16.5h-16.5zM1014.1,1230.9h16.5v16.5h-16.5zM1014.8,1230.9h16.5v16.5h-16.5zM1015.4,1231.0h16.5v16.5h-16.5zM1016.0,1231.0h16.5v16.5h-16.5zM1016.7,1231.0h16.5v16.5h-16.5zM1017.3,1231.0h16.5v16.5h-16.5zM1018.0,1231.1h16.5v16.5h-16.5zM1018.6,1231.1h16.5v16.5h-16.5zM1019.3,1231.1h16.5v16.5h-16.5zM1019.9,1231.1h16.5v16.5h-16.5zM1020.6,1231.2h16.5v16.5h-16.5zM1021.2,1231.2h16.5v16.5h-16.5zM1021.9,1231.2h16.5v16.5h-16.5zM1022.5,1231.3h16.5v16.5h-16.5zM1023.2,1231.3h16.5v16.5h-16.5zM1023.8,1231.3h16.5v16.5h-16.5zM1024.4,1231.3h16.5v16.5h-16.5zM1025.1,1231.4h16.5v16.5h-16.5zM1025.7,1231.4h16.5v16.5h-16.5zM1026.3,1231.4h16.5v16.5h-16.5zM1026.9,1231.4h16.5v16.5h-16.5zM1027.5,1231.5h16.5v16.5h-16.5zM1028.1,1231.5h16.5v16.5h-16.5zM1028.7,1231.5h16.5v16.5h-16.5zM1029.3,1231.5h16.5v16.5h-16.5zM1029.8,1231.6h16.5v16.5h-16.5zM1030.4,1231.6h16.5v16.5h-16.5zM1030.9,1231.6h16.5v16.5h-16.5zM1031.5,1231.6h16.5v16.5h-16.5zM1032.0,1231.6h16.5v16.5h-16.5zM1032.5,1231.7h16.5v16.5h-16.5zM1033.0,1231.7h16.5v16.5h-16.5zM1033.4,1231.7h16.5v16.5h-16.5zM1033.9,1231.7h16.5v16.5h-16.5zM1034.3,1231.7h16.5v16.5h-16.5zM1034.7,1231.7h16.5v16.5h-16.5zM1035.2,1231.8h16.5v16.5h-16.5zM1036.2,1231.8h16.5v16.5h-16.5zM1037.2,1231.8h16.5v16.5h-16.5zM1038.0,1231.8h16.5v16.5h-16.5zM1038.8,1231.8h16.5v16.5h-16.5zM1039.5,1231.8h16.5v16.5h-16.5zM1040.2,1231.8h16.5v16.5h-16.5zM1040.7,1231.8h16.5v16.5h-16.5zM1041.2,1231.8h16.5v16.5h-16.5zM1041.7,1231.8h16.5v16.5h-16.5zM1042.1,1231.8h16.5v16.5h-16.5zM1042.5,1231.8h16.5v16.5h-16.5zM1042.8,1231.8h16.5v16.5h-16.5zM1043.2,1231.8h16.5v16.5h-16.5zM1043.5,1231.8h16.5v16.5h-16.5zM1043.8,1231.8h16.5v16.5h-16.5z" fill="#000"/>
<path clip-path="url(#c2)" d="M240.0,1155.0 C242.3,1154.8 249.3,1154.4 254.0,1154.0 C258.7,1153.6 263.5,1153.2 268.2,1152.4 C272.9,1151.7 277.3,1150.8 282.0,1149.5 C286.7,1148.2 292.6,1146.3 296.4,1144.7 C300.2,1143.1 302.1,1141.6 305.0,1140.0 C307.9,1138.4 310.4,1137.6 314.0,1135.0 C317.6,1132.4 322.7,1128.0 326.3,1124.5 C329.9,1121.0 332.8,1117.6 335.6,1114.0 C338.4,1110.4 340.6,1107.1 343.0,1103.0 C345.4,1098.9 348.0,1093.5 350.0,1089.3 C352.0,1085.1 353.4,1082.1 355.0,1078.0 C356.6,1073.9 358.0,1069.7 359.6,1064.7 C361.2,1059.7 362.9,1053.1 364.5,1048.0 C366.1,1042.9 367.5,1038.5 369.0,1034.0 C370.5,1029.5 371.6,1027.8 373.6,1021.0 C375.6,1014.2 379.0,1002.5 381.2,993.2 C383.4,984.0 385.0,973.9 386.8,965.5 C388.6,957.1 390.5,948.4 392.0,943.0 C393.5,937.6 394.4,935.3 396.0,933.0 C397.6,930.7 399.6,929.5 401.3,929.2 C403.0,929.0 404.6,930.4 406.0,931.5 C407.4,932.6 408.6,934.0 410.0,936.0 C411.4,938.0 412.4,939.7 414.4,943.2 C416.4,946.8 419.5,952.6 421.8,957.3 C424.1,962.0 426.2,966.7 428.1,971.4 C430.0,976.1 431.5,980.8 433.1,985.5 C434.7,990.2 436.4,995.2 437.6,999.6 C438.9,1004.0 439.7,1008.1 440.6,1012.0 C441.5,1015.9 441.8,1018.5 442.9,1022.9 C444.0,1027.3 446.0,1033.1 447.5,1038.2 C449.0,1043.3 450.3,1048.3 451.7,1053.4 C453.1,1058.5 454.5,1063.9 455.9,1068.7 C457.3,1073.5 458.7,1078.1 460.0,1082.0 C461.3,1085.9 462.4,1089.6 463.5,1092.0 C464.6,1094.4 465.1,1097.7 466.4,1096.5 C467.7,1095.3 469.3,1090.4 471.5,1085.0 C473.7,1079.6 476.6,1071.0 479.6,1064.0 C482.6,1057.0 487.1,1048.2 489.7,1042.9 C492.3,1037.6 492.8,1035.8 495.0,1032.3 C497.2,1028.8 499.8,1024.1 503.0,1022.0 C506.2,1019.9 509.5,1019.5 514.0,1019.6 C518.5,1019.7 525.5,1022.1 529.9,1022.8 C534.3,1023.5 537.5,1022.6 540.4,1023.8 C543.3,1025.0 545.6,1027.7 547.4,1030.0 C549.2,1032.3 549.2,1033.5 551.0,1037.6 C552.8,1041.7 555.7,1047.8 557.9,1054.7 C560.1,1061.7 561.7,1071.1 564.0,1079.3 C566.3,1087.5 569.5,1097.9 571.5,1104.0 C573.5,1110.1 574.0,1112.5 576.0,1116.0 C578.0,1119.5 580.0,1122.4 583.2,1125.0 C586.5,1127.6 591.4,1128.8 595.5,1131.8 C599.6,1134.8 603.7,1139.1 607.8,1143.0 C611.9,1146.9 616.5,1151.2 620.2,1155.0 C623.9,1158.8 625.8,1162.1 630.0,1166.0 C634.2,1169.9 641.2,1174.6 645.2,1178.5 C649.2,1182.4 650.7,1184.9 654.0,1189.5 C657.3,1194.1 662.0,1202.0 665.0,1206.0 C668.0,1210.0 669.2,1210.4 672.0,1213.5 C674.8,1216.6 678.2,1220.6 682.0,1224.5 C685.8,1228.4 690.5,1233.2 694.7,1237.0 C698.9,1240.8 702.9,1244.0 707.0,1247.0 C711.1,1250.0 715.2,1252.7 719.3,1254.7 C723.4,1256.7 727.6,1258.0 731.7,1259.0 C735.8,1260.0 739.9,1260.5 744.0,1261.0 C748.1,1261.5 752.2,1261.8 756.3,1262.0 C760.4,1262.2 764.6,1262.3 768.7,1262.0 C772.8,1261.7 776.9,1261.8 781.0,1260.0 C785.1,1258.2 790.2,1253.3 793.4,1251.0 C796.6,1248.7 796.9,1248.5 800.0,1245.9 C803.1,1243.3 808.2,1238.7 812.3,1235.4 C816.4,1232.1 820.6,1229.3 824.7,1226.1 C828.8,1222.9 832.9,1219.5 837.0,1216.3 C841.1,1213.1 845.2,1209.2 849.3,1207.0 C853.4,1204.8 857.6,1203.0 861.7,1203.3 C865.8,1203.6 869.9,1206.4 874.0,1208.9 C878.1,1211.4 882.2,1214.9 886.3,1218.1 C890.4,1221.3 894.6,1225.2 898.7,1228.0 C902.8,1230.8 906.9,1232.8 911.0,1234.8 C915.1,1236.8 917.8,1238.6 923.4,1239.7 C929.0,1240.8 937.1,1241.3 944.7,1241.2 C952.4,1241.1 961.1,1239.7 969.3,1239.3 C977.5,1238.9 985.8,1238.3 994.0,1238.7 C1002.2,1239.1 1010.5,1241.0 1018.7,1241.8 C1026.9,1242.6 1037.9,1243.3 1043.4,1243.7 C1049.0,1244.1 1050.6,1244.0 1052.0,1244.0" fill="none" stroke="#f00" stroke-width="18.5" stroke-linejoin="round" stroke-linecap="round"/>
<path d="M341.0,420.0v-8M341.0,56.0v8M441.9,420.0v-15M441.9,56.0v15M542.9,420.0v-8M542.9,56.0v8M643.9,420.0v-15M643.9,56.0v15M744.9,420.0v-8M744.9,56.0v8M845.9,420.0v-15M845.9,56.0v15M946.8,420.0v-8M946.8,56.0v8M240.0,359.3h8M1047.8,359.3h-8M240.0,298.7h15M1047.8,298.7h-15M240.0,238.0h8M1047.8,238.0h-8M240.0,177.3h15M1047.8,177.3h-15M240.0,116.7h8M1047.8,116.7h-8" stroke="#2e2e2e" stroke-width="3" fill="none"/>
<rect x="240.0" y="56.0" width="807.8" height="364.0" fill="none" stroke="#2e2e2e" stroke-width="3.2"/>
<text class="ts" transform="translate(222.5,437.1) scale(0.98,1)" font-size="62" text-anchor="end" fill="#000">0.00</text>
<text class="ts" transform="translate(222.5,315.8) scale(0.98,1)" font-size="62" text-anchor="end" fill="#000">0.16</text>
<text class="ts" transform="translate(222.5,194.4) scale(0.98,1)" font-size="62" text-anchor="end" fill="#000">0.32</text>
<text class="ts" transform="translate(222.5,73.1) scale(0.98,1)" font-size="62" text-anchor="end" fill="#000">0.48</text>
<path d="M341.0,843.0v-8M341.0,480.0v8M441.9,843.0v-15M441.9,480.0v15M542.9,843.0v-8M542.9,480.0v8M643.9,843.0v-15M643.9,480.0v15M744.9,843.0v-8M744.9,480.0v8M845.9,843.0v-15M845.9,480.0v15M946.8,843.0v-8M946.8,480.0v8M240.0,782.5h8M1047.8,782.5h-8M240.0,722.0h15M1047.8,722.0h-15M240.0,661.5h8M1047.8,661.5h-8M240.0,601.0h15M1047.8,601.0h-15M240.0,540.5h8M1047.8,540.5h-8" stroke="#2e2e2e" stroke-width="3" fill="none"/>
<rect x="240.0" y="480.0" width="807.8" height="363.0" fill="none" stroke="#2e2e2e" stroke-width="3.2"/>
<text class="ts" transform="translate(222.5,860.1) scale(0.98,1)" font-size="62" text-anchor="end" fill="#000">0.00</text>
<text class="ts" transform="translate(222.5,739.1) scale(0.98,1)" font-size="62" text-anchor="end" fill="#000">0.16</text>
<text class="ts" transform="translate(222.5,618.1) scale(0.98,1)" font-size="62" text-anchor="end" fill="#000">0.32</text>
<text class="ts" transform="translate(222.5,497.1) scale(0.98,1)" font-size="62" text-anchor="end" fill="#000">0.48</text>
<path d="M341.0,1267.5v-8M341.0,904.0v8M441.9,1267.5v-15M441.9,904.0v15M542.9,1267.5v-8M542.9,904.0v8M643.9,1267.5v-15M643.9,904.0v15M744.9,1267.5v-8M744.9,904.0v8M845.9,1267.5v-15M845.9,904.0v15M946.8,1267.5v-8M946.8,904.0v8M240.0,1206.9h8M1047.8,1206.9h-8M240.0,1146.3h15M1047.8,1146.3h-15M240.0,1085.8h8M1047.8,1085.8h-8M240.0,1025.2h15M1047.8,1025.2h-15M240.0,964.6h8M1047.8,964.6h-8" stroke="#2e2e2e" stroke-width="3" fill="none"/>
<rect x="240.0" y="904.0" width="807.8" height="363.5" fill="none" stroke="#2e2e2e" stroke-width="3.2"/>
<text class="ts" transform="translate(222.5,1284.6) scale(0.98,1)" font-size="62" text-anchor="end" fill="#000">0.00</text>
<text class="ts" transform="translate(222.5,1163.4) scale(0.98,1)" font-size="62" text-anchor="end" fill="#000">0.16</text>
<text class="ts" transform="translate(222.5,1042.3) scale(0.98,1)" font-size="62" text-anchor="end" fill="#000">0.32</text>
<text class="ts" transform="translate(222.5,921.1) scale(0.98,1)" font-size="62" text-anchor="end" fill="#000">0.48</text>
<rect x="158.3" y="310.1" width="11.7" height="6.2" fill="#fff"/><rect x="176" y="310.1" width="11.5" height="6.2" fill="#fff"/>
<rect x="158.3" y="733.4" width="11.7" height="6.2" fill="#fff"/><rect x="176" y="733.4" width="11.5" height="6.2" fill="#fff"/>
<rect x="158.3" y="1157.7" width="11.7" height="6.2" fill="#fff"/><rect x="176" y="1157.7" width="11.5" height="6.2" fill="#fff"/>
<text class="ts" x="504.0" y="112.9" font-size="66" fill="#000"><tspan font-size="69">(</tspan>a<tspan font-size="69" dx="3.5">)</tspan></text>
<text class="ts" x="502.0" y="537.6" font-size="66" fill="#000"><tspan font-size="69">(</tspan>b<tspan font-size="69" dx="3.5">)</tspan></text>
<text class="ts" x="506.7" y="956.0" font-size="66" fill="#000"><tspan font-size="69">(</tspan>c<tspan font-size="69" dx="1.5">)</tspan></text>
<text class="ts" x="240.0" y="1332" font-size="61.5" text-anchor="middle" fill="#000">0.0</text>
<text class="ts" x="441.9" y="1332" font-size="61.5" text-anchor="middle" fill="#000">2.5</text>
<text class="ts" x="643.9" y="1332" font-size="61.5" text-anchor="middle" fill="#000">5.0</text>
<text class="ts" x="845.9" y="1332" font-size="61.5" text-anchor="middle" fill="#000">7.5</text>
<text class="ts" x="1047.8" y="1332" font-size="61.5" text-anchor="middle" fill="#000">10.0</text>
<rect x="991" y="1326.3" width="12.6" height="6.2" fill="#fff"/><rect x="1009" y="1326.3" width="11.5" height="6.2" fill="#fff"/>
<text class="tf" x="394" y="1396.5" font-size="71.7" fill="#000">Photon energy (eV)</text>
<text class="tf" transform="translate(89.2,862.5) rotate(-90)" x="0" y="0" font-size="81.5" fill="#000">Reflectivity</text>
<line x1="788" y1="95" x2="946" y2="95" stroke="#000" stroke-width="6.5"/>
<rect x="857" y="86" width="18" height="18" fill="#000"/>
<line x1="788" y1="180" x2="946" y2="180" stroke="#f00" stroke-width="6.5"/>
<circle cx="866.3" cy="180" r="9.3" fill="#f00"/>
<text class="tf" x="959" y="120.5" font-size="68" font-style="italic" fill="#000">xx</text>
<text class="tf" x="959" y="204.5" font-size="68" font-style="italic" fill="#000">yy</text>
</svg></div></body></html>
